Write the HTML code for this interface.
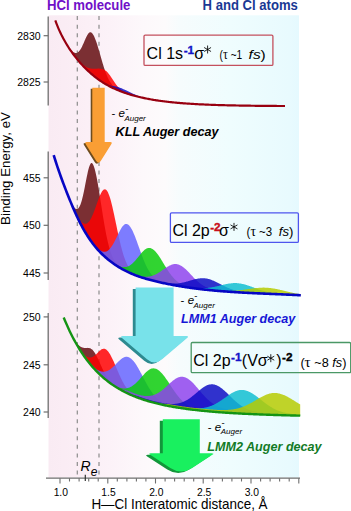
<!DOCTYPE html>
<html><head><meta charset="utf-8"><style>
html,body{margin:0;padding:0;background:#fff;}
body{width:351px;height:511px;overflow:hidden;position:relative;font-family:"Liberation Sans",sans-serif;}
svg{position:absolute;left:0;top:0;display:block;font-family:"Liberation Sans",sans-serif;}
</style></head><body>
<svg width="351" height="511" viewBox="0 0 351 511">
<defs>
<linearGradient id="bg" x1="48.5" y1="0" x2="299" y2="0" gradientUnits="userSpaceOnUse">
<stop offset="0" stop-color="#f9ebf3"/><stop offset="0.06" stop-color="#faecf4"/><stop offset="0.245" stop-color="#fcf2f8"/><stop offset="0.373" stop-color="#fdf8fb"/><stop offset="0.465" stop-color="#fdfbfc"/><stop offset="0.525" stop-color="#f6fcfd"/><stop offset="0.725" stop-color="#effdfe"/><stop offset="0.96" stop-color="#e8fafe"/><stop offset="1" stop-color="#e5f9fe"/>
</linearGradient></defs>
<rect x="0" y="0" width="351" height="511" fill="#fff"/>
<rect x="48.5" y="15.3" width="250.5" height="462.2" fill="url(#bg)"/>
<line x1="77.3" y1="16.1" x2="77.3" y2="476.5" stroke="#8c8c8c" stroke-width="1.2" stroke-dasharray="4.0 4.575"/>
<line x1="99.0" y1="16.1" x2="99.0" y2="476.5" stroke="#8c8c8c" stroke-width="1.2" stroke-dasharray="4.0 4.575"/>
<path d="M57.7,26.6 L58.2,27.8 L58.7,29.0 L59.2,30.1 L59.7,31.2 L60.2,32.3 L60.7,33.3 L61.2,34.4 L61.7,35.4 L62.2,36.3 L62.7,37.3 L63.2,38.2 L63.7,39.2 L64.2,40.1 L64.7,40.9 L65.2,41.8 L65.7,42.6 L66.2,43.4 L66.7,44.2 L67.2,45.0 L67.7,45.8 L68.2,46.5 L68.7,47.2 L69.2,47.9 L69.7,48.5 L70.2,49.2 L70.7,49.7 L71.2,50.3 L71.7,50.8 L72.2,51.3 L72.7,51.7 L73.2,52.1 L73.7,52.4 L74.2,52.6 L74.7,52.8 L75.2,53.0 L75.7,53.0 L76.2,53.0 L76.7,52.9 L77.2,52.7 L77.7,52.5 L78.2,52.1 L78.7,51.7 L79.2,51.1 L79.7,50.5 L80.2,49.8 L80.7,49.0 L81.2,48.2 L81.7,47.2 L82.2,46.2 L82.7,45.1 L83.2,44.0 L83.7,42.9 L84.2,41.7 L84.7,40.6 L85.2,39.4 L85.7,38.3 L86.2,37.2 L86.7,36.2 L87.2,35.3 L87.7,34.5 L88.2,33.7 L88.7,33.1 L89.2,32.7 L89.7,32.3 L90.2,32.2 L90.7,32.2 L91.2,32.4 L91.7,32.8 L92.2,33.3 L92.7,33.9 L93.2,34.7 L93.7,35.6 L94.2,36.6 L94.7,37.7 L95.2,38.9 L95.7,40.2 L96.2,41.6 L96.7,43.1 L97.2,44.6 L97.7,46.2 L98.2,47.9 L98.7,49.6 L99.2,51.3 L99.7,53.1 L100.2,54.8 L100.7,56.6 L101.2,58.3 L101.7,60.1 L102.2,61.8 L102.7,63.5 L103.2,65.1 L103.7,66.7 L104.2,68.2 L104.7,69.7 L105.2,71.1 L105.7,72.5 L106.2,73.8 L106.7,75.1 L107.2,76.3 L107.7,77.4 L108.2,78.4 L108.7,79.4 L109.2,80.4 L109.7,81.2 L110.2,82.1 L110.7,82.8 L111.2,83.6 L111.7,84.2 L112.2,84.9 L112.7,85.4 L113.2,86.0 L113.7,86.5 L114.2,87.0 L114.7,87.4 L115.2,87.8 L115.7,88.2 L116.2,88.6 L116.7,88.9 L117.2,89.2 L117.7,89.5 L118.2,89.8 L118.7,90.1 L119.2,90.4 L119.7,90.6 L120.2,90.9 L120.7,91.1 L121.2,91.3 L121.7,91.5 L122.2,91.7 L122.7,92.0 L123.2,92.2 L123.7,92.3 L124.2,92.5 L124.7,92.7 L125.2,92.9 L125.7,93.1 L126.2,93.2 L126.7,93.4 L127.2,93.6 L127.7,93.8 L128.2,93.9 L128.7,94.1 L129.2,94.2 L129.7,94.4 L130.2,94.5 L130.7,94.7 L131.2,94.8 L131.6,95.0 L131.6,95.0 L131.2,94.8 L130.7,94.7 L130.2,94.5 L129.7,94.4 L129.2,94.2 L128.7,94.1 L128.2,93.9 L127.7,93.8 L127.2,93.6 L126.7,93.4 L126.2,93.3 L125.7,93.1 L125.2,92.9 L124.7,92.8 L124.2,92.6 L123.7,92.4 L123.2,92.2 L122.7,92.0 L122.2,91.9 L121.7,91.7 L121.2,91.5 L120.7,91.3 L120.2,91.1 L119.7,90.9 L119.2,90.7 L118.7,90.5 L118.2,90.3 L117.7,90.1 L117.2,89.9 L116.7,89.7 L116.2,89.4 L115.7,89.2 L115.2,89.0 L114.7,88.8 L114.2,88.5 L113.7,88.3 L113.2,88.1 L112.7,87.8 L112.2,87.6 L111.7,87.4 L111.2,87.1 L110.7,86.9 L110.2,86.6 L109.7,86.4 L109.2,86.1 L108.7,85.8 L108.2,85.6 L107.7,85.3 L107.2,85.0 L106.7,84.7 L106.2,84.4 L105.7,84.2 L105.2,83.9 L104.7,83.6 L104.2,83.3 L103.7,83.0 L103.2,82.6 L102.7,82.3 L102.2,82.0 L101.7,81.7 L101.2,81.4 L100.7,81.0 L100.2,80.7 L99.7,80.3 L99.2,80.0 L98.7,79.6 L98.2,79.3 L97.7,78.9 L97.2,78.5 L96.7,78.2 L96.2,77.8 L95.7,77.4 L95.2,77.0 L94.7,76.6 L94.2,76.2 L93.7,75.8 L93.2,75.4 L92.7,75.0 L92.2,74.6 L91.7,74.2 L91.2,73.7 L90.7,73.3 L90.2,72.9 L89.7,72.4 L89.2,72.0 L88.7,71.5 L88.2,71.0 L87.7,70.6 L87.2,70.1 L86.7,69.6 L86.2,69.1 L85.7,68.6 L85.2,68.1 L84.7,67.6 L84.2,67.1 L83.7,66.6 L83.2,66.1 L82.7,65.5 L82.2,65.0 L81.7,64.5 L81.2,63.9 L80.7,63.3 L80.2,62.8 L79.7,62.2 L79.2,61.6 L78.7,61.0 L78.2,60.5 L77.7,59.9 L77.2,59.2 L76.7,58.6 L76.2,58.0 L75.7,57.4 L75.2,56.7 L74.7,56.1 L74.2,55.4 L73.7,54.8 L73.2,54.1 L72.7,53.4 L72.2,52.7 L71.7,52.0 L71.2,51.3 L70.7,50.6 L70.2,49.8 L69.7,49.1 L69.2,48.4 L68.7,47.6 L68.2,46.8 L67.7,46.0 L67.2,45.2 L66.7,44.4 L66.2,43.6 L65.7,42.7 L65.2,41.9 L64.7,41.0 L64.2,40.1 L63.7,39.2 L63.2,38.3 L62.7,37.3 L62.2,36.4 L61.7,35.4 L61.2,34.4 L60.7,33.4 L60.2,32.3 L59.7,31.2 L59.2,30.1 L58.7,29.0 L58.2,27.8 L57.7,26.6Z" fill="#7b2f33"/>
<path d="M60.2,32.3 L60.7,33.4 L61.2,34.4 L61.7,35.4 L62.2,36.4 L62.7,37.4 L63.2,38.3 L63.7,39.2 L64.2,40.1 L64.7,41.0 L65.2,41.9 L65.7,42.8 L66.2,43.6 L66.7,44.4 L67.2,45.2 L67.7,46.0 L68.2,46.8 L68.7,47.6 L69.2,48.4 L69.7,49.1 L70.2,49.9 L70.7,50.6 L71.2,51.3 L71.7,52.0 L72.2,52.7 L72.7,53.4 L73.2,54.0 L73.7,54.7 L74.2,55.3 L74.7,56.0 L75.2,56.6 L75.7,57.2 L76.2,57.8 L76.7,58.4 L77.2,59.0 L77.7,59.6 L78.2,60.1 L78.7,60.7 L79.2,61.2 L79.7,61.7 L80.2,62.2 L80.7,62.7 L81.2,63.2 L81.7,63.6 L82.2,64.1 L82.7,64.5 L83.2,64.9 L83.7,65.3 L84.2,65.6 L84.7,66.0 L85.2,66.3 L85.7,66.6 L86.2,66.9 L86.7,67.2 L87.2,67.4 L87.7,67.7 L88.2,67.9 L88.7,68.0 L89.2,68.2 L89.7,68.3 L90.2,68.5 L90.7,68.6 L91.2,68.6 L91.7,68.7 L92.2,68.7 L92.7,68.8 L93.2,68.8 L93.7,68.8 L94.2,68.8 L94.7,68.8 L95.2,68.8 L95.7,68.7 L96.2,68.7 L96.7,68.7 L97.2,68.7 L97.7,68.6 L98.2,68.6 L98.7,68.6 L99.2,68.6 L99.7,68.7 L100.2,68.7 L100.7,68.7 L101.2,68.8 L101.7,68.9 L102.2,69.0 L102.7,69.2 L103.2,69.4 L103.7,69.6 L104.2,69.8 L104.7,70.1 L105.2,70.4 L105.7,70.7 L106.2,71.1 L106.7,71.6 L107.2,72.1 L107.7,72.6 L108.2,73.2 L108.7,73.8 L109.2,74.4 L109.7,75.1 L110.2,75.8 L110.7,76.6 L111.2,77.3 L111.7,78.1 L112.2,78.8 L112.7,79.6 L113.2,80.3 L113.7,81.1 L114.2,81.8 L114.7,82.6 L115.2,83.3 L115.7,84.0 L116.2,84.7 L116.7,85.3 L117.2,85.9 L117.7,86.5 L118.2,87.1 L118.7,87.6 L119.2,88.1 L119.7,88.6 L120.2,89.1 L120.7,89.5 L121.2,89.9 L121.7,90.3 L122.2,90.7 L122.7,91.0 L123.2,91.4 L123.7,91.7 L124.2,91.9 L124.7,92.2 L125.2,92.5 L125.7,92.7 L126.2,92.9 L126.7,93.2 L127.2,93.4 L127.7,93.6 L128.2,93.8 L128.7,94.0 L129.2,94.1 L129.7,94.3 L130.2,94.5 L130.7,94.6 L131.2,94.8 L131.7,95.0 L132.2,95.1 L132.7,95.3 L133.2,95.4 L133.7,95.5 L134.2,95.7 L134.7,95.8 L135.2,96.0 L135.7,96.1 L136.2,96.2 L136.7,96.4 L137.2,96.5 L137.7,96.6 L138.2,96.7 L138.7,96.9 L139.2,97.0 L139.7,97.1 L140.2,97.2 L140.2,97.2 L139.7,97.1 L139.2,97.0 L138.7,96.9 L138.2,96.7 L137.7,96.6 L137.2,96.5 L136.7,96.4 L136.2,96.2 L135.7,96.1 L135.2,96.0 L134.7,95.8 L134.2,95.7 L133.7,95.6 L133.2,95.4 L132.7,95.3 L132.2,95.1 L131.7,95.0 L131.2,94.8 L130.7,94.7 L130.2,94.6 L129.7,94.4 L129.2,94.2 L128.7,94.1 L128.2,93.9 L127.7,93.8 L127.2,93.6 L126.7,93.4 L126.2,93.3 L125.7,93.1 L125.2,92.9 L124.7,92.8 L124.2,92.6 L123.7,92.4 L123.2,92.2 L122.7,92.0 L122.2,91.9 L121.7,91.7 L121.2,91.5 L120.7,91.3 L120.2,91.1 L119.7,90.9 L119.2,90.7 L118.7,90.5 L118.2,90.3 L117.7,90.1 L117.2,89.9 L116.7,89.7 L116.2,89.4 L115.7,89.2 L115.2,89.0 L114.7,88.8 L114.2,88.6 L113.7,88.3 L113.2,88.1 L112.7,87.9 L112.2,87.6 L111.7,87.4 L111.2,87.1 L110.7,86.9 L110.2,86.6 L109.7,86.4 L109.2,86.1 L108.7,85.8 L108.2,85.6 L107.7,85.3 L107.2,85.0 L106.7,84.7 L106.2,84.5 L105.7,84.2 L105.2,83.9 L104.7,83.6 L104.2,83.3 L103.7,83.0 L103.2,82.7 L102.7,82.3 L102.2,82.0 L101.7,81.7 L101.2,81.4 L100.7,81.0 L100.2,80.7 L99.7,80.3 L99.2,80.0 L98.7,79.6 L98.2,79.3 L97.7,78.9 L97.2,78.6 L96.7,78.2 L96.2,77.8 L95.7,77.4 L95.2,77.0 L94.7,76.6 L94.2,76.2 L93.7,75.8 L93.2,75.4 L92.7,75.0 L92.2,74.6 L91.7,74.2 L91.2,73.7 L90.7,73.3 L90.2,72.9 L89.7,72.4 L89.2,72.0 L88.7,71.5 L88.2,71.1 L87.7,70.6 L87.2,70.1 L86.7,69.6 L86.2,69.1 L85.7,68.6 L85.2,68.1 L84.7,67.6 L84.2,67.1 L83.7,66.6 L83.2,66.1 L82.7,65.6 L82.2,65.0 L81.7,64.5 L81.2,63.9 L80.7,63.4 L80.2,62.8 L79.7,62.2 L79.2,61.7 L78.7,61.1 L78.2,60.5 L77.7,59.9 L77.2,59.3 L76.7,58.7 L76.2,58.0 L75.7,57.4 L75.2,56.8 L74.7,56.1 L74.2,55.5 L73.7,54.8 L73.2,54.1 L72.7,53.4 L72.2,52.7 L71.7,52.0 L71.2,51.3 L70.7,50.6 L70.2,49.9 L69.7,49.1 L69.2,48.4 L68.7,47.6 L68.2,46.8 L67.7,46.1 L67.2,45.3 L66.7,44.4 L66.2,43.6 L65.7,42.8 L65.2,41.9 L64.7,41.0 L64.2,40.1 L63.7,39.2 L63.2,38.3 L62.7,37.4 L62.2,36.4 L61.7,35.4 L61.2,34.4 L60.7,33.4 L60.2,32.3Z" fill="#ff0000" fill-opacity="0.84"/>
<path d="M88.0,70.9 L88.5,71.3 L89.0,71.8 L89.5,72.2 L90.0,72.7 L90.5,73.1 L91.0,73.6 L91.5,74.0 L92.0,74.4 L92.5,74.9 L93.0,75.3 L93.5,75.7 L94.0,76.1 L94.5,76.5 L95.0,76.9 L95.5,77.3 L96.0,77.6 L96.5,78.0 L97.0,78.4 L97.5,78.8 L98.0,79.1 L98.5,79.5 L99.0,79.8 L99.5,80.2 L100.0,80.5 L100.5,80.8 L101.0,81.1 L101.5,81.5 L102.0,81.8 L102.5,82.1 L103.0,82.3 L103.5,82.6 L104.0,82.9 L104.5,83.2 L105.0,83.4 L105.5,83.7 L106.0,83.9 L106.5,84.1 L107.0,84.3 L107.5,84.5 L108.0,84.7 L108.5,84.9 L109.0,85.0 L109.5,85.2 L110.0,85.3 L110.5,85.4 L111.0,85.6 L111.5,85.7 L112.0,85.8 L112.5,85.9 L113.0,86.0 L113.5,86.1 L114.0,86.2 L114.5,86.3 L115.0,86.3 L115.5,86.4 L116.0,86.5 L116.5,86.7 L117.0,86.8 L117.5,86.9 L118.0,87.0 L118.5,87.2 L119.0,87.4 L119.5,87.5 L120.0,87.7 L120.5,87.9 L121.0,88.1 L121.5,88.3 L122.0,88.5 L122.5,88.8 L123.0,89.0 L123.5,89.2 L124.0,89.4 L124.5,89.6 L125.0,89.9 L125.5,90.1 L126.0,90.3 L126.5,90.6 L127.0,90.8 L127.5,91.1 L128.0,91.3 L128.5,91.5 L129.0,91.8 L129.5,92.0 L130.0,92.3 L130.5,92.5 L131.0,92.7 L131.5,93.0 L132.0,93.2 L132.5,93.4 L133.0,93.7 L133.5,93.9 L134.0,94.1 L134.5,94.3 L135.0,94.5 L135.5,94.8 L136.0,95.0 L136.5,95.2 L137.0,95.4 L137.5,95.6 L138.0,95.8 L138.5,95.9 L139.0,96.1 L139.5,96.3 L140.0,96.5 L140.5,96.6 L141.0,96.8 L141.5,97.0 L142.0,97.1 L142.5,97.3 L143.0,97.4 L143.5,97.6 L144.0,97.7 L144.5,97.8 L145.0,98.0 L145.5,98.1 L146.0,98.2 L146.5,98.4 L147.0,98.5 L147.5,98.6 L148.0,98.7 L148.5,98.8 L149.0,98.9 L149.5,99.0 L150.0,99.1 L150.5,99.2 L151.0,99.3 L151.5,99.4 L152.0,99.5 L152.5,99.6 L153.0,99.7 L153.5,99.8 L154.0,99.9 L154.5,100.0 L155.0,100.1 L155.5,100.1 L156.0,100.2 L156.5,100.3 L157.0,100.4 L157.5,100.5 L158.0,100.5 L158.5,100.6 L159.0,100.7 L159.5,100.8 L160.0,100.8 L160.5,100.9 L161.0,101.0 L161.5,101.0 L162.0,101.1 L162.5,101.2 L163.0,101.2 L163.5,101.3 L164.0,101.4 L164.5,101.4 L165.0,101.5 L165.5,101.5 L166.0,101.6 L166.5,101.7 L167.0,101.7 L167.5,101.8 L168.0,101.8 L168.5,101.9 L169.0,102.0 L169.5,102.0 L170.0,102.1 L170.5,102.1 L171.0,102.2 L171.2,102.2 L171.2,102.2 L171.0,102.2 L170.5,102.1 L170.0,102.1 L169.5,102.0 L169.0,102.0 L168.5,101.9 L168.0,101.8 L167.5,101.8 L167.0,101.7 L166.5,101.7 L166.0,101.6 L165.5,101.6 L165.0,101.5 L164.5,101.4 L164.0,101.4 L163.5,101.3 L163.0,101.2 L162.5,101.2 L162.0,101.1 L161.5,101.0 L161.0,101.0 L160.5,100.9 L160.0,100.8 L159.5,100.8 L159.0,100.7 L158.5,100.6 L158.0,100.5 L157.5,100.5 L157.0,100.4 L156.5,100.3 L156.0,100.2 L155.5,100.2 L155.0,100.1 L154.5,100.0 L154.0,99.9 L153.5,99.8 L153.0,99.8 L152.5,99.7 L152.0,99.6 L151.5,99.5 L151.0,99.4 L150.5,99.3 L150.0,99.2 L149.5,99.1 L149.0,99.1 L148.5,99.0 L148.0,98.9 L147.5,98.8 L147.0,98.7 L146.5,98.6 L146.0,98.5 L145.5,98.4 L145.0,98.3 L144.5,98.2 L144.0,98.1 L143.5,98.0 L143.0,97.8 L142.5,97.7 L142.0,97.6 L141.5,97.5 L141.0,97.4 L140.5,97.3 L140.0,97.2 L139.5,97.1 L139.0,96.9 L138.5,96.8 L138.0,96.7 L137.5,96.6 L137.0,96.4 L136.5,96.3 L136.0,96.2 L135.5,96.0 L135.0,95.9 L134.5,95.8 L134.0,95.6 L133.5,95.5 L133.0,95.4 L132.5,95.2 L132.0,95.1 L131.5,94.9 L131.0,94.8 L130.5,94.6 L130.0,94.5 L129.5,94.3 L129.0,94.2 L128.5,94.0 L128.0,93.9 L127.5,93.7 L127.0,93.5 L126.5,93.4 L126.0,93.2 L125.5,93.0 L125.0,92.9 L124.5,92.7 L124.0,92.5 L123.5,92.3 L123.0,92.2 L122.5,92.0 L122.0,91.8 L121.5,91.6 L121.0,91.4 L120.5,91.2 L120.0,91.0 L119.5,90.8 L119.0,90.6 L118.5,90.4 L118.0,90.2 L117.5,90.0 L117.0,89.8 L116.5,89.6 L116.0,89.4 L115.5,89.1 L115.0,88.9 L114.5,88.7 L114.0,88.5 L113.5,88.2 L113.0,88.0 L112.5,87.8 L112.0,87.5 L111.5,87.3 L111.0,87.0 L110.5,86.8 L110.0,86.5 L109.5,86.3 L109.0,86.0 L108.5,85.7 L108.0,85.5 L107.5,85.2 L107.0,84.9 L106.5,84.6 L106.0,84.3 L105.5,84.1 L105.0,83.8 L104.5,83.5 L104.0,83.2 L103.5,82.8 L103.0,82.5 L102.5,82.2 L102.0,81.9 L101.5,81.6 L101.0,81.2 L100.5,80.9 L100.0,80.6 L99.5,80.2 L99.0,79.9 L98.5,79.5 L98.0,79.1 L97.5,78.8 L97.0,78.4 L96.5,78.0 L96.0,77.7 L95.5,77.3 L95.0,76.9 L94.5,76.5 L94.0,76.1 L93.5,75.7 L93.0,75.3 L92.5,74.9 L92.0,74.4 L91.5,74.0 L91.0,73.6 L90.5,73.1 L90.0,72.7 L89.5,72.2 L89.0,71.8 L88.5,71.3 L88.0,70.9Z" fill="#0b0bc3" fill-opacity="0.84"/>
<path d="M60.4,175.4 L60.9,176.8 L61.4,178.2 L61.9,179.5 L62.4,180.9 L62.9,182.3 L63.4,183.6 L63.9,184.9 L64.4,186.2 L64.9,187.5 L65.4,188.8 L65.9,190.1 L66.4,191.3 L66.9,192.6 L67.4,193.8 L67.9,195.0 L68.4,196.2 L68.9,197.4 L69.4,198.6 L69.9,199.7 L70.4,200.8 L70.9,201.8 L71.4,202.8 L71.9,203.8 L72.4,204.7 L72.9,205.6 L73.4,206.4 L73.9,207.1 L74.4,207.7 L74.9,208.2 L75.4,208.6 L75.9,208.9 L76.4,209.1 L76.9,209.1 L77.4,209.0 L77.9,208.7 L78.4,208.3 L78.9,207.6 L79.4,206.8 L79.9,205.8 L80.4,204.7 L80.9,203.3 L81.4,201.7 L81.9,200.0 L82.4,198.0 L82.9,195.9 L83.4,193.7 L83.9,191.4 L84.4,188.9 L84.9,186.4 L85.4,183.8 L85.9,181.3 L86.4,178.7 L86.9,176.2 L87.4,173.9 L87.9,171.6 L88.4,169.6 L88.9,167.7 L89.4,166.2 L89.9,164.9 L90.4,163.9 L90.9,163.2 L91.4,163.0 L91.9,163.0 L92.4,163.5 L92.9,164.3 L93.4,165.3 L93.9,166.6 L94.4,168.1 L94.9,169.8 L95.4,171.8 L95.9,173.9 L96.4,176.3 L96.9,178.8 L97.4,181.4 L97.9,184.2 L98.4,187.2 L98.9,190.2 L99.4,193.3 L99.9,196.4 L100.4,199.7 L100.9,202.9 L101.4,206.1 L101.9,209.3 L102.4,212.5 L102.9,215.7 L103.4,218.7 L103.9,221.7 L104.4,224.7 L104.9,227.5 L105.4,230.3 L105.9,232.9 L106.4,235.4 L106.9,237.8 L107.4,240.1 L107.9,242.3 L108.4,244.3 L108.9,246.2 L109.4,248.0 L109.9,249.7 L110.4,251.3 L110.9,252.8 L111.4,254.2 L111.9,255.5 L112.4,256.7 L112.9,257.8 L113.4,258.8 L113.9,259.8 L114.4,260.6 L114.9,261.5 L115.4,262.2 L115.9,262.9 L116.4,263.6 L116.9,264.2 L117.4,264.8 L117.9,265.3 L118.4,265.8 L118.9,266.3 L119.4,266.7 L119.9,267.1 L120.4,267.5 L120.9,267.9 L121.4,268.3 L121.9,268.6 L122.4,269.0 L122.9,269.3 L123.4,269.6 L123.9,269.9 L124.4,270.2 L124.9,270.4 L125.4,270.7 L125.9,271.0 L126.4,271.2 L126.9,271.5 L127.4,271.8 L127.9,272.0 L128.4,272.2 L128.9,272.5 L129.4,272.7 L129.9,272.9 L130.4,273.2 L130.9,273.4 L131.4,273.6 L131.9,273.8 L132.4,274.0 L132.4,274.0 L131.9,273.8 L131.4,273.6 L130.9,273.4 L130.4,273.2 L129.9,272.9 L129.4,272.7 L128.9,272.5 L128.4,272.3 L127.9,272.0 L127.4,271.8 L126.9,271.5 L126.4,271.3 L125.9,271.0 L125.4,270.8 L124.9,270.5 L124.4,270.3 L123.9,270.0 L123.4,269.7 L122.9,269.5 L122.4,269.2 L121.9,268.9 L121.4,268.6 L120.9,268.4 L120.4,268.1 L119.9,267.8 L119.4,267.5 L118.9,267.2 L118.4,266.9 L117.9,266.5 L117.4,266.2 L116.9,265.9 L116.4,265.6 L115.9,265.3 L115.4,264.9 L114.9,264.6 L114.4,264.2 L113.9,263.9 L113.4,263.5 L112.9,263.2 L112.4,262.8 L111.9,262.5 L111.4,262.1 L110.9,261.7 L110.4,261.3 L109.9,260.9 L109.4,260.5 L108.9,260.1 L108.4,259.7 L107.9,259.3 L107.4,258.9 L106.9,258.5 L106.4,258.1 L105.9,257.6 L105.4,257.2 L104.9,256.8 L104.4,256.3 L103.9,255.9 L103.4,255.4 L102.9,254.9 L102.4,254.4 L101.9,253.9 L101.4,253.4 L100.9,252.9 L100.4,252.4 L99.9,251.9 L99.4,251.4 L98.9,250.8 L98.4,250.3 L97.9,249.8 L97.4,249.2 L96.9,248.6 L96.4,248.0 L95.9,247.4 L95.4,246.8 L94.9,246.2 L94.4,245.6 L93.9,245.0 L93.4,244.3 L92.9,243.7 L92.4,243.0 L91.9,242.3 L91.4,241.7 L90.9,241.0 L90.4,240.3 L89.9,239.5 L89.4,238.8 L88.9,238.1 L88.4,237.3 L87.9,236.5 L87.4,235.8 L86.9,235.0 L86.4,234.2 L85.9,233.4 L85.4,232.5 L84.9,231.7 L84.4,230.8 L83.9,230.0 L83.4,229.1 L82.9,228.2 L82.4,227.3 L81.9,226.3 L81.4,225.4 L80.9,224.5 L80.4,223.5 L79.9,222.5 L79.4,221.5 L78.9,220.5 L78.4,219.5 L77.9,218.4 L77.4,217.4 L76.9,216.3 L76.4,215.2 L75.9,214.1 L75.4,213.0 L74.9,211.9 L74.4,210.8 L73.9,209.7 L73.4,208.5 L72.9,207.3 L72.4,206.2 L71.9,205.0 L71.4,203.8 L70.9,202.6 L70.4,201.4 L69.9,200.2 L69.4,199.0 L68.9,197.7 L68.4,196.5 L67.9,195.2 L67.4,194.0 L66.9,192.7 L66.4,191.4 L65.9,190.1 L65.4,188.9 L64.9,187.6 L64.4,186.3 L63.9,184.9 L63.4,183.6 L62.9,182.3 L62.4,180.9 L61.9,179.6 L61.4,178.2 L60.9,176.8 L60.4,175.4Z" fill="#7b2f33"/>
<path d="M59.8,173.7 L60.3,175.1 L60.8,176.5 L61.3,177.9 L61.8,179.3 L62.3,180.6 L62.8,182.0 L63.3,183.3 L63.8,184.7 L64.3,186.0 L64.8,187.3 L65.3,188.6 L65.8,189.9 L66.3,191.1 L66.8,192.4 L67.3,193.7 L67.8,194.9 L68.3,196.2 L68.8,197.4 L69.3,198.6 L69.8,199.8 L70.3,201.0 L70.8,202.2 L71.3,203.4 L71.8,204.5 L72.3,205.7 L72.8,206.8 L73.3,207.9 L73.8,209.0 L74.3,210.0 L74.8,211.1 L75.3,212.1 L75.8,213.1 L76.3,214.0 L76.8,215.0 L77.3,215.9 L77.8,216.8 L78.3,217.6 L78.8,218.4 L79.3,219.1 L79.8,219.8 L80.3,220.5 L80.8,221.1 L81.3,221.7 L81.8,222.2 L82.3,222.6 L82.8,223.0 L83.3,223.3 L83.8,223.5 L84.3,223.7 L84.8,223.8 L85.3,223.8 L85.8,223.8 L86.3,223.7 L86.8,223.5 L87.3,223.2 L87.8,222.8 L88.3,222.3 L88.8,221.8 L89.3,221.2 L89.8,220.5 L90.3,219.7 L90.8,218.8 L91.3,217.9 L91.8,216.8 L92.3,215.8 L92.8,214.6 L93.3,213.4 L93.8,212.1 L94.3,210.8 L94.8,209.5 L95.3,208.1 L95.8,206.7 L96.3,205.3 L96.8,203.8 L97.3,202.4 L97.8,201.0 L98.3,199.7 L98.8,198.3 L99.3,197.1 L99.8,195.8 L100.3,194.7 L100.8,193.7 L101.3,192.7 L101.8,191.8 L102.3,191.1 L102.8,190.5 L103.3,190.0 L103.8,189.6 L104.3,189.4 L104.8,189.3 L105.3,189.4 L105.8,189.6 L106.3,190.0 L106.8,190.5 L107.3,191.3 L107.8,192.1 L108.3,193.2 L108.8,194.4 L109.3,195.7 L109.8,197.2 L110.3,198.8 L110.8,200.6 L111.3,202.5 L111.8,204.4 L112.3,206.5 L112.8,208.7 L113.3,210.9 L113.8,213.2 L114.3,215.5 L114.8,217.9 L115.3,220.3 L115.8,222.7 L116.3,225.1 L116.8,227.5 L117.3,229.9 L117.8,232.3 L118.3,234.6 L118.8,236.9 L119.3,239.1 L119.8,241.2 L120.3,243.3 L120.8,245.4 L121.3,247.3 L121.8,249.2 L122.3,251.0 L122.8,252.8 L123.3,254.4 L123.8,256.0 L124.3,257.4 L124.8,258.8 L125.3,260.2 L125.8,261.4 L126.3,262.6 L126.8,263.7 L127.3,264.7 L127.8,265.7 L128.3,266.6 L128.8,267.4 L129.3,268.2 L129.8,268.9 L130.3,269.6 L130.8,270.2 L131.3,270.8 L131.8,271.4 L132.3,271.9 L132.8,272.3 L133.3,272.8 L133.8,273.2 L134.3,273.6 L134.8,273.9 L135.3,274.3 L135.8,274.6 L136.3,274.9 L136.8,275.2 L137.3,275.4 L137.8,275.7 L138.3,275.9 L138.8,276.2 L139.3,276.4 L139.8,276.6 L140.3,276.8 L140.8,277.0 L141.3,277.2 L141.8,277.4 L142.3,277.5 L142.8,277.7 L143.3,277.9 L143.8,278.0 L144.3,278.2 L144.8,278.4 L145.3,278.5 L145.8,278.7 L146.3,278.8 L146.8,279.0 L147.3,279.1 L147.8,279.2 L148.3,279.4 L148.8,279.5 L149.3,279.7 L149.8,279.8 L150.3,279.9 L150.8,280.1 L151.0,280.1 L151.0,280.1 L150.8,280.1 L150.3,279.9 L149.8,279.8 L149.3,279.7 L148.8,279.5 L148.3,279.4 L147.8,279.3 L147.3,279.1 L146.8,279.0 L146.3,278.8 L145.8,278.7 L145.3,278.5 L144.8,278.4 L144.3,278.2 L143.8,278.1 L143.3,277.9 L142.8,277.8 L142.3,277.6 L141.8,277.5 L141.3,277.3 L140.8,277.1 L140.3,277.0 L139.8,276.8 L139.3,276.6 L138.8,276.5 L138.3,276.3 L137.8,276.1 L137.3,275.9 L136.8,275.7 L136.3,275.6 L135.8,275.4 L135.3,275.2 L134.8,275.0 L134.3,274.8 L133.8,274.6 L133.3,274.4 L132.8,274.2 L132.3,274.0 L131.8,273.8 L131.3,273.6 L130.8,273.3 L130.3,273.1 L129.8,272.9 L129.3,272.7 L128.8,272.4 L128.3,272.2 L127.8,272.0 L127.3,271.7 L126.8,271.5 L126.3,271.2 L125.8,271.0 L125.3,270.7 L124.8,270.5 L124.3,270.2 L123.8,270.0 L123.3,269.7 L122.8,269.4 L122.3,269.1 L121.8,268.9 L121.3,268.6 L120.8,268.3 L120.3,268.0 L119.8,267.7 L119.3,267.4 L118.8,267.1 L118.3,266.8 L117.8,266.5 L117.3,266.2 L116.8,265.8 L116.3,265.5 L115.8,265.2 L115.3,264.9 L114.8,264.5 L114.3,264.2 L113.8,263.8 L113.3,263.5 L112.8,263.1 L112.3,262.7 L111.8,262.4 L111.3,262.0 L110.8,261.6 L110.3,261.2 L109.8,260.9 L109.3,260.5 L108.8,260.1 L108.3,259.7 L107.8,259.3 L107.3,258.8 L106.8,258.4 L106.3,258.0 L105.8,257.6 L105.3,257.1 L104.8,256.7 L104.3,256.2 L103.8,255.8 L103.3,255.3 L102.8,254.8 L102.3,254.3 L101.8,253.8 L101.3,253.3 L100.8,252.8 L100.3,252.3 L99.8,251.8 L99.3,251.3 L98.8,250.7 L98.3,250.2 L97.8,249.6 L97.3,249.1 L96.8,248.5 L96.3,247.9 L95.8,247.3 L95.3,246.7 L94.8,246.1 L94.3,245.5 L93.8,244.8 L93.3,244.2 L92.8,243.6 L92.3,242.9 L91.8,242.2 L91.3,241.5 L90.8,240.8 L90.3,240.1 L89.8,239.4 L89.3,238.7 L88.8,237.9 L88.3,237.2 L87.8,236.4 L87.3,235.6 L86.8,234.8 L86.3,234.0 L85.8,233.2 L85.3,232.4 L84.8,231.5 L84.3,230.7 L83.8,229.8 L83.3,228.9 L82.8,228.0 L82.3,227.1 L81.8,226.2 L81.3,225.2 L80.8,224.3 L80.3,223.3 L79.8,222.3 L79.3,221.3 L78.8,220.3 L78.3,219.3 L77.8,218.2 L77.3,217.2 L76.8,216.1 L76.3,215.0 L75.8,213.9 L75.3,212.8 L74.8,211.7 L74.3,210.6 L73.8,209.4 L73.3,208.3 L72.8,207.1 L72.3,205.9 L71.8,204.8 L71.3,203.6 L70.8,202.4 L70.3,201.2 L69.8,199.9 L69.3,198.7 L68.8,197.5 L68.3,196.2 L67.8,195.0 L67.3,193.7 L66.8,192.4 L66.3,191.2 L65.8,189.9 L65.3,188.6 L64.8,187.3 L64.3,186.0 L63.8,184.7 L63.3,183.3 L62.8,182.0 L62.3,180.6 L61.8,179.3 L61.3,177.9 L60.8,176.5 L60.3,175.1 L59.8,173.7Z" fill="#ff0000" fill-opacity="0.84"/>
<path d="M79.4,221.5 L79.9,222.5 L80.4,223.5 L80.9,224.5 L81.4,225.4 L81.9,226.3 L82.4,227.3 L82.9,228.2 L83.4,229.1 L83.9,230.0 L84.4,230.8 L84.9,231.7 L85.4,232.5 L85.9,233.3 L86.4,234.1 L86.9,234.9 L87.4,235.7 L87.9,236.5 L88.4,237.3 L88.9,238.0 L89.4,238.7 L89.9,239.4 L90.4,240.2 L90.9,240.8 L91.4,241.5 L91.9,242.2 L92.4,242.8 L92.9,243.4 L93.4,244.1 L93.9,244.7 L94.4,245.2 L94.9,245.8 L95.4,246.3 L95.9,246.9 L96.4,247.4 L96.9,247.9 L97.4,248.3 L97.9,248.8 L98.4,249.2 L98.9,249.6 L99.4,249.9 L99.9,250.3 L100.4,250.6 L100.9,250.8 L101.4,251.1 L101.9,251.3 L102.4,251.5 L102.9,251.6 L103.4,251.7 L103.9,251.8 L104.4,251.8 L104.9,251.7 L105.4,251.7 L105.9,251.5 L106.4,251.4 L106.9,251.2 L107.4,250.9 L107.9,250.6 L108.4,250.2 L108.9,249.7 L109.4,249.3 L109.9,248.7 L110.4,248.1 L110.9,247.5 L111.4,246.8 L111.9,246.1 L112.4,245.3 L112.9,244.5 L113.4,243.6 L113.9,242.7 L114.4,241.8 L114.9,240.8 L115.4,239.8 L115.9,238.8 L116.4,237.8 L116.9,236.7 L117.4,235.7 L117.9,234.7 L118.4,233.6 L118.9,232.6 L119.4,231.7 L119.9,230.7 L120.4,229.8 L120.9,228.9 L121.4,228.1 L121.9,227.3 L122.4,226.6 L122.9,226.0 L123.4,225.4 L123.9,224.9 L124.4,224.5 L124.9,224.2 L125.4,224.0 L125.9,223.9 L126.4,223.9 L126.9,224.0 L127.4,224.2 L127.9,224.5 L128.4,224.8 L128.9,225.3 L129.4,225.8 L129.9,226.4 L130.4,227.1 L130.9,227.9 L131.4,228.7 L131.9,229.6 L132.4,230.6 L132.9,231.6 L133.4,232.7 L133.9,233.9 L134.4,235.1 L134.9,236.3 L135.4,237.6 L135.9,238.9 L136.4,240.2 L136.9,241.6 L137.4,243.0 L137.9,244.4 L138.4,245.8 L138.9,247.2 L139.4,248.6 L139.9,250.0 L140.4,251.4 L140.9,252.8 L141.4,254.2 L141.9,255.5 L142.4,256.8 L142.9,258.1 L143.4,259.4 L143.9,260.6 L144.4,261.8 L144.9,263.0 L145.4,264.1 L145.9,265.2 L146.4,266.2 L146.9,267.2 L147.4,268.2 L147.9,269.1 L148.4,270.0 L148.9,270.8 L149.4,271.6 L149.9,272.4 L150.4,273.1 L150.9,273.8 L151.4,274.5 L151.9,275.1 L152.4,275.7 L152.9,276.2 L153.4,276.8 L153.9,277.2 L154.4,277.7 L154.9,278.1 L155.4,278.5 L155.9,278.9 L156.4,279.3 L156.9,279.6 L157.4,280.0 L157.9,280.3 L158.4,280.5 L158.9,280.8 L159.4,281.1 L159.9,281.3 L160.4,281.5 L160.9,281.7 L161.4,281.9 L161.9,282.1 L162.4,282.3 L162.9,282.5 L163.4,282.6 L163.9,282.8 L164.4,283.0 L164.9,283.1 L165.4,283.2 L165.9,283.4 L166.4,283.5 L166.9,283.6 L167.4,283.8 L167.9,283.9 L168.4,284.0 L168.9,284.1 L169.4,284.2 L169.9,284.3 L170.4,284.4 L170.9,284.5 L171.4,284.6 L171.9,284.7 L172.4,284.8 L172.9,284.9 L173.4,285.0 L173.9,285.1 L174.4,285.2 L174.9,285.3 L175.4,285.4 L175.9,285.5 L176.4,285.6 L176.9,285.7 L177.4,285.8 L177.9,285.9 L178.4,285.9 L178.9,286.0 L179.4,286.1 L179.9,286.2 L180.2,286.2 L180.2,286.2 L179.9,286.2 L179.4,286.1 L178.9,286.0 L178.4,285.9 L177.9,285.9 L177.4,285.8 L176.9,285.7 L176.4,285.6 L175.9,285.5 L175.4,285.4 L174.9,285.3 L174.4,285.2 L173.9,285.1 L173.4,285.1 L172.9,285.0 L172.4,284.9 L171.9,284.8 L171.4,284.7 L170.9,284.6 L170.4,284.5 L169.9,284.4 L169.4,284.3 L168.9,284.2 L168.4,284.1 L167.9,284.0 L167.4,283.9 L166.9,283.8 L166.4,283.7 L165.9,283.6 L165.4,283.5 L164.9,283.4 L164.4,283.3 L163.9,283.2 L163.4,283.1 L162.9,282.9 L162.4,282.8 L161.9,282.7 L161.4,282.6 L160.9,282.5 L160.4,282.4 L159.9,282.3 L159.4,282.2 L158.9,282.0 L158.4,281.9 L157.9,281.8 L157.4,281.7 L156.9,281.6 L156.4,281.5 L155.9,281.3 L155.4,281.2 L154.9,281.1 L154.4,281.0 L153.9,280.9 L153.4,280.7 L152.9,280.6 L152.4,280.5 L151.9,280.3 L151.4,280.2 L150.9,280.1 L150.4,280.0 L149.9,279.8 L149.4,279.7 L148.9,279.6 L148.4,279.4 L147.9,279.3 L147.4,279.1 L146.9,279.0 L146.4,278.9 L145.9,278.7 L145.4,278.6 L144.9,278.4 L144.4,278.3 L143.9,278.1 L143.4,278.0 L142.9,277.8 L142.4,277.7 L141.9,277.5 L141.4,277.3 L140.9,277.2 L140.4,277.0 L139.9,276.8 L139.4,276.7 L138.9,276.5 L138.4,276.3 L137.9,276.1 L137.4,276.0 L136.9,275.8 L136.4,275.6 L135.9,275.4 L135.4,275.2 L134.9,275.0 L134.4,274.8 L133.9,274.6 L133.4,274.4 L132.9,274.2 L132.4,274.0 L131.9,273.8 L131.4,273.6 L130.9,273.4 L130.4,273.2 L129.9,272.9 L129.4,272.7 L128.9,272.5 L128.4,272.3 L127.9,272.0 L127.4,271.8 L126.9,271.5 L126.4,271.3 L125.9,271.0 L125.4,270.8 L124.9,270.5 L124.4,270.3 L123.9,270.0 L123.4,269.7 L122.9,269.5 L122.4,269.2 L121.9,268.9 L121.4,268.6 L120.9,268.4 L120.4,268.1 L119.9,267.8 L119.4,267.5 L118.9,267.2 L118.4,266.9 L117.9,266.5 L117.4,266.2 L116.9,265.9 L116.4,265.6 L115.9,265.3 L115.4,264.9 L114.9,264.6 L114.4,264.2 L113.9,263.9 L113.4,263.5 L112.9,263.2 L112.4,262.8 L111.9,262.5 L111.4,262.1 L110.9,261.7 L110.4,261.3 L109.9,260.9 L109.4,260.5 L108.9,260.1 L108.4,259.7 L107.9,259.3 L107.4,258.9 L106.9,258.5 L106.4,258.1 L105.9,257.6 L105.4,257.2 L104.9,256.8 L104.4,256.3 L103.9,255.9 L103.4,255.4 L102.9,254.9 L102.4,254.4 L101.9,253.9 L101.4,253.4 L100.9,252.9 L100.4,252.4 L99.9,251.9 L99.4,251.4 L98.9,250.8 L98.4,250.3 L97.9,249.8 L97.4,249.2 L96.9,248.6 L96.4,248.0 L95.9,247.4 L95.4,246.8 L94.9,246.2 L94.4,245.6 L93.9,245.0 L93.4,244.3 L92.9,243.7 L92.4,243.0 L91.9,242.3 L91.4,241.7 L90.9,241.0 L90.4,240.3 L89.9,239.5 L89.4,238.8 L88.9,238.1 L88.4,237.3 L87.9,236.5 L87.4,235.8 L86.9,235.0 L86.4,234.2 L85.9,233.4 L85.4,232.5 L84.9,231.7 L84.4,230.8 L83.9,230.0 L83.4,229.1 L82.9,228.2 L82.4,227.3 L81.9,226.3 L81.4,225.4 L80.9,224.5 L80.4,223.5 L79.9,222.5 L79.4,221.5Z" fill="#6464ff" fill-opacity="0.84"/>
<path d="M95.9,247.4 L96.4,248.0 L96.9,248.6 L97.4,249.2 L97.9,249.7 L98.4,250.3 L98.9,250.8 L99.4,251.4 L99.9,251.9 L100.4,252.4 L100.9,252.9 L101.4,253.4 L101.9,253.9 L102.4,254.4 L102.9,254.9 L103.4,255.4 L103.9,255.8 L104.4,256.3 L104.9,256.7 L105.4,257.2 L105.9,257.6 L106.4,258.0 L106.9,258.5 L107.4,258.9 L107.9,259.3 L108.4,259.7 L108.9,260.1 L109.4,260.4 L109.9,260.8 L110.4,261.2 L110.9,261.6 L111.4,261.9 L111.9,262.3 L112.4,262.6 L112.9,262.9 L113.4,263.3 L113.9,263.6 L114.4,263.9 L114.9,264.2 L115.4,264.4 L115.9,264.7 L116.4,265.0 L116.9,265.2 L117.4,265.5 L117.9,265.7 L118.4,265.9 L118.9,266.1 L119.4,266.3 L119.9,266.5 L120.4,266.6 L120.9,266.8 L121.4,266.9 L121.9,267.0 L122.4,267.0 L122.9,267.1 L123.4,267.1 L123.9,267.2 L124.4,267.1 L124.9,267.1 L125.4,267.1 L125.9,267.0 L126.4,266.9 L126.9,266.7 L127.4,266.6 L127.9,266.4 L128.4,266.2 L128.9,266.0 L129.4,265.7 L129.9,265.4 L130.4,265.1 L130.9,264.7 L131.4,264.3 L131.9,263.9 L132.4,263.5 L132.9,263.0 L133.4,262.6 L133.9,262.1 L134.4,261.5 L134.9,261.0 L135.4,260.4 L135.9,259.8 L136.4,259.3 L136.9,258.6 L137.4,258.0 L137.9,257.4 L138.4,256.8 L138.9,256.2 L139.4,255.5 L139.9,254.9 L140.4,254.3 L140.9,253.7 L141.4,253.1 L141.9,252.5 L142.4,252.0 L142.9,251.4 L143.4,250.9 L143.9,250.4 L144.4,250.0 L144.9,249.6 L145.4,249.2 L145.9,248.9 L146.4,248.6 L146.9,248.4 L147.4,248.2 L147.9,248.0 L148.4,247.9 L148.9,247.9 L149.4,247.9 L149.9,247.9 L150.4,248.1 L150.9,248.2 L151.4,248.4 L151.9,248.7 L152.4,249.0 L152.9,249.3 L153.4,249.7 L153.9,250.1 L154.4,250.5 L154.9,251.0 L155.4,251.5 L155.9,252.1 L156.4,252.7 L156.9,253.3 L157.4,254.0 L157.9,254.6 L158.4,255.3 L158.9,256.1 L159.4,256.8 L159.9,257.6 L160.4,258.3 L160.9,259.1 L161.4,259.9 L161.9,260.7 L162.4,261.6 L162.9,262.4 L163.4,263.2 L163.9,264.0 L164.4,264.9 L164.9,265.7 L165.4,266.5 L165.9,267.3 L166.4,268.1 L166.9,268.9 L167.4,269.7 L167.9,270.5 L168.4,271.2 L168.9,272.0 L169.4,272.7 L169.9,273.4 L170.4,274.1 L170.9,274.7 L171.4,275.4 L171.9,276.0 L172.4,276.6 L172.9,277.2 L173.4,277.8 L173.9,278.3 L174.4,278.9 L174.9,279.4 L175.4,279.8 L175.9,280.3 L176.4,280.8 L176.9,281.2 L177.4,281.6 L177.9,282.0 L178.4,282.4 L178.9,282.7 L179.4,283.1 L179.9,283.4 L180.4,283.7 L180.9,284.0 L181.4,284.3 L181.9,284.5 L182.4,284.8 L182.9,285.0 L183.4,285.2 L183.9,285.4 L184.4,285.7 L184.9,285.8 L185.4,286.0 L185.9,286.2 L186.4,286.4 L186.9,286.5 L187.4,286.7 L187.9,286.8 L188.4,287.0 L188.9,287.1 L189.4,287.2 L189.9,287.3 L190.4,287.4 L190.9,287.6 L191.4,287.7 L191.9,287.8 L192.4,287.9 L192.9,287.9 L193.4,288.0 L193.9,288.1 L194.4,288.2 L194.9,288.3 L195.4,288.4 L195.9,288.4 L196.4,288.5 L196.9,288.6 L197.4,288.7 L197.9,288.7 L198.4,288.8 L198.9,288.9 L199.4,288.9 L199.9,289.0 L200.4,289.1 L200.9,289.1 L201.4,289.2 L201.9,289.3 L202.4,289.3 L202.9,289.4 L203.4,289.4 L203.9,289.5 L204.4,289.5 L204.9,289.6 L205.4,289.7 L205.9,289.7 L206.4,289.8 L206.9,289.8 L207.4,289.9 L207.9,289.9 L208.4,290.0 L208.9,290.0 L209.4,290.1 L209.9,290.1 L210.4,290.2 L210.9,290.2 L211.1,290.2 L211.1,290.3 L210.9,290.2 L210.4,290.2 L209.9,290.1 L209.4,290.1 L208.9,290.0 L208.4,290.0 L207.9,289.9 L207.4,289.9 L206.9,289.8 L206.4,289.8 L205.9,289.7 L205.4,289.7 L204.9,289.6 L204.4,289.6 L203.9,289.5 L203.4,289.4 L202.9,289.4 L202.4,289.3 L201.9,289.3 L201.4,289.2 L200.9,289.2 L200.4,289.1 L199.9,289.0 L199.4,289.0 L198.9,288.9 L198.4,288.9 L197.9,288.8 L197.4,288.7 L196.9,288.7 L196.4,288.6 L195.9,288.5 L195.4,288.5 L194.9,288.4 L194.4,288.4 L193.9,288.3 L193.4,288.2 L192.9,288.2 L192.4,288.1 L191.9,288.0 L191.4,288.0 L190.9,287.9 L190.4,287.8 L189.9,287.7 L189.4,287.7 L188.9,287.6 L188.4,287.5 L187.9,287.5 L187.4,287.4 L186.9,287.3 L186.4,287.2 L185.9,287.2 L185.4,287.1 L184.9,287.0 L184.4,286.9 L183.9,286.8 L183.4,286.8 L182.9,286.7 L182.4,286.6 L181.9,286.5 L181.4,286.4 L180.9,286.4 L180.4,286.3 L179.9,286.2 L179.4,286.1 L178.9,286.0 L178.4,285.9 L177.9,285.9 L177.4,285.8 L176.9,285.7 L176.4,285.6 L175.9,285.5 L175.4,285.4 L174.9,285.3 L174.4,285.2 L173.9,285.1 L173.4,285.1 L172.9,285.0 L172.4,284.9 L171.9,284.8 L171.4,284.7 L170.9,284.6 L170.4,284.5 L169.9,284.4 L169.4,284.3 L168.9,284.2 L168.4,284.1 L167.9,284.0 L167.4,283.9 L166.9,283.8 L166.4,283.7 L165.9,283.6 L165.4,283.5 L164.9,283.4 L164.4,283.3 L163.9,283.2 L163.4,283.1 L162.9,282.9 L162.4,282.8 L161.9,282.7 L161.4,282.6 L160.9,282.5 L160.4,282.4 L159.9,282.3 L159.4,282.2 L158.9,282.0 L158.4,281.9 L157.9,281.8 L157.4,281.7 L156.9,281.6 L156.4,281.5 L155.9,281.3 L155.4,281.2 L154.9,281.1 L154.4,281.0 L153.9,280.9 L153.4,280.7 L152.9,280.6 L152.4,280.5 L151.9,280.3 L151.4,280.2 L150.9,280.1 L150.4,280.0 L149.9,279.8 L149.4,279.7 L148.9,279.6 L148.4,279.4 L147.9,279.3 L147.4,279.1 L146.9,279.0 L146.4,278.9 L145.9,278.7 L145.4,278.6 L144.9,278.4 L144.4,278.3 L143.9,278.1 L143.4,278.0 L142.9,277.8 L142.4,277.7 L141.9,277.5 L141.4,277.3 L140.9,277.2 L140.4,277.0 L139.9,276.8 L139.4,276.7 L138.9,276.5 L138.4,276.3 L137.9,276.1 L137.4,276.0 L136.9,275.8 L136.4,275.6 L135.9,275.4 L135.4,275.2 L134.9,275.0 L134.4,274.8 L133.9,274.6 L133.4,274.4 L132.9,274.2 L132.4,274.0 L131.9,273.8 L131.4,273.6 L130.9,273.4 L130.4,273.2 L129.9,272.9 L129.4,272.7 L128.9,272.5 L128.4,272.3 L127.9,272.0 L127.4,271.8 L126.9,271.5 L126.4,271.3 L125.9,271.0 L125.4,270.8 L124.9,270.5 L124.4,270.3 L123.9,270.0 L123.4,269.7 L122.9,269.5 L122.4,269.2 L121.9,268.9 L121.4,268.6 L120.9,268.4 L120.4,268.1 L119.9,267.8 L119.4,267.5 L118.9,267.2 L118.4,266.9 L117.9,266.5 L117.4,266.2 L116.9,265.9 L116.4,265.6 L115.9,265.3 L115.4,264.9 L114.9,264.6 L114.4,264.2 L113.9,263.9 L113.4,263.5 L112.9,263.2 L112.4,262.8 L111.9,262.5 L111.4,262.1 L110.9,261.7 L110.4,261.3 L109.9,260.9 L109.4,260.5 L108.9,260.1 L108.4,259.7 L107.9,259.3 L107.4,258.9 L106.9,258.5 L106.4,258.1 L105.9,257.6 L105.4,257.2 L104.9,256.8 L104.4,256.3 L103.9,255.9 L103.4,255.4 L102.9,254.9 L102.4,254.4 L101.9,253.9 L101.4,253.4 L100.9,252.9 L100.4,252.4 L99.9,251.9 L99.4,251.4 L98.9,250.8 L98.4,250.3 L97.9,249.8 L97.4,249.2 L96.9,248.6 L96.4,248.0 L95.9,247.4Z" fill="#0acc0a" fill-opacity="0.84"/>
<path d="M113.0,263.3 L113.5,263.6 L114.0,264.0 L114.5,264.3 L115.0,264.6 L115.5,265.0 L116.0,265.3 L116.5,265.6 L117.0,266.0 L117.5,266.3 L118.0,266.6 L118.5,266.9 L119.0,267.2 L119.5,267.5 L120.0,267.8 L120.5,268.1 L121.0,268.4 L121.5,268.7 L122.0,269.0 L122.5,269.2 L123.0,269.5 L123.5,269.8 L124.0,270.0 L124.5,270.3 L125.0,270.6 L125.5,270.8 L126.0,271.1 L126.5,271.3 L127.0,271.5 L127.5,271.8 L128.0,272.0 L128.5,272.2 L129.0,272.5 L129.5,272.7 L130.0,272.9 L130.5,273.1 L131.0,273.3 L131.5,273.5 L132.0,273.7 L132.5,273.9 L133.0,274.1 L133.5,274.3 L134.0,274.5 L134.5,274.6 L135.0,274.8 L135.5,275.0 L136.0,275.1 L136.5,275.3 L137.0,275.4 L137.5,275.6 L138.0,275.7 L138.5,275.8 L139.0,276.0 L139.5,276.1 L140.0,276.2 L140.5,276.3 L141.0,276.4 L141.5,276.4 L142.0,276.5 L142.5,276.6 L143.0,276.7 L143.5,276.7 L144.0,276.7 L144.5,276.8 L145.0,276.8 L145.5,276.8 L146.0,276.8 L146.5,276.8 L147.0,276.8 L147.5,276.7 L148.0,276.7 L148.5,276.6 L149.0,276.6 L149.5,276.5 L150.0,276.4 L150.5,276.3 L151.0,276.1 L151.5,276.0 L152.0,275.9 L152.5,275.7 L153.0,275.5 L153.5,275.3 L154.0,275.1 L154.5,274.9 L155.0,274.7 L155.5,274.5 L156.0,274.2 L156.5,274.0 L157.0,273.7 L157.5,273.4 L158.0,273.1 L158.5,272.8 L159.0,272.5 L159.5,272.2 L160.0,271.9 L160.5,271.5 L161.0,271.2 L161.5,270.8 L162.0,270.5 L162.5,270.1 L163.0,269.8 L163.5,269.4 L164.0,269.1 L164.5,268.7 L165.0,268.4 L165.5,268.0 L166.0,267.7 L166.5,267.4 L167.0,267.1 L167.5,266.8 L168.0,266.5 L168.5,266.2 L169.0,265.9 L169.5,265.6 L170.0,265.4 L170.5,265.2 L171.0,265.0 L171.5,264.8 L172.0,264.6 L172.5,264.4 L173.0,264.3 L173.5,264.2 L174.0,264.1 L174.5,264.1 L175.0,264.1 L175.5,264.1 L176.0,264.1 L176.5,264.1 L177.0,264.2 L177.5,264.3 L178.0,264.4 L178.5,264.6 L179.0,264.8 L179.5,265.0 L180.0,265.2 L180.5,265.4 L181.0,265.7 L181.5,266.0 L182.0,266.3 L182.5,266.7 L183.0,267.1 L183.5,267.4 L184.0,267.8 L184.5,268.3 L185.0,268.7 L185.5,269.1 L186.0,269.6 L186.5,270.1 L187.0,270.6 L187.5,271.1 L188.0,271.6 L188.5,272.1 L189.0,272.6 L189.5,273.1 L190.0,273.7 L190.5,274.2 L191.0,274.7 L191.5,275.3 L192.0,275.8 L192.5,276.3 L193.0,276.8 L193.5,277.4 L194.0,277.9 L194.5,278.4 L195.0,278.9 L195.5,279.4 L196.0,279.8 L196.5,280.3 L197.0,280.8 L197.5,281.2 L198.0,281.7 L198.5,282.1 L199.0,282.5 L199.5,282.9 L200.0,283.3 L200.5,283.7 L201.0,284.1 L201.5,284.4 L202.0,284.8 L202.5,285.1 L203.0,285.4 L203.5,285.7 L204.0,286.0 L204.5,286.3 L205.0,286.6 L205.5,286.9 L206.0,287.1 L206.5,287.3 L207.0,287.6 L207.5,287.8 L208.0,288.0 L208.5,288.2 L209.0,288.4 L209.5,288.6 L210.0,288.7 L210.5,288.9 L211.0,289.0 L211.5,289.2 L212.0,289.3 L212.5,289.5 L213.0,289.6 L213.5,289.7 L214.0,289.8 L214.5,289.9 L215.0,290.0 L215.5,290.1 L216.0,290.2 L216.5,290.3 L217.0,290.4 L217.5,290.5 L218.0,290.6 L218.5,290.6 L219.0,290.7 L219.5,290.8 L220.0,290.8 L220.5,290.9 L221.0,291.0 L221.5,291.0 L222.0,291.1 L222.5,291.1 L223.0,291.2 L223.5,291.2 L224.0,291.3 L224.5,291.3 L225.0,291.4 L225.5,291.4 L226.0,291.5 L226.5,291.5 L227.0,291.5 L227.5,291.6 L228.0,291.6 L228.5,291.7 L229.0,291.7 L229.5,291.7 L230.0,291.8 L230.5,291.8 L231.0,291.9 L231.5,291.9 L232.0,291.9 L232.5,292.0 L233.0,292.0 L233.5,292.0 L234.0,292.1 L234.5,292.1 L235.0,292.1 L235.5,292.2 L236.0,292.2 L236.5,292.2 L237.0,292.2 L237.5,292.3 L238.0,292.3 L238.5,292.3 L239.0,292.4 L239.5,292.4 L240.0,292.4 L240.5,292.5 L241.0,292.5 L241.0,292.5 L240.5,292.5 L240.0,292.4 L239.5,292.4 L239.0,292.4 L238.5,292.3 L238.0,292.3 L237.5,292.3 L237.0,292.3 L236.5,292.2 L236.0,292.2 L235.5,292.2 L235.0,292.1 L234.5,292.1 L234.0,292.1 L233.5,292.0 L233.0,292.0 L232.5,292.0 L232.0,291.9 L231.5,291.9 L231.0,291.9 L230.5,291.8 L230.0,291.8 L229.5,291.8 L229.0,291.7 L228.5,291.7 L228.0,291.7 L227.5,291.6 L227.0,291.6 L226.5,291.6 L226.0,291.5 L225.5,291.5 L225.0,291.4 L224.5,291.4 L224.0,291.4 L223.5,291.3 L223.0,291.3 L222.5,291.2 L222.0,291.2 L221.5,291.2 L221.0,291.1 L220.5,291.1 L220.0,291.0 L219.5,291.0 L219.0,291.0 L218.5,290.9 L218.0,290.9 L217.5,290.8 L217.0,290.8 L216.5,290.7 L216.0,290.7 L215.5,290.7 L215.0,290.6 L214.5,290.6 L214.0,290.5 L213.5,290.5 L213.0,290.4 L212.5,290.4 L212.0,290.3 L211.5,290.3 L211.0,290.2 L210.5,290.2 L210.0,290.1 L209.5,290.1 L209.0,290.0 L208.5,290.0 L208.0,289.9 L207.5,289.9 L207.0,289.8 L206.5,289.8 L206.0,289.7 L205.5,289.7 L205.0,289.6 L204.5,289.6 L204.0,289.5 L203.5,289.5 L203.0,289.4 L202.5,289.3 L202.0,289.3 L201.5,289.2 L201.0,289.2 L200.5,289.1 L200.0,289.1 L199.5,289.0 L199.0,288.9 L198.5,288.9 L198.0,288.8 L197.5,288.8 L197.0,288.7 L196.5,288.6 L196.0,288.6 L195.5,288.5 L195.0,288.4 L194.5,288.4 L194.0,288.3 L193.5,288.2 L193.0,288.2 L192.5,288.1 L192.0,288.0 L191.5,288.0 L191.0,287.9 L190.5,287.8 L190.0,287.8 L189.5,287.7 L189.0,287.6 L188.5,287.5 L188.0,287.5 L187.5,287.4 L187.0,287.3 L186.5,287.2 L186.0,287.2 L185.5,287.1 L185.0,287.0 L184.5,286.9 L184.0,286.9 L183.5,286.8 L183.0,286.7 L182.5,286.6 L182.0,286.5 L181.5,286.5 L181.0,286.4 L180.5,286.3 L180.0,286.2 L179.5,286.1 L179.0,286.0 L178.5,286.0 L178.0,285.9 L177.5,285.8 L177.0,285.7 L176.5,285.6 L176.0,285.5 L175.5,285.4 L175.0,285.3 L174.5,285.3 L174.0,285.2 L173.5,285.1 L173.0,285.0 L172.5,284.9 L172.0,284.8 L171.5,284.7 L171.0,284.6 L170.5,284.5 L170.0,284.4 L169.5,284.3 L169.0,284.2 L168.5,284.1 L168.0,284.0 L167.5,283.9 L167.0,283.8 L166.5,283.7 L166.0,283.6 L165.5,283.5 L165.0,283.4 L164.5,283.3 L164.0,283.2 L163.5,283.1 L163.0,283.0 L162.5,282.9 L162.0,282.7 L161.5,282.6 L161.0,282.5 L160.5,282.4 L160.0,282.3 L159.5,282.2 L159.0,282.1 L158.5,282.0 L158.0,281.8 L157.5,281.7 L157.0,281.6 L156.5,281.5 L156.0,281.4 L155.5,281.2 L155.0,281.1 L154.5,281.0 L154.0,280.9 L153.5,280.8 L153.0,280.6 L152.5,280.5 L152.0,280.4 L151.5,280.2 L151.0,280.1 L150.5,280.0 L150.0,279.9 L149.5,279.7 L149.0,279.6 L148.5,279.4 L148.0,279.3 L147.5,279.2 L147.0,279.0 L146.5,278.9 L146.0,278.7 L145.5,278.6 L145.0,278.5 L144.5,278.3 L144.0,278.2 L143.5,278.0 L143.0,277.8 L142.5,277.7 L142.0,277.5 L141.5,277.4 L141.0,277.2 L140.5,277.0 L140.0,276.9 L139.5,276.7 L139.0,276.5 L138.5,276.4 L138.0,276.2 L137.5,276.0 L137.0,275.8 L136.5,275.6 L136.0,275.4 L135.5,275.3 L135.0,275.1 L134.5,274.9 L134.0,274.7 L133.5,274.5 L133.0,274.3 L132.5,274.1 L132.0,273.9 L131.5,273.6 L131.0,273.4 L130.5,273.2 L130.0,273.0 L129.5,272.8 L129.0,272.5 L128.5,272.3 L128.0,272.1 L127.5,271.8 L127.0,271.6 L126.5,271.3 L126.0,271.1 L125.5,270.8 L125.0,270.6 L124.5,270.3 L124.0,270.1 L123.5,269.8 L123.0,269.5 L122.5,269.3 L122.0,269.0 L121.5,268.7 L121.0,268.4 L120.5,268.1 L120.0,267.8 L119.5,267.5 L119.0,267.2 L118.5,266.9 L118.0,266.6 L117.5,266.3 L117.0,266.0 L116.5,265.6 L116.0,265.3 L115.5,265.0 L115.0,264.7 L114.5,264.3 L114.0,264.0 L113.5,263.6 L113.0,263.3Z" fill="#8e41ed" fill-opacity="0.84"/>
<path d="M134.6,274.9 L135.1,275.1 L135.6,275.3 L136.1,275.5 L136.6,275.7 L137.1,275.9 L137.6,276.0 L138.1,276.2 L138.6,276.4 L139.1,276.6 L139.6,276.7 L140.1,276.9 L140.6,277.1 L141.1,277.2 L141.6,277.4 L142.1,277.6 L142.6,277.7 L143.1,277.9 L143.6,278.0 L144.1,278.2 L144.6,278.3 L145.1,278.5 L145.6,278.6 L146.1,278.8 L146.6,278.9 L147.1,279.0 L147.6,279.2 L148.1,279.3 L148.6,279.5 L149.1,279.6 L149.6,279.7 L150.1,279.9 L150.6,280.0 L151.1,280.1 L151.6,280.2 L152.1,280.4 L152.6,280.5 L153.1,280.6 L153.6,280.7 L154.1,280.8 L154.6,281.0 L155.1,281.1 L155.6,281.2 L156.1,281.3 L156.6,281.4 L157.1,281.5 L157.6,281.6 L158.1,281.7 L158.6,281.8 L159.1,281.9 L159.6,282.0 L160.1,282.1 L160.6,282.2 L161.1,282.3 L161.6,282.4 L162.1,282.5 L162.6,282.6 L163.1,282.7 L163.6,282.8 L164.1,282.8 L164.6,282.9 L165.1,283.0 L165.6,283.1 L166.1,283.1 L166.6,283.2 L167.1,283.2 L167.6,283.3 L168.1,283.4 L168.6,283.4 L169.1,283.4 L169.6,283.5 L170.1,283.5 L170.6,283.5 L171.1,283.6 L171.6,283.6 L172.1,283.6 L172.6,283.6 L173.1,283.6 L173.6,283.6 L174.1,283.6 L174.6,283.6 L175.1,283.6 L175.6,283.6 L176.1,283.5 L176.6,283.5 L177.1,283.5 L177.6,283.4 L178.1,283.4 L178.6,283.3 L179.1,283.2 L179.6,283.2 L180.1,283.1 L180.6,283.0 L181.1,282.9 L181.6,282.8 L182.1,282.7 L182.6,282.6 L183.1,282.5 L183.6,282.4 L184.1,282.3 L184.6,282.2 L185.1,282.0 L185.6,281.9 L186.1,281.8 L186.6,281.6 L187.1,281.5 L187.6,281.4 L188.1,281.2 L188.6,281.1 L189.1,280.9 L189.6,280.8 L190.1,280.6 L190.6,280.5 L191.1,280.3 L191.6,280.2 L192.1,280.0 L192.6,279.9 L193.1,279.7 L193.6,279.6 L194.1,279.5 L194.6,279.3 L195.1,279.2 L195.6,279.1 L196.1,279.0 L196.6,278.9 L197.1,278.8 L197.6,278.7 L198.1,278.6 L198.6,278.5 L199.1,278.4 L199.6,278.4 L200.1,278.3 L200.6,278.3 L201.1,278.2 L201.6,278.2 L202.1,278.2 L202.6,278.2 L203.1,278.2 L203.6,278.2 L204.1,278.2 L204.6,278.3 L205.1,278.3 L205.6,278.4 L206.1,278.5 L206.6,278.6 L207.1,278.6 L207.6,278.8 L208.1,278.9 L208.6,279.0 L209.1,279.1 L209.6,279.3 L210.1,279.4 L210.6,279.6 L211.1,279.8 L211.6,280.0 L212.1,280.2 L212.6,280.4 L213.1,280.6 L213.6,280.8 L214.1,281.0 L214.6,281.2 L215.1,281.5 L215.6,281.7 L216.1,282.0 L216.6,282.2 L217.1,282.5 L217.6,282.7 L218.1,283.0 L218.6,283.2 L219.1,283.5 L219.6,283.7 L220.1,284.0 L220.6,284.3 L221.1,284.5 L221.6,284.8 L222.1,285.0 L222.6,285.3 L223.1,285.6 L223.6,285.8 L224.1,286.1 L224.6,286.3 L225.1,286.5 L225.6,286.8 L226.1,287.0 L226.6,287.2 L227.1,287.5 L227.6,287.7 L228.1,287.9 L228.6,288.1 L229.1,288.3 L229.6,288.5 L230.1,288.7 L230.6,288.9 L231.1,289.1 L231.6,289.3 L232.1,289.5 L232.6,289.6 L233.1,289.8 L233.6,290.0 L234.1,290.1 L234.6,290.3 L235.1,290.4 L235.6,290.5 L236.1,290.7 L236.6,290.8 L237.1,290.9 L237.6,291.0 L238.1,291.1 L238.6,291.2 L239.1,291.4 L239.6,291.5 L240.1,291.5 L240.6,291.6 L241.1,291.7 L241.6,291.8 L242.1,291.9 L242.6,292.0 L243.1,292.0 L243.6,292.1 L244.1,292.2 L244.6,292.2 L245.1,292.3 L245.6,292.4 L246.1,292.4 L246.6,292.5 L247.1,292.5 L247.6,292.6 L248.1,292.6 L248.6,292.7 L249.1,292.7 L249.6,292.8 L250.1,292.8 L250.6,292.8 L251.1,292.9 L251.6,292.9 L252.1,292.9 L252.6,293.0 L253.1,293.0 L253.6,293.0 L254.1,293.1 L254.6,293.1 L255.1,293.1 L255.6,293.2 L256.1,293.2 L256.6,293.2 L257.1,293.3 L257.6,293.3 L258.1,293.3 L258.6,293.3 L259.1,293.4 L259.6,293.4 L260.1,293.4 L260.6,293.4 L261.1,293.5 L261.6,293.5 L262.1,293.5 L262.6,293.5 L263.1,293.6 L263.6,293.6 L264.1,293.6 L264.6,293.6 L265.1,293.6 L265.6,293.7 L266.1,293.7 L266.6,293.7 L267.1,293.7 L267.6,293.8 L268.1,293.8 L268.6,293.8 L269.1,293.8 L269.6,293.8 L270.1,293.9 L270.6,293.9 L271.1,293.9 L271.6,293.9 L272.1,293.9 L272.6,294.0 L273.1,294.0 L273.6,294.0 L274.1,294.0 L274.6,294.1 L275.1,294.1 L275.4,294.1 L275.4,294.1 L275.1,294.1 L274.6,294.1 L274.1,294.0 L273.6,294.0 L273.1,294.0 L272.6,294.0 L272.1,293.9 L271.6,293.9 L271.1,293.9 L270.6,293.9 L270.1,293.9 L269.6,293.8 L269.1,293.8 L268.6,293.8 L268.1,293.8 L267.6,293.8 L267.1,293.7 L266.6,293.7 L266.1,293.7 L265.6,293.7 L265.1,293.7 L264.6,293.6 L264.1,293.6 L263.6,293.6 L263.1,293.6 L262.6,293.5 L262.1,293.5 L261.6,293.5 L261.1,293.5 L260.6,293.5 L260.1,293.4 L259.6,293.4 L259.1,293.4 L258.6,293.4 L258.1,293.3 L257.6,293.3 L257.1,293.3 L256.6,293.3 L256.1,293.3 L255.6,293.2 L255.1,293.2 L254.6,293.2 L254.1,293.2 L253.6,293.1 L253.1,293.1 L252.6,293.1 L252.1,293.1 L251.6,293.0 L251.1,293.0 L250.6,293.0 L250.1,293.0 L249.6,292.9 L249.1,292.9 L248.6,292.9 L248.1,292.9 L247.6,292.8 L247.1,292.8 L246.6,292.8 L246.1,292.8 L245.6,292.7 L245.1,292.7 L244.6,292.7 L244.1,292.7 L243.6,292.6 L243.1,292.6 L242.6,292.6 L242.1,292.5 L241.6,292.5 L241.1,292.5 L240.6,292.5 L240.1,292.4 L239.6,292.4 L239.1,292.4 L238.6,292.3 L238.1,292.3 L237.6,292.3 L237.1,292.3 L236.6,292.2 L236.1,292.2 L235.6,292.2 L235.1,292.1 L234.6,292.1 L234.1,292.1 L233.6,292.0 L233.1,292.0 L232.6,292.0 L232.1,291.9 L231.6,291.9 L231.1,291.9 L230.6,291.8 L230.1,291.8 L229.6,291.8 L229.1,291.7 L228.6,291.7 L228.1,291.7 L227.6,291.6 L227.1,291.6 L226.6,291.6 L226.1,291.5 L225.6,291.5 L225.1,291.4 L224.6,291.4 L224.1,291.4 L223.6,291.3 L223.1,291.3 L222.6,291.3 L222.1,291.2 L221.6,291.2 L221.1,291.1 L220.6,291.1 L220.1,291.1 L219.6,291.0 L219.1,291.0 L218.6,290.9 L218.1,290.9 L217.6,290.8 L217.1,290.8 L216.6,290.8 L216.1,290.7 L215.6,290.7 L215.1,290.6 L214.6,290.6 L214.1,290.5 L213.6,290.5 L213.1,290.4 L212.6,290.4 L212.1,290.3 L211.6,290.3 L211.1,290.3 L210.6,290.2 L210.1,290.2 L209.6,290.1 L209.1,290.1 L208.6,290.0 L208.1,290.0 L207.6,289.9 L207.1,289.8 L206.6,289.8 L206.1,289.7 L205.6,289.7 L205.1,289.6 L204.6,289.6 L204.1,289.5 L203.6,289.5 L203.1,289.4 L202.6,289.4 L202.1,289.3 L201.6,289.2 L201.1,289.2 L200.6,289.1 L200.1,289.1 L199.6,289.0 L199.1,288.9 L198.6,288.9 L198.1,288.8 L197.6,288.8 L197.1,288.7 L196.6,288.6 L196.1,288.6 L195.6,288.5 L195.1,288.4 L194.6,288.4 L194.1,288.3 L193.6,288.2 L193.1,288.2 L192.6,288.1 L192.1,288.0 L191.6,288.0 L191.1,287.9 L190.6,287.8 L190.1,287.8 L189.6,287.7 L189.1,287.6 L188.6,287.6 L188.1,287.5 L187.6,287.4 L187.1,287.3 L186.6,287.3 L186.1,287.2 L185.6,287.1 L185.1,287.0 L184.6,287.0 L184.1,286.9 L183.6,286.8 L183.1,286.7 L182.6,286.6 L182.1,286.6 L181.6,286.5 L181.1,286.4 L180.6,286.3 L180.1,286.2 L179.6,286.1 L179.1,286.1 L178.6,286.0 L178.1,285.9 L177.6,285.8 L177.1,285.7 L176.6,285.6 L176.1,285.5 L175.6,285.5 L175.1,285.4 L174.6,285.3 L174.1,285.2 L173.6,285.1 L173.1,285.0 L172.6,284.9 L172.1,284.8 L171.6,284.7 L171.1,284.6 L170.6,284.5 L170.1,284.4 L169.6,284.3 L169.1,284.2 L168.6,284.1 L168.1,284.0 L167.6,283.9 L167.1,283.8 L166.6,283.7 L166.1,283.6 L165.6,283.5 L165.1,283.4 L164.6,283.3 L164.1,283.2 L163.6,283.1 L163.1,283.0 L162.6,282.9 L162.1,282.8 L161.6,282.7 L161.1,282.5 L160.6,282.4 L160.1,282.3 L159.6,282.2 L159.1,282.1 L158.6,282.0 L158.1,281.9 L157.6,281.7 L157.1,281.6 L156.6,281.5 L156.1,281.4 L155.6,281.3 L155.1,281.1 L154.6,281.0 L154.1,280.9 L153.6,280.8 L153.1,280.7 L152.6,280.5 L152.1,280.4 L151.6,280.3 L151.1,280.1 L150.6,280.0 L150.1,279.9 L149.6,279.7 L149.1,279.6 L148.6,279.5 L148.1,279.3 L147.6,279.2 L147.1,279.1 L146.6,278.9 L146.1,278.8 L145.6,278.6 L145.1,278.5 L144.6,278.3 L144.1,278.2 L143.6,278.0 L143.1,277.9 L142.6,277.7 L142.1,277.6 L141.6,277.4 L141.1,277.2 L140.6,277.1 L140.1,276.9 L139.6,276.7 L139.1,276.6 L138.6,276.4 L138.1,276.2 L137.6,276.0 L137.1,275.9 L136.6,275.7 L136.1,275.5 L135.6,275.3 L135.1,275.1 L134.6,274.9Z" fill="#0b0bc3" fill-opacity="0.84"/>
<path d="M160.2,282.3 L160.7,282.5 L161.2,282.6 L161.7,282.7 L162.2,282.8 L162.7,282.9 L163.2,283.0 L163.7,283.1 L164.2,283.2 L164.7,283.3 L165.2,283.4 L165.7,283.5 L166.2,283.6 L166.7,283.7 L167.2,283.8 L167.7,283.9 L168.2,284.0 L168.7,284.1 L169.2,284.2 L169.7,284.3 L170.2,284.4 L170.7,284.5 L171.2,284.6 L171.7,284.7 L172.2,284.8 L172.7,284.9 L173.2,285.0 L173.7,285.1 L174.2,285.2 L174.7,285.3 L175.2,285.4 L175.7,285.5 L176.2,285.5 L176.7,285.6 L177.2,285.7 L177.7,285.8 L178.2,285.9 L178.7,286.0 L179.2,286.1 L179.7,286.1 L180.2,286.2 L180.7,286.3 L181.2,286.4 L181.7,286.5 L182.2,286.5 L182.7,286.6 L183.2,286.7 L183.7,286.8 L184.2,286.8 L184.7,286.9 L185.2,287.0 L185.7,287.0 L186.2,287.1 L186.7,287.2 L187.2,287.2 L187.7,287.3 L188.2,287.4 L188.7,287.4 L189.2,287.5 L189.7,287.5 L190.2,287.6 L190.7,287.6 L191.2,287.7 L191.7,287.7 L192.2,287.8 L192.7,287.8 L193.2,287.9 L193.7,287.9 L194.2,288.0 L194.7,288.0 L195.2,288.0 L195.7,288.1 L196.2,288.1 L196.7,288.1 L197.2,288.1 L197.7,288.2 L198.2,288.2 L198.7,288.2 L199.2,288.2 L199.7,288.2 L200.2,288.2 L200.7,288.2 L201.2,288.2 L201.7,288.2 L202.2,288.2 L202.7,288.2 L203.2,288.2 L203.7,288.2 L204.2,288.1 L204.7,288.1 L205.2,288.1 L205.7,288.0 L206.2,288.0 L206.7,288.0 L207.2,287.9 L207.7,287.9 L208.2,287.8 L208.7,287.7 L209.2,287.7 L209.7,287.6 L210.2,287.5 L210.7,287.5 L211.2,287.4 L211.7,287.3 L212.2,287.2 L212.7,287.1 L213.2,287.0 L213.7,287.0 L214.2,286.9 L214.7,286.8 L215.2,286.6 L215.7,286.5 L216.2,286.4 L216.7,286.3 L217.2,286.2 L217.7,286.1 L218.2,286.0 L218.7,285.9 L219.2,285.7 L219.7,285.6 L220.2,285.5 L220.7,285.4 L221.2,285.2 L221.7,285.1 L222.2,285.0 L222.7,284.9 L223.2,284.8 L223.7,284.6 L224.2,284.5 L224.7,284.4 L225.2,284.3 L225.7,284.2 L226.2,284.1 L226.7,284.0 L227.2,283.9 L227.7,283.8 L228.2,283.7 L228.7,283.6 L229.2,283.6 L229.7,283.5 L230.2,283.4 L230.7,283.4 L231.2,283.3 L231.7,283.2 L232.2,283.2 L232.7,283.2 L233.2,283.1 L233.7,283.1 L234.2,283.1 L234.7,283.1 L235.2,283.1 L235.7,283.1 L236.2,283.1 L236.7,283.1 L237.2,283.2 L237.7,283.2 L238.2,283.2 L238.7,283.3 L239.2,283.4 L239.7,283.4 L240.2,283.5 L240.7,283.6 L241.2,283.7 L241.7,283.8 L242.2,283.9 L242.7,284.0 L243.2,284.1 L243.7,284.2 L244.2,284.3 L244.7,284.5 L245.2,284.6 L245.7,284.8 L246.2,284.9 L246.7,285.1 L247.2,285.2 L247.7,285.4 L248.2,285.6 L248.7,285.7 L249.2,285.9 L249.7,286.1 L250.2,286.2 L250.7,286.4 L251.2,286.6 L251.7,286.8 L252.2,287.0 L252.7,287.2 L253.2,287.3 L253.7,287.5 L254.2,287.7 L254.7,287.9 L255.2,288.1 L255.7,288.3 L256.2,288.5 L256.7,288.6 L257.2,288.8 L257.7,289.0 L258.2,289.2 L258.7,289.4 L259.2,289.5 L259.7,289.7 L260.2,289.9 L260.7,290.0 L261.2,290.2 L261.7,290.3 L262.2,290.5 L262.7,290.7 L263.2,290.8 L263.7,291.0 L264.2,291.1 L264.7,291.2 L265.2,291.4 L265.7,291.5 L266.2,291.6 L266.7,291.8 L267.2,291.9 L267.7,292.0 L268.2,292.1 L268.7,292.2 L269.2,292.3 L269.7,292.4 L270.2,292.5 L270.7,292.6 L271.2,292.7 L271.7,292.8 L272.2,292.9 L272.7,293.0 L273.2,293.1 L273.7,293.1 L274.2,293.2 L274.7,293.3 L275.2,293.4 L275.7,293.4 L276.2,293.5 L276.7,293.6 L277.2,293.6 L277.7,293.7 L278.2,293.7 L278.7,293.8 L279.2,293.8 L279.7,293.9 L280.2,293.9 L280.7,294.0 L281.2,294.0 L281.7,294.1 L282.2,294.1 L282.7,294.2 L283.2,294.2 L283.7,294.2 L284.2,294.3 L284.7,294.3 L285.2,294.4 L285.7,294.4 L286.2,294.4 L286.7,294.5 L287.2,294.5 L287.7,294.5 L288.2,294.6 L288.7,294.6 L289.2,294.6 L289.7,294.6 L290.2,294.7 L290.7,294.7 L291.2,294.7 L291.7,294.8 L292.2,294.8 L292.7,294.8 L293.2,294.8 L293.7,294.9 L294.2,294.9 L294.7,294.9 L295.2,295.0 L295.7,295.0 L296.2,295.0 L296.7,295.0 L297.2,295.1 L297.7,295.1 L298.2,295.1 L298.7,295.1 L299.2,295.2 L299.7,295.2 L300.2,295.2 L300.7,295.3 L300.8,295.3 L300.8,295.3 L300.7,295.3 L300.2,295.2 L299.7,295.2 L299.2,295.2 L298.7,295.2 L298.2,295.1 L297.7,295.1 L297.2,295.1 L296.7,295.1 L296.2,295.0 L295.7,295.0 L295.2,295.0 L294.7,295.0 L294.2,294.9 L293.7,294.9 L293.2,294.9 L292.7,294.9 L292.2,294.8 L291.7,294.8 L291.2,294.8 L290.7,294.8 L290.2,294.7 L289.7,294.7 L289.2,294.7 L288.7,294.7 L288.2,294.6 L287.7,294.6 L287.2,294.6 L286.7,294.6 L286.2,294.6 L285.7,294.5 L285.2,294.5 L284.7,294.5 L284.2,294.5 L283.7,294.4 L283.2,294.4 L282.7,294.4 L282.2,294.4 L281.7,294.4 L281.2,294.3 L280.7,294.3 L280.2,294.3 L279.7,294.3 L279.2,294.3 L278.7,294.2 L278.2,294.2 L277.7,294.2 L277.2,294.2 L276.7,294.1 L276.2,294.1 L275.7,294.1 L275.2,294.1 L274.7,294.1 L274.2,294.0 L273.7,294.0 L273.2,294.0 L272.7,294.0 L272.2,294.0 L271.7,293.9 L271.2,293.9 L270.7,293.9 L270.2,293.9 L269.7,293.8 L269.2,293.8 L268.7,293.8 L268.2,293.8 L267.7,293.8 L267.2,293.7 L266.7,293.7 L266.2,293.7 L265.7,293.7 L265.2,293.7 L264.7,293.6 L264.2,293.6 L263.7,293.6 L263.2,293.6 L262.7,293.5 L262.2,293.5 L261.7,293.5 L261.2,293.5 L260.7,293.5 L260.2,293.4 L259.7,293.4 L259.2,293.4 L258.7,293.4 L258.2,293.3 L257.7,293.3 L257.2,293.3 L256.7,293.3 L256.2,293.3 L255.7,293.2 L255.2,293.2 L254.7,293.2 L254.2,293.2 L253.7,293.1 L253.2,293.1 L252.7,293.1 L252.2,293.1 L251.7,293.0 L251.2,293.0 L250.7,293.0 L250.2,293.0 L249.7,292.9 L249.2,292.9 L248.7,292.9 L248.2,292.9 L247.7,292.8 L247.2,292.8 L246.7,292.8 L246.2,292.8 L245.7,292.7 L245.2,292.7 L244.7,292.7 L244.2,292.7 L243.7,292.6 L243.2,292.6 L242.7,292.6 L242.2,292.6 L241.7,292.5 L241.2,292.5 L240.7,292.5 L240.2,292.4 L239.7,292.4 L239.2,292.4 L238.7,292.4 L238.2,292.3 L237.7,292.3 L237.2,292.3 L236.7,292.2 L236.2,292.2 L235.7,292.2 L235.2,292.1 L234.7,292.1 L234.2,292.1 L233.7,292.0 L233.2,292.0 L232.7,292.0 L232.2,291.9 L231.7,291.9 L231.2,291.9 L230.7,291.8 L230.2,291.8 L229.7,291.8 L229.2,291.7 L228.7,291.7 L228.2,291.7 L227.7,291.6 L227.2,291.6 L226.7,291.6 L226.2,291.5 L225.7,291.5 L225.2,291.5 L224.7,291.4 L224.2,291.4 L223.7,291.3 L223.2,291.3 L222.7,291.3 L222.2,291.2 L221.7,291.2 L221.2,291.1 L220.7,291.1 L220.2,291.1 L219.7,291.0 L219.2,291.0 L218.7,290.9 L218.2,290.9 L217.7,290.9 L217.2,290.8 L216.7,290.8 L216.2,290.7 L215.7,290.7 L215.2,290.6 L214.7,290.6 L214.2,290.5 L213.7,290.5 L213.2,290.5 L212.7,290.4 L212.2,290.4 L211.7,290.3 L211.2,290.3 L210.7,290.2 L210.2,290.2 L209.7,290.1 L209.2,290.1 L208.7,290.0 L208.2,290.0 L207.7,289.9 L207.2,289.9 L206.7,289.8 L206.2,289.8 L205.7,289.7 L205.2,289.6 L204.7,289.6 L204.2,289.5 L203.7,289.5 L203.2,289.4 L202.7,289.4 L202.2,289.3 L201.7,289.3 L201.2,289.2 L200.7,289.1 L200.2,289.1 L199.7,289.0 L199.2,289.0 L198.7,288.9 L198.2,288.8 L197.7,288.8 L197.2,288.7 L196.7,288.7 L196.2,288.6 L195.7,288.5 L195.2,288.5 L194.7,288.4 L194.2,288.3 L193.7,288.3 L193.2,288.2 L192.7,288.1 L192.2,288.1 L191.7,288.0 L191.2,287.9 L190.7,287.9 L190.2,287.8 L189.7,287.7 L189.2,287.6 L188.7,287.6 L188.2,287.5 L187.7,287.4 L187.2,287.4 L186.7,287.3 L186.2,287.2 L185.7,287.1 L185.2,287.0 L184.7,287.0 L184.2,286.9 L183.7,286.8 L183.2,286.7 L182.7,286.7 L182.2,286.6 L181.7,286.5 L181.2,286.4 L180.7,286.3 L180.2,286.2 L179.7,286.2 L179.2,286.1 L178.7,286.0 L178.2,285.9 L177.7,285.8 L177.2,285.7 L176.7,285.7 L176.2,285.6 L175.7,285.5 L175.2,285.4 L174.7,285.3 L174.2,285.2 L173.7,285.1 L173.2,285.0 L172.7,284.9 L172.2,284.8 L171.7,284.7 L171.2,284.6 L170.7,284.5 L170.2,284.4 L169.7,284.3 L169.2,284.2 L168.7,284.2 L168.2,284.1 L167.7,283.9 L167.2,283.8 L166.7,283.7 L166.2,283.6 L165.7,283.5 L165.2,283.4 L164.7,283.3 L164.2,283.2 L163.7,283.1 L163.2,283.0 L162.7,282.9 L162.2,282.8 L161.7,282.7 L161.2,282.6 L160.7,282.5 L160.2,282.3Z" fill="#0fbed0" fill-opacity="0.84"/>
<path d="M182.8,286.7 L183.3,286.8 L183.8,286.8 L184.3,286.9 L184.8,287.0 L185.3,287.1 L185.8,287.1 L186.3,287.2 L186.8,287.3 L187.3,287.4 L187.8,287.4 L188.3,287.5 L188.8,287.6 L189.3,287.7 L189.8,287.7 L190.3,287.8 L190.8,287.9 L191.3,287.9 L191.8,288.0 L192.3,288.1 L192.8,288.1 L193.3,288.2 L193.8,288.3 L194.3,288.3 L194.8,288.4 L195.3,288.5 L195.8,288.5 L196.3,288.6 L196.8,288.7 L197.3,288.7 L197.8,288.8 L198.3,288.8 L198.8,288.9 L199.3,289.0 L199.8,289.0 L200.3,289.1 L200.8,289.1 L201.3,289.2 L201.8,289.3 L202.3,289.3 L202.8,289.4 L203.3,289.4 L203.8,289.5 L204.3,289.5 L204.8,289.6 L205.3,289.6 L205.8,289.7 L206.3,289.7 L206.8,289.8 L207.3,289.8 L207.8,289.9 L208.3,289.9 L208.8,290.0 L209.3,290.0 L209.8,290.1 L210.3,290.1 L210.8,290.2 L211.3,290.2 L211.8,290.2 L212.3,290.3 L212.8,290.3 L213.3,290.4 L213.8,290.4 L214.3,290.4 L214.8,290.5 L215.3,290.5 L215.8,290.5 L216.3,290.6 L216.8,290.6 L217.3,290.6 L217.8,290.7 L218.3,290.7 L218.8,290.7 L219.3,290.8 L219.8,290.8 L220.3,290.8 L220.8,290.8 L221.3,290.8 L221.8,290.9 L222.3,290.9 L222.8,290.9 L223.3,290.9 L223.8,290.9 L224.3,290.9 L224.8,290.9 L225.3,290.9 L225.8,291.0 L226.3,291.0 L226.8,291.0 L227.3,291.0 L227.8,291.0 L228.3,290.9 L228.8,290.9 L229.3,290.9 L229.8,290.9 L230.3,290.9 L230.8,290.9 L231.3,290.9 L231.8,290.9 L232.3,290.8 L232.8,290.8 L233.3,290.8 L233.8,290.8 L234.3,290.7 L234.8,290.7 L235.3,290.7 L235.8,290.6 L236.3,290.6 L236.8,290.5 L237.3,290.5 L237.8,290.4 L238.3,290.4 L238.8,290.3 L239.3,290.3 L239.8,290.2 L240.3,290.2 L240.8,290.1 L241.3,290.1 L241.8,290.0 L242.3,289.9 L242.8,289.9 L243.3,289.8 L243.8,289.7 L244.3,289.7 L244.8,289.6 L245.3,289.5 L245.8,289.5 L246.3,289.4 L246.8,289.3 L247.3,289.2 L247.8,289.2 L248.3,289.1 L248.8,289.0 L249.3,289.0 L249.8,288.9 L250.3,288.8 L250.8,288.7 L251.3,288.7 L251.8,288.6 L252.3,288.5 L252.8,288.5 L253.3,288.4 L253.8,288.3 L254.3,288.3 L254.8,288.2 L255.3,288.2 L255.8,288.1 L256.3,288.0 L256.8,288.0 L257.3,287.9 L257.8,287.9 L258.3,287.9 L258.8,287.8 L259.3,287.8 L259.8,287.8 L260.3,287.7 L260.8,287.7 L261.3,287.7 L261.8,287.7 L262.3,287.7 L262.8,287.6 L263.3,287.6 L263.8,287.6 L264.3,287.6 L264.8,287.7 L265.3,287.7 L265.8,287.7 L266.3,287.7 L266.8,287.7 L267.3,287.8 L267.8,287.8 L268.3,287.8 L268.8,287.9 L269.3,287.9 L269.8,288.0 L270.3,288.0 L270.8,288.1 L271.3,288.2 L271.8,288.2 L272.3,288.3 L272.8,288.4 L273.3,288.5 L273.8,288.5 L274.3,288.6 L274.8,288.7 L275.3,288.8 L275.8,288.9 L276.3,289.0 L276.8,289.1 L277.3,289.2 L277.8,289.3 L278.3,289.4 L278.8,289.5 L279.3,289.6 L279.8,289.7 L280.3,289.9 L280.8,290.0 L281.3,290.1 L281.8,290.2 L282.3,290.3 L282.8,290.5 L283.3,290.6 L283.8,290.7 L284.3,290.8 L284.8,290.9 L285.3,291.1 L285.8,291.2 L286.3,291.3 L286.8,291.4 L287.3,291.5 L287.8,291.7 L288.3,291.8 L288.8,291.9 L289.3,292.0 L289.8,292.1 L290.3,292.2 L290.8,292.4 L291.3,292.5 L291.8,292.6 L292.3,292.7 L292.8,292.8 L293.3,292.9 L293.8,293.0 L294.3,293.1 L294.8,293.2 L295.3,293.3 L295.8,293.4 L296.3,293.5 L296.8,293.6 L297.3,293.7 L297.8,293.8 L298.3,293.9 L298.8,293.9 L299.3,294.0 L299.8,294.1 L300.3,294.2 L300.8,294.3 L300.8,295.3 L300.3,295.2 L299.8,295.2 L299.3,295.2 L298.8,295.2 L298.3,295.1 L297.8,295.1 L297.3,295.1 L296.8,295.1 L296.3,295.0 L295.8,295.0 L295.3,295.0 L294.8,295.0 L294.3,294.9 L293.8,294.9 L293.3,294.9 L292.8,294.9 L292.3,294.8 L291.8,294.8 L291.3,294.8 L290.8,294.8 L290.3,294.7 L289.8,294.7 L289.3,294.7 L288.8,294.7 L288.3,294.7 L287.8,294.6 L287.3,294.6 L286.8,294.6 L286.3,294.6 L285.8,294.5 L285.3,294.5 L284.8,294.5 L284.3,294.5 L283.8,294.5 L283.3,294.4 L282.8,294.4 L282.3,294.4 L281.8,294.4 L281.3,294.3 L280.8,294.3 L280.3,294.3 L279.8,294.3 L279.3,294.3 L278.8,294.2 L278.3,294.2 L277.8,294.2 L277.3,294.2 L276.8,294.1 L276.3,294.1 L275.8,294.1 L275.3,294.1 L274.8,294.1 L274.3,294.0 L273.8,294.0 L273.3,294.0 L272.8,294.0 L272.3,294.0 L271.8,293.9 L271.3,293.9 L270.8,293.9 L270.3,293.9 L269.8,293.9 L269.3,293.8 L268.8,293.8 L268.3,293.8 L267.8,293.8 L267.3,293.7 L266.8,293.7 L266.3,293.7 L265.8,293.7 L265.3,293.7 L264.8,293.6 L264.3,293.6 L263.8,293.6 L263.3,293.6 L262.8,293.6 L262.3,293.5 L261.8,293.5 L261.3,293.5 L260.8,293.5 L260.3,293.4 L259.8,293.4 L259.3,293.4 L258.8,293.4 L258.3,293.4 L257.8,293.3 L257.3,293.3 L256.8,293.3 L256.3,293.3 L255.8,293.2 L255.3,293.2 L254.8,293.2 L254.3,293.2 L253.8,293.1 L253.3,293.1 L252.8,293.1 L252.3,293.1 L251.8,293.0 L251.3,293.0 L250.8,293.0 L250.3,293.0 L249.8,293.0 L249.3,292.9 L248.8,292.9 L248.3,292.9 L247.8,292.9 L247.3,292.8 L246.8,292.8 L246.3,292.8 L245.8,292.7 L245.3,292.7 L244.8,292.7 L244.3,292.7 L243.8,292.6 L243.3,292.6 L242.8,292.6 L242.3,292.6 L241.8,292.5 L241.3,292.5 L240.8,292.5 L240.3,292.4 L239.8,292.4 L239.3,292.4 L238.8,292.4 L238.3,292.3 L237.8,292.3 L237.3,292.3 L236.8,292.2 L236.3,292.2 L235.8,292.2 L235.3,292.1 L234.8,292.1 L234.3,292.1 L233.8,292.1 L233.3,292.0 L232.8,292.0 L232.3,292.0 L231.8,291.9 L231.3,291.9 L230.8,291.9 L230.3,291.8 L229.8,291.8 L229.3,291.8 L228.8,291.7 L228.3,291.7 L227.8,291.6 L227.3,291.6 L226.8,291.6 L226.3,291.5 L225.8,291.5 L225.3,291.5 L224.8,291.4 L224.3,291.4 L223.8,291.3 L223.3,291.3 L222.8,291.3 L222.3,291.2 L221.8,291.2 L221.3,291.2 L220.8,291.1 L220.3,291.1 L219.8,291.0 L219.3,291.0 L218.8,290.9 L218.3,290.9 L217.8,290.9 L217.3,290.8 L216.8,290.8 L216.3,290.7 L215.8,290.7 L215.3,290.6 L214.8,290.6 L214.3,290.6 L213.8,290.5 L213.3,290.5 L212.8,290.4 L212.3,290.4 L211.8,290.3 L211.3,290.3 L210.8,290.2 L210.3,290.2 L209.8,290.1 L209.3,290.1 L208.8,290.0 L208.3,290.0 L207.8,289.9 L207.3,289.9 L206.8,289.8 L206.3,289.8 L205.8,289.7 L205.3,289.7 L204.8,289.6 L204.3,289.5 L203.8,289.5 L203.3,289.4 L202.8,289.4 L202.3,289.3 L201.8,289.3 L201.3,289.2 L200.8,289.1 L200.3,289.1 L199.8,289.0 L199.3,289.0 L198.8,288.9 L198.3,288.8 L197.8,288.8 L197.3,288.7 L196.8,288.7 L196.3,288.6 L195.8,288.5 L195.3,288.5 L194.8,288.4 L194.3,288.3 L193.8,288.3 L193.3,288.2 L192.8,288.1 L192.3,288.1 L191.8,288.0 L191.3,287.9 L190.8,287.9 L190.3,287.8 L189.8,287.7 L189.3,287.7 L188.8,287.6 L188.3,287.5 L187.8,287.4 L187.3,287.4 L186.8,287.3 L186.3,287.2 L185.8,287.1 L185.3,287.1 L184.8,287.0 L184.3,286.9 L183.8,286.8 L183.3,286.8 L182.8,286.7Z" fill="#b6ca00" fill-opacity="0.84"/>
<path d="M63.7,317.5 L64.2,318.7 L64.7,319.9 L65.2,321.1 L65.7,322.3 L66.2,323.4 L66.7,324.6 L67.2,325.7 L67.7,326.8 L68.2,327.9 L68.7,328.9 L69.2,330.0 L69.7,331.0 L70.2,332.0 L70.7,333.0 L71.2,334.0 L71.7,334.9 L72.2,335.9 L72.7,336.8 L73.2,337.7 L73.7,338.5 L74.2,339.3 L74.7,340.1 L75.2,340.9 L75.7,341.6 L76.2,342.3 L76.7,343.0 L77.2,343.6 L77.7,344.2 L78.2,344.7 L78.7,345.2 L79.2,345.7 L79.7,346.1 L80.2,346.4 L80.7,346.8 L81.2,347.0 L81.7,347.3 L82.2,347.5 L82.7,347.6 L83.2,347.7 L83.7,347.8 L84.2,347.9 L84.7,347.9 L85.2,347.9 L85.7,347.9 L86.2,347.9 L86.7,347.9 L87.2,347.8 L87.7,347.9 L88.2,347.9 L88.7,347.9 L89.2,348.0 L89.7,348.2 L90.2,348.3 L90.7,348.6 L91.2,348.9 L91.7,349.2 L92.2,349.6 L92.7,350.1 L93.2,350.7 L93.7,351.3 L94.2,352.0 L94.7,352.7 L95.2,353.5 L95.7,354.4 L96.2,355.3 L96.7,356.2 L97.2,357.2 L97.7,358.3 L98.2,359.3 L98.7,360.4 L99.2,361.5 L99.7,362.6 L100.2,363.8 L100.7,364.9 L101.2,366.0 L101.7,367.1 L102.2,368.2 L102.7,369.3 L103.2,370.3 L103.7,371.4 L104.2,372.4 L104.7,373.3 L105.2,374.3 L105.7,375.2 L106.2,376.0 L106.7,376.8 L107.2,377.6 L107.7,378.4 L108.2,379.1 L108.7,379.8 L109.2,380.4 L109.7,381.0 L110.2,381.6 L110.7,382.2 L111.2,382.7 L111.7,383.2 L112.2,383.7 L112.7,384.2 L113.2,384.6 L113.7,385.0 L114.2,385.4 L114.7,385.8 L115.2,386.2 L115.7,386.6 L116.2,386.9 L116.7,387.3 L117.2,387.6 L117.7,388.0 L118.2,388.3 L118.7,388.6 L119.2,388.9 L119.7,389.2 L120.2,389.5 L120.7,389.8 L121.2,390.1 L121.7,390.3 L122.2,390.6 L122.7,390.9 L123.2,391.2 L123.7,391.4 L124.2,391.7 L124.7,391.9 L125.2,392.2 L125.7,392.5 L126.2,392.7 L126.7,392.9 L127.2,393.2 L127.7,393.4 L128.2,393.7 L128.2,393.7 L127.7,393.4 L127.2,393.2 L126.7,392.9 L126.2,392.7 L125.7,392.5 L125.2,392.2 L124.7,391.9 L124.2,391.7 L123.7,391.4 L123.2,391.2 L122.7,390.9 L122.2,390.6 L121.7,390.4 L121.2,390.1 L120.7,389.8 L120.2,389.5 L119.7,389.2 L119.2,389.0 L118.7,388.7 L118.2,388.4 L117.7,388.1 L117.2,387.8 L116.7,387.5 L116.2,387.1 L115.7,386.8 L115.2,386.5 L114.7,386.2 L114.2,385.9 L113.7,385.5 L113.2,385.2 L112.7,384.9 L112.2,384.5 L111.7,384.2 L111.2,383.8 L110.7,383.5 L110.2,383.1 L109.7,382.7 L109.2,382.4 L108.7,382.0 L108.2,381.6 L107.7,381.2 L107.2,380.8 L106.7,380.4 L106.2,380.0 L105.7,379.6 L105.2,379.2 L104.7,378.8 L104.2,378.4 L103.7,378.0 L103.2,377.5 L102.7,377.1 L102.2,376.7 L101.7,376.2 L101.2,375.8 L100.7,375.3 L100.2,374.8 L99.7,374.4 L99.2,373.9 L98.7,373.4 L98.2,372.9 L97.7,372.4 L97.2,371.9 L96.7,371.4 L96.2,370.9 L95.7,370.4 L95.2,369.8 L94.7,369.3 L94.2,368.8 L93.7,368.2 L93.2,367.7 L92.7,367.1 L92.2,366.5 L91.7,365.9 L91.2,365.4 L90.7,364.8 L90.2,364.2 L89.7,363.6 L89.2,362.9 L88.7,362.3 L88.2,361.7 L87.7,361.0 L87.2,360.4 L86.7,359.7 L86.2,359.1 L85.7,358.4 L85.2,357.7 L84.7,357.0 L84.2,356.3 L83.7,355.6 L83.2,354.8 L82.7,354.1 L82.2,353.4 L81.7,352.6 L81.2,351.9 L80.7,351.1 L80.2,350.3 L79.7,349.5 L79.2,348.7 L78.7,347.9 L78.2,347.1 L77.7,346.2 L77.2,345.4 L76.7,344.5 L76.2,343.6 L75.7,342.7 L75.2,341.8 L74.7,340.9 L74.2,340.0 L73.7,339.1 L73.2,338.1 L72.7,337.2 L72.2,336.2 L71.7,335.2 L71.2,334.2 L70.7,333.2 L70.2,332.2 L69.7,331.1 L69.2,330.1 L68.7,329.0 L68.2,327.9 L67.7,326.8 L67.2,325.7 L66.7,324.6 L66.2,323.5 L65.7,322.3 L65.2,321.1 L64.7,319.9 L64.2,318.7 L63.7,317.5Z" fill="#7b2f33"/>
<path d="M64.7,319.9 L65.2,321.1 L65.7,322.3 L66.2,323.5 L66.7,324.6 L67.2,325.7 L67.7,326.8 L68.2,327.9 L68.7,329.0 L69.2,330.1 L69.7,331.1 L70.2,332.2 L70.7,333.2 L71.2,334.2 L71.7,335.2 L72.2,336.2 L72.7,337.1 L73.2,338.1 L73.7,339.0 L74.2,340.0 L74.7,340.9 L75.2,341.7 L75.7,342.6 L76.2,343.5 L76.7,344.3 L77.2,345.2 L77.7,346.0 L78.2,346.8 L78.7,347.5 L79.2,348.3 L79.7,349.0 L80.2,349.8 L80.7,350.4 L81.2,351.1 L81.7,351.8 L82.2,352.4 L82.7,353.0 L83.2,353.5 L83.7,354.1 L84.2,354.6 L84.7,355.1 L85.2,355.5 L85.7,355.9 L86.2,356.3 L86.7,356.6 L87.2,356.9 L87.7,357.1 L88.2,357.3 L88.7,357.4 L89.2,357.5 L89.7,357.6 L90.2,357.6 L90.7,357.5 L91.2,357.4 L91.7,357.3 L92.2,357.1 L92.7,356.9 L93.2,356.6 L93.7,356.3 L94.2,355.9 L94.7,355.6 L95.2,355.1 L95.7,354.7 L96.2,354.2 L96.7,353.7 L97.2,353.2 L97.7,352.7 L98.2,352.2 L98.7,351.7 L99.2,351.3 L99.7,350.8 L100.2,350.4 L100.7,350.0 L101.2,349.6 L101.7,349.3 L102.2,349.0 L102.7,348.9 L103.2,348.7 L103.7,348.7 L104.2,348.7 L104.7,348.8 L105.2,348.9 L105.7,349.2 L106.2,349.5 L106.7,350.0 L107.2,350.4 L107.7,351.0 L108.2,351.6 L108.7,352.3 L109.2,353.0 L109.7,353.8 L110.2,354.6 L110.7,355.5 L111.2,356.4 L111.7,357.4 L112.2,358.4 L112.7,359.4 L113.2,360.5 L113.7,361.6 L114.2,362.7 L114.7,363.9 L115.2,365.1 L115.7,366.2 L116.2,367.4 L116.7,368.6 L117.2,369.8 L117.7,370.9 L118.2,372.1 L118.7,373.3 L119.2,374.4 L119.7,375.5 L120.2,376.6 L120.7,377.7 L121.2,378.7 L121.7,379.7 L122.2,380.7 L122.7,381.7 L123.2,382.6 L123.7,383.5 L124.2,384.4 L124.7,385.2 L125.2,386.0 L125.7,386.7 L126.2,387.5 L126.7,388.1 L127.2,388.8 L127.7,389.4 L128.2,390.0 L128.7,390.6 L129.2,391.2 L129.7,391.7 L130.2,392.2 L130.7,392.6 L131.2,393.1 L131.7,393.5 L132.2,393.9 L132.7,394.3 L133.2,394.6 L133.7,395.0 L134.2,395.3 L134.7,395.6 L135.2,395.9 L135.7,396.2 L136.2,396.5 L136.7,396.8 L137.2,397.0 L137.7,397.3 L138.2,397.5 L138.7,397.7 L139.2,398.0 L139.7,398.2 L140.2,398.4 L140.7,398.6 L141.2,398.8 L141.7,399.0 L142.2,399.2 L142.7,399.3 L143.2,399.5 L143.7,399.7 L144.2,399.9 L144.7,400.0 L145.2,400.2 L145.7,400.4 L146.2,400.5 L146.7,400.7 L147.2,400.8 L147.7,401.0 L148.2,401.1 L148.7,401.3 L149.2,401.4 L149.7,401.6 L150.2,401.7 L150.7,401.9 L151.2,402.0 L151.7,402.1 L152.2,402.3 L152.7,402.4 L153.2,402.6 L153.7,402.7 L154.2,402.8 L154.3,402.8 L154.3,402.8 L154.2,402.8 L153.7,402.7 L153.2,402.6 L152.7,402.4 L152.2,402.3 L151.7,402.2 L151.2,402.0 L150.7,401.9 L150.2,401.7 L149.7,401.6 L149.2,401.4 L148.7,401.3 L148.2,401.2 L147.7,401.0 L147.2,400.9 L146.7,400.7 L146.2,400.5 L145.7,400.4 L145.2,400.2 L144.7,400.1 L144.2,399.9 L143.7,399.8 L143.2,399.6 L142.7,399.4 L142.2,399.3 L141.7,399.1 L141.2,398.9 L140.7,398.7 L140.2,398.6 L139.7,398.4 L139.2,398.2 L138.7,398.0 L138.2,397.8 L137.7,397.6 L137.2,397.5 L136.7,397.3 L136.2,397.1 L135.7,396.9 L135.2,396.7 L134.7,396.5 L134.2,396.3 L133.7,396.1 L133.2,395.9 L132.7,395.7 L132.2,395.4 L131.7,395.2 L131.2,395.0 L130.7,394.8 L130.2,394.6 L129.7,394.4 L129.2,394.1 L128.7,393.9 L128.2,393.7 L127.7,393.4 L127.2,393.2 L126.7,392.9 L126.2,392.7 L125.7,392.5 L125.2,392.2 L124.7,391.9 L124.2,391.7 L123.7,391.4 L123.2,391.2 L122.7,390.9 L122.2,390.6 L121.7,390.4 L121.2,390.1 L120.7,389.8 L120.2,389.5 L119.7,389.2 L119.2,389.0 L118.7,388.7 L118.2,388.4 L117.7,388.1 L117.2,387.8 L116.7,387.5 L116.2,387.1 L115.7,386.8 L115.2,386.5 L114.7,386.2 L114.2,385.9 L113.7,385.5 L113.2,385.2 L112.7,384.9 L112.2,384.5 L111.7,384.2 L111.2,383.8 L110.7,383.5 L110.2,383.1 L109.7,382.7 L109.2,382.4 L108.7,382.0 L108.2,381.6 L107.7,381.2 L107.2,380.8 L106.7,380.4 L106.2,380.0 L105.7,379.6 L105.2,379.2 L104.7,378.8 L104.2,378.4 L103.7,378.0 L103.2,377.5 L102.7,377.1 L102.2,376.7 L101.7,376.2 L101.2,375.8 L100.7,375.3 L100.2,374.8 L99.7,374.4 L99.2,373.9 L98.7,373.4 L98.2,372.9 L97.7,372.4 L97.2,371.9 L96.7,371.4 L96.2,370.9 L95.7,370.4 L95.2,369.8 L94.7,369.3 L94.2,368.8 L93.7,368.2 L93.2,367.7 L92.7,367.1 L92.2,366.5 L91.7,365.9 L91.2,365.4 L90.7,364.8 L90.2,364.2 L89.7,363.6 L89.2,362.9 L88.7,362.3 L88.2,361.7 L87.7,361.0 L87.2,360.4 L86.7,359.7 L86.2,359.1 L85.7,358.4 L85.2,357.7 L84.7,357.0 L84.2,356.3 L83.7,355.6 L83.2,354.8 L82.7,354.1 L82.2,353.4 L81.7,352.6 L81.2,351.9 L80.7,351.1 L80.2,350.3 L79.7,349.5 L79.2,348.7 L78.7,347.9 L78.2,347.1 L77.7,346.2 L77.2,345.4 L76.7,344.5 L76.2,343.6 L75.7,342.7 L75.2,341.8 L74.7,340.9 L74.2,340.0 L73.7,339.1 L73.2,338.1 L72.7,337.2 L72.2,336.2 L71.7,335.2 L71.2,334.2 L70.7,333.2 L70.2,332.2 L69.7,331.1 L69.2,330.1 L68.7,329.0 L68.2,327.9 L67.7,326.8 L67.2,325.7 L66.7,324.6 L66.2,323.5 L65.7,322.3 L65.2,321.1 L64.7,319.9Z" fill="#ff0000" fill-opacity="0.84"/>
<path d="M68.2,327.9 L68.7,329.0 L69.2,330.1 L69.7,331.1 L70.2,332.2 L70.7,333.2 L71.2,334.2 L71.7,335.2 L72.2,336.2 L72.7,337.2 L73.2,338.1 L73.7,339.1 L74.2,340.0 L74.7,340.9 L75.2,341.8 L75.7,342.7 L76.2,343.6 L76.7,344.5 L77.2,345.3 L77.7,346.2 L78.2,347.0 L78.7,347.8 L79.2,348.7 L79.7,349.5 L80.2,350.2 L80.7,351.0 L81.2,351.8 L81.7,352.5 L82.2,353.3 L82.7,354.0 L83.2,354.7 L83.7,355.4 L84.2,356.1 L84.7,356.8 L85.2,357.5 L85.7,358.2 L86.2,358.8 L86.7,359.5 L87.2,360.1 L87.7,360.7 L88.2,361.3 L88.7,361.9 L89.2,362.5 L89.7,363.0 L90.2,363.6 L90.7,364.1 L91.2,364.7 L91.7,365.2 L92.2,365.7 L92.7,366.1 L93.2,366.6 L93.7,367.1 L94.2,367.5 L94.7,367.9 L95.2,368.3 L95.7,368.7 L96.2,369.0 L96.7,369.4 L97.2,369.7 L97.7,370.0 L98.2,370.3 L98.7,370.5 L99.2,370.8 L99.7,371.0 L100.2,371.1 L100.7,371.3 L101.2,371.4 L101.7,371.6 L102.2,371.6 L102.7,371.7 L103.2,371.7 L103.7,371.7 L104.2,371.7 L104.7,371.7 L105.2,371.6 L105.7,371.5 L106.2,371.3 L106.7,371.2 L107.2,371.0 L107.7,370.8 L108.2,370.5 L108.7,370.3 L109.2,370.0 L109.7,369.7 L110.2,369.3 L110.7,368.9 L111.2,368.6 L111.7,368.1 L112.2,367.7 L112.7,367.3 L113.2,366.8 L113.7,366.3 L114.2,365.9 L114.7,365.4 L115.2,364.9 L115.7,364.3 L116.2,363.8 L116.7,363.3 L117.2,362.8 L117.7,362.3 L118.2,361.8 L118.7,361.3 L119.2,360.8 L119.7,360.4 L120.2,359.9 L120.7,359.5 L121.2,359.1 L121.7,358.7 L122.2,358.3 L122.7,358.0 L123.2,357.7 L123.7,357.5 L124.2,357.3 L124.7,357.1 L125.2,356.9 L125.7,356.8 L126.2,356.8 L126.7,356.8 L127.2,356.8 L127.7,356.9 L128.2,357.0 L128.7,357.2 L129.2,357.4 L129.7,357.7 L130.2,358.0 L130.7,358.4 L131.2,358.8 L131.7,359.2 L132.2,359.7 L132.7,360.2 L133.2,360.8 L133.7,361.3 L134.2,362.0 L134.7,362.6 L135.2,363.3 L135.7,364.1 L136.2,364.8 L136.7,365.6 L137.2,366.4 L137.7,367.3 L138.2,368.1 L138.7,369.0 L139.2,369.9 L139.7,370.8 L140.2,371.7 L140.7,372.7 L141.2,373.6 L141.7,374.6 L142.2,375.5 L142.7,376.5 L143.2,377.4 L143.7,378.4 L144.2,379.3 L144.7,380.3 L145.2,381.2 L145.7,382.1 L146.2,383.0 L146.7,383.9 L147.2,384.8 L147.7,385.7 L148.2,386.6 L148.7,387.4 L149.2,388.2 L149.7,389.0 L150.2,389.8 L150.7,390.6 L151.2,391.3 L151.7,392.0 L152.2,392.7 L152.7,393.4 L153.2,394.1 L153.7,394.7 L154.2,395.3 L154.7,395.9 L155.2,396.5 L155.7,397.0 L156.2,397.6 L156.7,398.1 L157.2,398.5 L157.7,399.0 L158.2,399.5 L158.7,399.9 L159.2,400.3 L159.7,400.7 L160.2,401.1 L160.7,401.4 L161.2,401.8 L161.7,402.1 L162.2,402.4 L162.7,402.7 L163.2,403.0 L163.7,403.2 L164.2,403.5 L164.7,403.7 L165.2,404.0 L165.7,404.2 L166.2,404.4 L166.7,404.6 L167.2,404.8 L167.7,405.0 L168.2,405.2 L168.7,405.3 L169.2,405.5 L169.7,405.7 L170.2,405.8 L170.7,406.0 L171.2,406.1 L171.7,406.2 L172.2,406.4 L172.7,406.5 L173.2,406.6 L173.7,406.7 L174.2,406.8 L174.7,406.9 L175.2,407.0 L175.7,407.1 L176.2,407.2 L176.7,407.3 L177.2,407.4 L177.7,407.5 L178.2,407.6 L178.7,407.7 L179.2,407.8 L179.7,407.9 L180.2,408.0 L180.7,408.0 L181.2,408.1 L181.7,408.2 L182.2,408.3 L182.7,408.4 L183.2,408.4 L183.7,408.5 L184.2,408.6 L184.7,408.7 L185.2,408.7 L185.7,408.8 L186.2,408.9 L186.7,408.9 L187.2,409.0 L187.7,409.1 L188.2,409.1 L188.7,409.2 L189.2,409.3 L189.7,409.3 L190.2,409.4 L190.7,409.5 L191.2,409.5 L191.7,409.6 L192.2,409.6 L192.7,409.7 L193.0,409.7 L193.0,409.7 L192.7,409.7 L192.2,409.6 L191.7,409.6 L191.2,409.5 L190.7,409.5 L190.2,409.4 L189.7,409.3 L189.2,409.3 L188.7,409.2 L188.2,409.1 L187.7,409.1 L187.2,409.0 L186.7,408.9 L186.2,408.9 L185.7,408.8 L185.2,408.7 L184.7,408.7 L184.2,408.6 L183.7,408.5 L183.2,408.5 L182.7,408.4 L182.2,408.3 L181.7,408.2 L181.2,408.2 L180.7,408.1 L180.2,408.0 L179.7,407.9 L179.2,407.9 L178.7,407.8 L178.2,407.7 L177.7,407.6 L177.2,407.5 L176.7,407.5 L176.2,407.4 L175.7,407.3 L175.2,407.2 L174.7,407.1 L174.2,407.0 L173.7,407.0 L173.2,406.9 L172.7,406.8 L172.2,406.7 L171.7,406.6 L171.2,406.5 L170.7,406.4 L170.2,406.3 L169.7,406.2 L169.2,406.1 L168.7,406.1 L168.2,406.0 L167.7,405.9 L167.2,405.8 L166.7,405.7 L166.2,405.6 L165.7,405.5 L165.2,405.4 L164.7,405.3 L164.2,405.2 L163.7,405.0 L163.2,404.9 L162.7,404.8 L162.2,404.7 L161.7,404.6 L161.2,404.5 L160.7,404.4 L160.2,404.3 L159.7,404.2 L159.2,404.0 L158.7,403.9 L158.2,403.8 L157.7,403.7 L157.2,403.6 L156.7,403.4 L156.2,403.3 L155.7,403.2 L155.2,403.1 L154.7,402.9 L154.2,402.8 L153.7,402.7 L153.2,402.6 L152.7,402.4 L152.2,402.3 L151.7,402.2 L151.2,402.0 L150.7,401.9 L150.2,401.7 L149.7,401.6 L149.2,401.4 L148.7,401.3 L148.2,401.2 L147.7,401.0 L147.2,400.9 L146.7,400.7 L146.2,400.5 L145.7,400.4 L145.2,400.2 L144.7,400.1 L144.2,399.9 L143.7,399.8 L143.2,399.6 L142.7,399.4 L142.2,399.3 L141.7,399.1 L141.2,398.9 L140.7,398.7 L140.2,398.6 L139.7,398.4 L139.2,398.2 L138.7,398.0 L138.2,397.8 L137.7,397.6 L137.2,397.5 L136.7,397.3 L136.2,397.1 L135.7,396.9 L135.2,396.7 L134.7,396.5 L134.2,396.3 L133.7,396.1 L133.2,395.9 L132.7,395.7 L132.2,395.4 L131.7,395.2 L131.2,395.0 L130.7,394.8 L130.2,394.6 L129.7,394.4 L129.2,394.1 L128.7,393.9 L128.2,393.7 L127.7,393.4 L127.2,393.2 L126.7,392.9 L126.2,392.7 L125.7,392.5 L125.2,392.2 L124.7,391.9 L124.2,391.7 L123.7,391.4 L123.2,391.2 L122.7,390.9 L122.2,390.6 L121.7,390.4 L121.2,390.1 L120.7,389.8 L120.2,389.5 L119.7,389.2 L119.2,389.0 L118.7,388.7 L118.2,388.4 L117.7,388.1 L117.2,387.8 L116.7,387.5 L116.2,387.1 L115.7,386.8 L115.2,386.5 L114.7,386.2 L114.2,385.9 L113.7,385.5 L113.2,385.2 L112.7,384.9 L112.2,384.5 L111.7,384.2 L111.2,383.8 L110.7,383.5 L110.2,383.1 L109.7,382.7 L109.2,382.4 L108.7,382.0 L108.2,381.6 L107.7,381.2 L107.2,380.8 L106.7,380.4 L106.2,380.0 L105.7,379.6 L105.2,379.2 L104.7,378.8 L104.2,378.4 L103.7,378.0 L103.2,377.5 L102.7,377.1 L102.2,376.7 L101.7,376.2 L101.2,375.8 L100.7,375.3 L100.2,374.8 L99.7,374.4 L99.2,373.9 L98.7,373.4 L98.2,372.9 L97.7,372.4 L97.2,371.9 L96.7,371.4 L96.2,370.9 L95.7,370.4 L95.2,369.8 L94.7,369.3 L94.2,368.8 L93.7,368.2 L93.2,367.7 L92.7,367.1 L92.2,366.5 L91.7,365.9 L91.2,365.4 L90.7,364.8 L90.2,364.2 L89.7,363.6 L89.2,362.9 L88.7,362.3 L88.2,361.7 L87.7,361.0 L87.2,360.4 L86.7,359.7 L86.2,359.1 L85.7,358.4 L85.2,357.7 L84.7,357.0 L84.2,356.3 L83.7,355.6 L83.2,354.8 L82.7,354.1 L82.2,353.4 L81.7,352.6 L81.2,351.9 L80.7,351.1 L80.2,350.3 L79.7,349.5 L79.2,348.7 L78.7,347.9 L78.2,347.1 L77.7,346.2 L77.2,345.4 L76.7,344.5 L76.2,343.6 L75.7,342.7 L75.2,341.8 L74.7,340.9 L74.2,340.0 L73.7,339.1 L73.2,338.1 L72.7,337.2 L72.2,336.2 L71.7,335.2 L71.2,334.2 L70.7,333.2 L70.2,332.2 L69.7,331.1 L69.2,330.1 L68.7,329.0 L68.2,327.9Z" fill="#6464ff" fill-opacity="0.84"/>
<path d="M91.0,365.1 L91.5,365.7 L92.0,366.3 L92.5,366.9 L93.0,367.4 L93.5,368.0 L94.0,368.5 L94.5,369.1 L95.0,369.6 L95.5,370.2 L96.0,370.7 L96.5,371.2 L97.0,371.7 L97.5,372.2 L98.0,372.7 L98.5,373.2 L99.0,373.7 L99.5,374.2 L100.0,374.6 L100.5,375.1 L101.0,375.6 L101.5,376.0 L102.0,376.4 L102.5,376.9 L103.0,377.3 L103.5,377.7 L104.0,378.2 L104.5,378.6 L105.0,379.0 L105.5,379.4 L106.0,379.8 L106.5,380.2 L107.0,380.6 L107.5,380.9 L108.0,381.3 L108.5,381.7 L109.0,382.0 L109.5,382.4 L110.0,382.7 L110.5,383.1 L111.0,383.4 L111.5,383.7 L112.0,384.0 L112.5,384.3 L113.0,384.6 L113.5,384.9 L114.0,385.2 L114.5,385.5 L115.0,385.7 L115.5,386.0 L116.0,386.2 L116.5,386.5 L117.0,386.7 L117.5,386.9 L118.0,387.1 L118.5,387.3 L119.0,387.5 L119.5,387.7 L120.0,387.8 L120.5,387.9 L121.0,388.1 L121.5,388.2 L122.0,388.3 L122.5,388.3 L123.0,388.4 L123.5,388.4 L124.0,388.5 L124.5,388.5 L125.0,388.5 L125.5,388.4 L126.0,388.4 L126.5,388.3 L127.0,388.2 L127.5,388.1 L128.0,388.0 L128.5,387.8 L129.0,387.7 L129.5,387.5 L130.0,387.3 L130.5,387.0 L131.0,386.8 L131.5,386.5 L132.0,386.2 L132.5,385.8 L133.0,385.5 L133.5,385.1 L134.0,384.7 L134.5,384.3 L135.0,383.9 L135.5,383.5 L136.0,383.0 L136.5,382.5 L137.0,382.0 L137.5,381.5 L138.0,381.0 L138.5,380.5 L139.0,379.9 L139.5,379.4 L140.0,378.8 L140.5,378.3 L141.0,377.7 L141.5,377.1 L142.0,376.6 L142.5,376.0 L143.0,375.5 L143.5,374.9 L144.0,374.4 L144.5,373.8 L145.0,373.3 L145.5,372.8 L146.0,372.3 L146.5,371.8 L147.0,371.4 L147.5,371.0 L148.0,370.6 L148.5,370.2 L149.0,369.9 L149.5,369.5 L150.0,369.3 L150.5,369.0 L151.0,368.8 L151.5,368.6 L152.0,368.5 L152.5,368.4 L153.0,368.3 L153.5,368.3 L154.0,368.4 L154.5,368.4 L155.0,368.5 L155.5,368.7 L156.0,368.8 L156.5,369.1 L157.0,369.3 L157.5,369.6 L158.0,369.9 L158.5,370.2 L159.0,370.6 L159.5,371.0 L160.0,371.5 L160.5,371.9 L161.0,372.4 L161.5,373.0 L162.0,373.5 L162.5,374.1 L163.0,374.7 L163.5,375.3 L164.0,375.9 L164.5,376.6 L165.0,377.3 L165.5,377.9 L166.0,378.7 L166.5,379.4 L167.0,380.1 L167.5,380.8 L168.0,381.6 L168.5,382.3 L169.0,383.1 L169.5,383.9 L170.0,384.6 L170.5,385.4 L171.0,386.2 L171.5,386.9 L172.0,387.7 L172.5,388.4 L173.0,389.2 L173.5,389.9 L174.0,390.6 L174.5,391.4 L175.0,392.1 L175.5,392.8 L176.0,393.5 L176.5,394.2 L177.0,394.8 L177.5,395.5 L178.0,396.1 L178.5,396.7 L179.0,397.3 L179.5,397.9 L180.0,398.5 L180.5,399.1 L181.0,399.6 L181.5,400.1 L182.0,400.6 L182.5,401.1 L183.0,401.6 L183.5,402.1 L184.0,402.5 L184.5,402.9 L185.0,403.3 L185.5,403.7 L186.0,404.1 L186.5,404.5 L187.0,404.8 L187.5,405.2 L188.0,405.5 L188.5,405.8 L189.0,406.1 L189.5,406.4 L190.0,406.6 L190.5,406.9 L191.0,407.1 L191.5,407.4 L192.0,407.6 L192.5,407.8 L193.0,408.0 L193.5,408.2 L194.0,408.4 L194.5,408.5 L195.0,408.7 L195.5,408.9 L196.0,409.0 L196.5,409.2 L197.0,409.3 L197.5,409.4 L198.0,409.5 L198.5,409.7 L199.0,409.8 L199.5,409.9 L200.0,410.0 L200.5,410.1 L201.0,410.2 L201.5,410.3 L202.0,410.4 L202.5,410.4 L203.0,410.5 L203.5,410.6 L204.0,410.7 L204.5,410.7 L205.0,410.8 L205.5,410.9 L206.0,410.9 L206.5,411.0 L207.0,411.1 L207.5,411.1 L208.0,411.2 L208.5,411.2 L209.0,411.3 L209.5,411.4 L210.0,411.4 L210.5,411.5 L211.0,411.5 L211.5,411.6 L212.0,411.6 L212.5,411.6 L213.0,411.7 L213.5,411.7 L214.0,411.8 L214.5,411.8 L215.0,411.9 L215.5,411.9 L216.0,412.0 L216.5,412.0 L217.0,412.0 L217.5,412.1 L218.0,412.1 L218.5,412.2 L219.0,412.2 L219.5,412.2 L220.0,412.3 L220.5,412.3 L221.0,412.3 L221.5,412.4 L222.0,412.4 L222.5,412.5 L223.0,412.5 L223.5,412.5 L224.0,412.6 L224.5,412.6 L225.0,412.6 L225.4,412.7 L225.4,412.7 L225.0,412.6 L224.5,412.6 L224.0,412.6 L223.5,412.5 L223.0,412.5 L222.5,412.5 L222.0,412.4 L221.5,412.4 L221.0,412.3 L220.5,412.3 L220.0,412.3 L219.5,412.2 L219.0,412.2 L218.5,412.2 L218.0,412.1 L217.5,412.1 L217.0,412.0 L216.5,412.0 L216.0,412.0 L215.5,411.9 L215.0,411.9 L214.5,411.9 L214.0,411.8 L213.5,411.8 L213.0,411.7 L212.5,411.7 L212.0,411.6 L211.5,411.6 L211.0,411.6 L210.5,411.5 L210.0,411.5 L209.5,411.4 L209.0,411.4 L208.5,411.3 L208.0,411.3 L207.5,411.2 L207.0,411.2 L206.5,411.2 L206.0,411.1 L205.5,411.1 L205.0,411.0 L204.5,411.0 L204.0,410.9 L203.5,410.9 L203.0,410.8 L202.5,410.8 L202.0,410.7 L201.5,410.7 L201.0,410.6 L200.5,410.6 L200.0,410.5 L199.5,410.5 L199.0,410.4 L198.5,410.4 L198.0,410.3 L197.5,410.2 L197.0,410.2 L196.5,410.1 L196.0,410.1 L195.5,410.0 L195.0,410.0 L194.5,409.9 L194.0,409.9 L193.5,409.8 L193.0,409.7 L192.5,409.7 L192.0,409.6 L191.5,409.6 L191.0,409.5 L190.5,409.4 L190.0,409.4 L189.5,409.3 L189.0,409.2 L188.5,409.2 L188.0,409.1 L187.5,409.0 L187.0,409.0 L186.5,408.9 L186.0,408.8 L185.5,408.8 L185.0,408.7 L184.5,408.6 L184.0,408.6 L183.5,408.5 L183.0,408.4 L182.5,408.4 L182.0,408.3 L181.5,408.2 L181.0,408.1 L180.5,408.1 L180.0,408.0 L179.5,407.9 L179.0,407.8 L178.5,407.8 L178.0,407.7 L177.5,407.6 L177.0,407.5 L176.5,407.4 L176.0,407.3 L175.5,407.3 L175.0,407.2 L174.5,407.1 L174.0,407.0 L173.5,406.9 L173.0,406.8 L172.5,406.8 L172.0,406.7 L171.5,406.6 L171.0,406.5 L170.5,406.4 L170.0,406.3 L169.5,406.2 L169.0,406.1 L168.5,406.0 L168.0,405.9 L167.5,405.8 L167.0,405.7 L166.5,405.6 L166.0,405.5 L165.5,405.4 L165.0,405.3 L164.5,405.2 L164.0,405.1 L163.5,405.0 L163.0,404.9 L162.5,404.8 L162.0,404.7 L161.5,404.6 L161.0,404.5 L160.5,404.3 L160.0,404.2 L159.5,404.1 L159.0,404.0 L158.5,403.9 L158.0,403.8 L157.5,403.6 L157.0,403.5 L156.5,403.4 L156.0,403.3 L155.5,403.1 L155.0,403.0 L154.5,402.9 L154.0,402.8 L153.5,402.6 L153.0,402.5 L152.5,402.4 L152.0,402.2 L151.5,402.1 L151.0,402.0 L150.5,401.8 L150.0,401.7 L149.5,401.5 L149.0,401.4 L148.5,401.2 L148.0,401.1 L147.5,400.9 L147.0,400.8 L146.5,400.6 L146.0,400.5 L145.5,400.3 L145.0,400.2 L144.5,400.0 L144.0,399.9 L143.5,399.7 L143.0,399.5 L142.5,399.4 L142.0,399.2 L141.5,399.0 L141.0,398.8 L140.5,398.7 L140.0,398.5 L139.5,398.3 L139.0,398.1 L138.5,397.9 L138.0,397.8 L137.5,397.6 L137.0,397.4 L136.5,397.2 L136.0,397.0 L135.5,396.8 L135.0,396.6 L134.5,396.4 L134.0,396.2 L133.5,396.0 L133.0,395.8 L132.5,395.6 L132.0,395.4 L131.5,395.1 L131.0,394.9 L130.5,394.7 L130.0,394.5 L129.5,394.3 L129.0,394.0 L128.5,393.8 L128.0,393.6 L127.5,393.3 L127.0,393.1 L126.5,392.8 L126.0,392.6 L125.5,392.4 L125.0,392.1 L124.5,391.8 L124.0,391.6 L123.5,391.3 L123.0,391.1 L122.5,390.8 L122.0,390.5 L121.5,390.3 L121.0,390.0 L120.5,389.7 L120.0,389.4 L119.5,389.1 L119.0,388.8 L118.5,388.5 L118.0,388.2 L117.5,387.9 L117.0,387.6 L116.5,387.3 L116.0,387.0 L115.5,386.7 L115.0,386.4 L114.5,386.1 L114.0,385.7 L113.5,385.4 L113.0,385.1 L112.5,384.7 L112.0,384.4 L111.5,384.0 L111.0,383.7 L110.5,383.3 L110.0,382.9 L109.5,382.6 L109.0,382.2 L108.5,381.8 L108.0,381.5 L107.5,381.1 L107.0,380.7 L106.5,380.3 L106.0,379.9 L105.5,379.5 L105.0,379.1 L104.5,378.6 L104.0,378.2 L103.5,377.8 L103.0,377.4 L102.5,376.9 L102.0,376.5 L101.5,376.0 L101.0,375.6 L100.5,375.1 L100.0,374.6 L99.5,374.2 L99.0,373.7 L98.5,373.2 L98.0,372.7 L97.5,372.2 L97.0,371.7 L96.5,371.2 L96.0,370.7 L95.5,370.2 L95.0,369.6 L94.5,369.1 L94.0,368.5 L93.5,368.0 L93.0,367.4 L92.5,366.9 L92.0,366.3 L91.5,365.7 L91.0,365.1Z" fill="#0acc0a" fill-opacity="0.84"/>
<path d="M116.0,387.0 L116.5,387.2 L117.0,387.4 L117.5,387.6 L118.0,387.8 L118.5,388.0 L119.0,388.1 L119.5,388.3 L120.0,388.5 L120.5,388.6 L121.0,388.8 L121.5,389.0 L122.0,389.1 L122.5,389.3 L123.0,389.4 L123.5,389.6 L124.0,389.7 L124.5,389.8 L125.0,390.0 L125.5,390.1 L126.0,390.2 L126.5,390.4 L127.0,390.5 L127.5,390.6 L128.0,390.7 L128.5,390.9 L129.0,391.2 L129.5,391.4 L130.0,391.6 L130.5,391.8 L131.0,392.0 L131.5,392.2 L132.0,392.4 L132.5,392.6 L133.0,392.8 L133.5,393.0 L134.0,393.2 L134.5,393.4 L135.0,393.6 L135.5,393.7 L136.0,393.9 L136.5,394.1 L137.0,394.2 L137.5,394.4 L138.0,394.5 L138.5,394.7 L139.0,394.8 L139.5,394.9 L140.0,395.1 L140.5,395.2 L141.0,395.3 L141.5,395.4 L142.0,395.5 L142.5,395.6 L143.0,395.7 L143.5,395.7 L144.0,395.8 L144.5,395.9 L145.0,395.9 L145.5,396.0 L146.0,396.0 L146.5,396.0 L147.0,396.0 L147.5,396.0 L148.0,396.0 L148.5,396.0 L149.0,395.9 L149.5,395.9 L150.0,395.8 L150.5,395.8 L151.0,395.7 L151.5,395.6 L152.0,395.5 L152.5,395.4 L153.0,395.2 L153.5,395.1 L154.0,394.9 L154.5,394.7 L155.0,394.5 L155.5,394.3 L156.0,394.1 L156.5,393.9 L157.0,393.6 L157.5,393.3 L158.0,393.0 L158.5,392.8 L159.0,392.4 L159.5,392.1 L160.0,391.8 L160.5,391.4 L161.0,391.1 L161.5,390.7 L162.0,390.3 L162.5,389.9 L163.0,389.5 L163.5,389.1 L164.0,388.7 L164.5,388.2 L165.0,387.8 L165.5,387.3 L166.0,386.9 L166.5,386.4 L167.0,386.0 L167.5,385.5 L168.0,385.0 L168.5,384.6 L169.0,384.1 L169.5,383.6 L170.0,383.2 L170.5,382.7 L171.0,382.3 L171.5,381.9 L172.0,381.4 L172.5,381.0 L173.0,380.6 L173.5,380.2 L174.0,379.9 L174.5,379.5 L175.0,379.2 L175.5,378.8 L176.0,378.5 L176.5,378.2 L177.0,378.0 L177.5,377.7 L178.0,377.5 L178.5,377.3 L179.0,377.2 L179.5,377.0 L180.0,376.9 L180.5,376.8 L181.0,376.8 L181.5,376.7 L182.0,376.7 L182.5,376.8 L183.0,376.8 L183.5,376.9 L184.0,377.0 L184.5,377.2 L185.0,377.3 L185.5,377.5 L186.0,377.7 L186.5,378.0 L187.0,378.2 L187.5,378.5 L188.0,378.8 L188.5,379.2 L189.0,379.5 L189.5,379.9 L190.0,380.3 L190.5,380.7 L191.0,381.2 L191.5,381.6 L192.0,382.1 L192.5,382.6 L193.0,383.1 L193.5,383.6 L194.0,384.1 L194.5,384.7 L195.0,385.2 L195.5,385.8 L196.0,386.4 L196.5,386.9 L197.0,387.5 L197.5,388.1 L198.0,388.7 L198.5,389.3 L199.0,389.9 L199.5,390.4 L200.0,391.0 L200.5,391.6 L201.0,392.2 L201.5,392.8 L202.0,393.4 L202.5,393.9 L203.0,394.5 L203.5,395.1 L204.0,395.6 L204.5,396.1 L205.0,396.7 L205.5,397.2 L206.0,397.7 L206.5,398.2 L207.0,398.7 L207.5,399.2 L208.0,399.7 L208.5,400.1 L209.0,400.6 L209.5,401.0 L210.0,401.4 L210.5,401.8 L211.0,402.2 L211.5,402.6 L212.0,403.0 L212.5,403.3 L213.0,403.7 L213.5,404.0 L214.0,404.3 L214.5,404.6 L215.0,404.9 L215.5,405.2 L216.0,405.5 L216.5,405.8 L217.0,406.0 L217.5,406.3 L218.0,406.5 L218.5,406.7 L219.0,406.9 L219.5,407.1 L220.0,407.3 L220.5,407.5 L221.0,407.7 L221.5,407.8 L222.0,408.0 L222.5,408.1 L223.0,408.3 L223.5,408.4 L224.0,408.6 L224.5,408.7 L225.0,408.8 L225.5,408.9 L226.0,409.0 L226.5,409.1 L227.0,409.2 L227.5,409.3 L228.0,409.4 L228.5,409.5 L229.0,409.6 L229.5,409.6 L230.0,409.7 L230.5,409.8 L231.0,409.8 L231.5,409.9 L232.0,410.0 L232.5,410.0 L233.0,410.1 L233.5,410.1 L234.0,410.2 L234.5,410.2 L235.0,410.3 L235.5,410.3 L236.0,410.4 L236.5,410.4 L237.0,410.5 L237.5,410.5 L238.0,410.5 L238.5,410.6 L239.0,410.6 L239.5,410.6 L240.0,410.7 L240.5,410.7 L241.0,410.7 L241.5,410.8 L242.0,410.8 L242.5,410.8 L243.0,410.9 L243.5,410.9 L244.0,410.9 L244.5,410.9 L245.0,411.0 L245.5,411.0 L246.0,411.0 L246.5,411.1 L247.0,411.1 L247.5,411.1 L248.0,411.1 L248.5,411.2 L249.0,411.2 L249.5,411.2 L250.0,411.2 L250.5,411.2 L251.0,411.3 L251.5,411.3 L252.0,411.3 L252.5,411.3 L253.0,411.4 L253.5,411.4 L254.0,411.4 L254.5,411.4 L255.0,411.4 L255.5,411.5 L256.0,411.5 L256.5,411.5 L256.6,411.5 L256.6,414.3 L256.5,414.3 L256.0,414.3 L255.5,414.3 L255.0,414.3 L254.5,414.2 L254.0,414.2 L253.5,414.2 L253.0,414.2 L252.5,414.1 L252.0,414.1 L251.5,414.1 L251.0,414.1 L250.5,414.1 L250.0,414.0 L249.5,414.0 L249.0,414.0 L248.5,414.0 L248.0,413.9 L247.5,413.9 L247.0,413.9 L246.5,413.9 L246.0,413.8 L245.5,413.8 L245.0,413.8 L244.5,413.8 L244.0,413.7 L243.5,413.7 L243.0,413.7 L242.5,413.7 L242.0,413.6 L241.5,413.6 L241.0,413.6 L240.5,413.6 L240.0,413.5 L239.5,413.5 L239.0,413.5 L238.5,413.5 L238.0,413.4 L237.5,413.4 L237.0,413.4 L236.5,413.3 L236.0,413.3 L235.5,413.3 L235.0,413.3 L234.5,413.2 L234.0,413.2 L233.5,413.2 L233.0,413.1 L232.5,413.1 L232.0,413.1 L231.5,413.0 L231.0,413.0 L230.5,413.0 L230.0,413.0 L229.5,412.9 L229.0,412.9 L228.5,412.9 L228.0,412.8 L227.5,412.8 L227.0,412.8 L226.5,412.7 L226.0,412.7 L225.5,412.7 L225.0,412.6 L224.5,412.6 L224.0,412.6 L223.5,412.5 L223.0,412.5 L222.5,412.5 L222.0,412.4 L221.5,412.4 L221.0,412.3 L220.5,412.3 L220.0,412.3 L219.5,412.2 L219.0,412.2 L218.5,412.2 L218.0,412.1 L217.5,412.1 L217.0,412.0 L216.5,412.0 L216.0,412.0 L215.5,411.9 L215.0,411.9 L214.5,411.9 L214.0,411.8 L213.5,411.8 L213.0,411.7 L212.5,411.7 L212.0,411.6 L211.5,411.6 L211.0,411.6 L210.5,411.5 L210.0,411.5 L209.5,411.4 L209.0,411.4 L208.5,411.3 L208.0,411.3 L207.5,411.2 L207.0,411.2 L206.5,411.2 L206.0,411.1 L205.5,411.1 L205.0,411.0 L204.5,411.0 L204.0,410.9 L203.5,410.9 L203.0,410.8 L202.5,410.8 L202.0,410.7 L201.5,410.7 L201.0,410.6 L200.5,410.6 L200.0,410.5 L199.5,410.5 L199.0,410.4 L198.5,410.4 L198.0,410.3 L197.5,410.2 L197.0,410.2 L196.5,410.1 L196.0,410.1 L195.5,410.0 L195.0,410.0 L194.5,409.9 L194.0,409.9 L193.5,409.8 L193.0,409.7 L192.5,409.7 L192.0,409.6 L191.5,409.6 L191.0,409.5 L190.5,409.4 L190.0,409.4 L189.5,409.3 L189.0,409.2 L188.5,409.2 L188.0,409.1 L187.5,409.0 L187.0,409.0 L186.5,408.9 L186.0,408.8 L185.5,408.8 L185.0,408.7 L184.5,408.6 L184.0,408.6 L183.5,408.5 L183.0,408.4 L182.5,408.4 L182.0,408.3 L181.5,408.2 L181.0,408.1 L180.5,408.1 L180.0,408.0 L179.5,407.9 L179.0,407.8 L178.5,407.8 L178.0,407.7 L177.5,407.6 L177.0,407.5 L176.5,407.4 L176.0,407.3 L175.5,407.3 L175.0,407.2 L174.5,407.1 L174.0,407.0 L173.5,406.9 L173.0,406.8 L172.5,406.8 L172.0,406.7 L171.5,406.6 L171.0,406.5 L170.5,406.4 L170.0,406.3 L169.5,406.2 L169.0,406.1 L168.5,406.0 L168.0,405.9 L167.5,405.8 L167.0,405.7 L166.5,405.6 L166.0,405.5 L165.5,405.4 L165.0,405.3 L164.5,405.2 L164.0,405.1 L163.5,405.0 L163.0,404.9 L162.5,404.8 L162.0,404.7 L161.5,404.6 L161.0,404.5 L160.5,404.3 L160.0,404.2 L159.5,404.1 L159.0,404.0 L158.5,403.9 L158.0,403.8 L157.5,403.6 L157.0,403.5 L156.5,403.4 L156.0,403.3 L155.5,403.1 L155.0,403.0 L154.5,402.9 L154.0,402.8 L153.5,402.6 L153.0,402.5 L152.5,402.4 L152.0,402.2 L151.5,402.1 L151.0,402.0 L150.5,401.8 L150.0,401.7 L149.5,401.5 L149.0,401.4 L148.5,401.2 L148.0,401.1 L147.5,400.9 L147.0,400.8 L146.5,400.6 L146.0,400.5 L145.5,400.3 L145.0,400.2 L144.5,400.0 L144.0,399.9 L143.5,399.7 L143.0,399.5 L142.5,399.4 L142.0,399.2 L141.5,399.0 L141.0,398.8 L140.5,398.7 L140.0,398.5 L139.5,398.3 L139.0,398.1 L138.5,397.9 L138.0,397.8 L137.5,397.6 L137.0,397.4 L136.5,397.2 L136.0,397.0 L135.5,396.8 L135.0,396.6 L134.5,396.4 L134.0,396.2 L133.5,396.0 L133.0,395.8 L132.5,395.6 L132.0,395.4 L131.5,395.1 L131.0,394.9 L130.5,394.7 L130.0,394.5 L129.5,394.3 L129.0,394.0 L128.5,393.8 L128.0,393.6 L127.5,393.3 L127.0,393.1 L126.5,392.8 L126.0,392.6 L125.5,392.4 L125.0,392.1 L124.5,391.8 L124.0,391.6 L123.5,391.3 L123.0,391.1 L122.5,390.8 L122.0,390.5 L121.5,390.3 L121.0,390.0 L120.5,389.7 L120.0,389.4 L119.5,389.1 L119.0,388.8 L118.5,388.5 L118.0,388.2 L117.5,387.9 L117.0,387.6 L116.5,387.3 L116.0,387.0Z" fill="#8e41ed" fill-opacity="0.84"/>
<path d="M126.0,392.6 L126.5,392.8 L127.0,393.0 L127.5,393.1 L128.0,393.3 L128.5,393.5 L129.0,393.6 L129.5,393.8 L130.0,394.0 L130.5,394.1 L131.0,394.3 L131.5,394.4 L132.0,394.6 L132.5,394.7 L133.0,394.9 L133.5,395.0 L134.0,395.1 L134.5,395.3 L135.0,395.4 L135.5,395.5 L136.0,395.7 L136.5,395.8 L137.0,395.9 L137.5,396.0 L138.0,396.2 L138.5,396.3 L139.0,396.5 L139.5,396.7 L140.0,396.9 L140.5,397.1 L141.0,397.2 L141.5,397.4 L142.0,397.6 L142.5,397.8 L143.0,397.9 L143.5,398.1 L144.0,398.2 L144.5,398.4 L145.0,398.6 L145.5,398.7 L146.0,398.9 L146.5,399.0 L147.0,399.2 L147.5,399.3 L148.0,399.5 L148.5,399.6 L149.0,399.8 L149.5,399.9 L150.0,400.1 L150.5,400.2 L151.0,400.3 L151.5,400.5 L152.0,400.6 L152.5,400.7 L153.0,400.9 L153.5,401.0 L154.0,401.1 L154.5,401.3 L155.0,401.4 L155.5,401.5 L156.0,401.6 L156.5,401.7 L157.0,401.8 L157.5,402.0 L158.0,402.1 L158.5,402.2 L159.0,402.3 L159.5,402.4 L160.0,402.5 L160.5,402.6 L161.0,402.7 L161.5,402.8 L162.0,402.9 L162.5,403.0 L163.0,403.1 L163.5,403.1 L164.0,403.2 L164.5,403.3 L165.0,403.4 L165.5,403.4 L166.0,403.5 L166.5,403.6 L167.0,403.6 L167.5,403.7 L168.0,403.7 L168.5,403.8 L169.0,403.8 L169.5,403.8 L170.0,403.9 L170.5,403.9 L171.0,403.9 L171.5,403.9 L172.0,403.9 L172.5,403.9 L173.0,403.9 L173.5,403.9 L174.0,403.9 L174.5,403.9 L175.0,403.8 L175.5,403.8 L176.0,403.7 L176.5,403.7 L177.0,403.6 L177.5,403.5 L178.0,403.4 L178.5,403.3 L179.0,403.2 L179.5,403.1 L180.0,403.0 L180.5,402.8 L181.0,402.7 L181.5,402.5 L182.0,402.3 L182.5,402.2 L183.0,402.0 L183.5,401.8 L184.0,401.5 L184.5,401.3 L185.0,401.1 L185.5,400.8 L186.0,400.5 L186.5,400.3 L187.0,400.0 L187.5,399.7 L188.0,399.4 L188.5,399.0 L189.0,398.7 L189.5,398.4 L190.0,398.0 L190.5,397.7 L191.0,397.3 L191.5,396.9 L192.0,396.5 L192.5,396.1 L193.0,395.7 L193.5,395.3 L194.0,394.9 L194.5,394.5 L195.0,394.1 L195.5,393.7 L196.0,393.3 L196.5,392.8 L197.0,392.4 L197.5,392.0 L198.0,391.6 L198.5,391.1 L199.0,390.7 L199.5,390.3 L200.0,389.9 L200.5,389.5 L201.0,389.1 L201.5,388.7 L202.0,388.3 L202.5,388.0 L203.0,387.6 L203.5,387.3 L204.0,387.0 L204.5,386.6 L205.0,386.4 L205.5,386.1 L206.0,385.8 L206.5,385.6 L207.0,385.3 L207.5,385.1 L208.0,384.9 L208.5,384.8 L209.0,384.6 L209.5,384.5 L210.0,384.4 L210.5,384.4 L211.0,384.3 L211.5,384.3 L212.0,384.3 L212.5,384.3 L213.0,384.3 L213.5,384.4 L214.0,384.5 L214.5,384.6 L215.0,384.7 L215.5,384.9 L216.0,385.1 L216.5,385.2 L217.0,385.5 L217.5,385.7 L218.0,386.0 L218.5,386.2 L219.0,386.5 L219.5,386.8 L220.0,387.2 L220.5,387.5 L221.0,387.9 L221.5,388.2 L222.0,388.6 L222.5,389.0 L223.0,389.4 L223.5,389.9 L224.0,390.3 L224.5,390.7 L225.0,391.2 L225.5,391.7 L226.0,392.1 L226.5,392.6 L227.0,393.1 L227.5,393.6 L228.0,394.0 L228.5,394.5 L229.0,395.0 L229.5,395.5 L230.0,396.0 L230.5,396.5 L231.0,397.0 L231.5,397.5 L232.0,398.0 L232.5,398.4 L233.0,398.9 L233.5,399.4 L234.0,399.9 L234.5,400.3 L235.0,400.8 L235.5,401.2 L236.0,401.7 L236.5,402.1 L237.0,402.5 L237.5,402.9 L238.0,403.3 L238.5,403.7 L239.0,404.1 L239.5,404.5 L240.0,404.9 L240.5,405.2 L241.0,405.6 L241.5,405.9 L242.0,406.2 L242.5,406.5 L243.0,406.9 L243.5,407.1 L244.0,407.4 L244.5,407.7 L245.0,408.0 L245.5,408.2 L246.0,408.5 L246.5,408.7 L247.0,408.9 L247.5,409.2 L248.0,409.4 L248.5,409.6 L249.0,409.8 L249.5,409.9 L250.0,410.1 L250.5,410.3 L251.0,410.5 L251.5,410.6 L252.0,410.8 L252.5,410.9 L253.0,411.0 L253.5,411.2 L254.0,411.3 L254.5,411.4 L255.0,411.5 L255.5,411.6 L256.0,411.7 L256.5,411.8 L257.0,411.9 L257.5,412.0 L258.0,412.0 L258.5,412.1 L259.0,412.2 L259.5,412.3 L260.0,412.3 L260.5,412.4 L261.0,412.4 L261.5,412.5 L262.0,412.6 L262.5,412.6 L263.0,412.7 L263.5,412.7 L264.0,412.7 L264.5,412.8 L265.0,412.8 L265.5,412.9 L266.0,412.9 L266.5,412.9 L267.0,413.0 L267.5,413.0 L268.0,413.0 L268.5,413.1 L269.0,413.1 L269.5,413.1 L270.0,413.1 L270.5,413.2 L271.0,413.2 L271.5,413.2 L272.0,413.2 L272.5,413.3 L273.0,413.3 L273.5,413.3 L274.0,413.3 L274.5,413.3 L275.0,413.4 L275.5,413.4 L276.0,413.4 L276.5,413.4 L277.0,413.4 L277.5,413.5 L278.0,413.5 L278.5,413.5 L279.0,413.5 L279.5,413.5 L280.0,413.5 L280.5,413.5 L281.0,413.6 L281.5,413.6 L282.0,413.6 L282.5,413.6 L283.0,413.6 L283.5,413.6 L284.0,413.7 L284.5,413.7 L285.0,413.7 L285.5,413.7 L286.0,413.7 L286.5,413.7 L287.0,413.7 L287.5,413.8 L288.0,413.8 L288.5,413.8 L289.0,413.8 L289.5,413.8 L289.5,415.4 L289.0,415.4 L288.5,415.4 L288.0,415.4 L287.5,415.4 L287.0,415.3 L286.5,415.3 L286.0,415.3 L285.5,415.3 L285.0,415.3 L284.5,415.3 L284.0,415.3 L283.5,415.2 L283.0,415.2 L282.5,415.2 L282.0,415.2 L281.5,415.2 L281.0,415.2 L280.5,415.2 L280.0,415.1 L279.5,415.1 L279.0,415.1 L278.5,415.1 L278.0,415.1 L277.5,415.1 L277.0,415.1 L276.5,415.0 L276.0,415.0 L275.5,415.0 L275.0,415.0 L274.5,415.0 L274.0,415.0 L273.5,414.9 L273.0,414.9 L272.5,414.9 L272.0,414.9 L271.5,414.9 L271.0,414.9 L270.5,414.8 L270.0,414.8 L269.5,414.8 L269.0,414.8 L268.5,414.8 L268.0,414.8 L267.5,414.7 L267.0,414.7 L266.5,414.7 L266.0,414.7 L265.5,414.7 L265.0,414.6 L264.5,414.6 L264.0,414.6 L263.5,414.6 L263.0,414.6 L262.5,414.6 L262.0,414.5 L261.5,414.5 L261.0,414.5 L260.5,414.5 L260.0,414.5 L259.5,414.4 L259.0,414.4 L258.5,414.4 L258.0,414.4 L257.5,414.4 L257.0,414.3 L256.5,414.3 L256.0,414.3 L255.5,414.3 L255.0,414.3 L254.5,414.2 L254.0,414.2 L253.5,414.2 L253.0,414.2 L252.5,414.1 L252.0,414.1 L251.5,414.1 L251.0,414.1 L250.5,414.1 L250.0,414.0 L249.5,414.0 L249.0,414.0 L248.5,414.0 L248.0,413.9 L247.5,413.9 L247.0,413.9 L246.5,413.9 L246.0,413.8 L245.5,413.8 L245.0,413.8 L244.5,413.8 L244.0,413.7 L243.5,413.7 L243.0,413.7 L242.5,413.7 L242.0,413.6 L241.5,413.6 L241.0,413.6 L240.5,413.6 L240.0,413.5 L239.5,413.5 L239.0,413.5 L238.5,413.5 L238.0,413.4 L237.5,413.4 L237.0,413.4 L236.5,413.3 L236.0,413.3 L235.5,413.3 L235.0,413.3 L234.5,413.2 L234.0,413.2 L233.5,413.2 L233.0,413.1 L232.5,413.1 L232.0,413.1 L231.5,413.0 L231.0,413.0 L230.5,413.0 L230.0,413.0 L229.5,412.9 L229.0,412.9 L228.5,412.9 L228.0,412.8 L227.5,412.8 L227.0,412.8 L226.5,412.7 L226.0,412.7 L225.5,412.7 L225.0,412.6 L224.5,412.6 L224.0,412.6 L223.5,412.5 L223.0,412.5 L222.5,412.5 L222.0,412.4 L221.5,412.4 L221.0,412.3 L220.5,412.3 L220.0,412.3 L219.5,412.2 L219.0,412.2 L218.5,412.2 L218.0,412.1 L217.5,412.1 L217.0,412.0 L216.5,412.0 L216.0,412.0 L215.5,411.9 L215.0,411.9 L214.5,411.9 L214.0,411.8 L213.5,411.8 L213.0,411.7 L212.5,411.7 L212.0,411.6 L211.5,411.6 L211.0,411.6 L210.5,411.5 L210.0,411.5 L209.5,411.4 L209.0,411.4 L208.5,411.3 L208.0,411.3 L207.5,411.2 L207.0,411.2 L206.5,411.2 L206.0,411.1 L205.5,411.1 L205.0,411.0 L204.5,411.0 L204.0,410.9 L203.5,410.9 L203.0,410.8 L202.5,410.8 L202.0,410.7 L201.5,410.7 L201.0,410.6 L200.5,410.6 L200.0,410.5 L199.5,410.5 L199.0,410.4 L198.5,410.4 L198.0,410.3 L197.5,410.2 L197.0,410.2 L196.5,410.1 L196.0,410.1 L195.5,410.0 L195.0,410.0 L194.5,409.9 L194.0,409.9 L193.5,409.8 L193.0,409.7 L192.5,409.7 L192.0,409.6 L191.5,409.6 L191.0,409.5 L190.5,409.4 L190.0,409.4 L189.5,409.3 L189.0,409.2 L188.5,409.2 L188.0,409.1 L187.5,409.0 L187.0,409.0 L186.5,408.9 L186.0,408.8 L185.5,408.8 L185.0,408.7 L184.5,408.6 L184.0,408.6 L183.5,408.5 L183.0,408.4 L182.5,408.4 L182.0,408.3 L181.5,408.2 L181.0,408.1 L180.5,408.1 L180.0,408.0 L179.5,407.9 L179.0,407.8 L178.5,407.8 L178.0,407.7 L177.5,407.6 L177.0,407.5 L176.5,407.4 L176.0,407.3 L175.5,407.3 L175.0,407.2 L174.5,407.1 L174.0,407.0 L173.5,406.9 L173.0,406.8 L172.5,406.8 L172.0,406.7 L171.5,406.6 L171.0,406.5 L170.5,406.4 L170.0,406.3 L169.5,406.2 L169.0,406.1 L168.5,406.0 L168.0,405.9 L167.5,405.8 L167.0,405.7 L166.5,405.6 L166.0,405.5 L165.5,405.4 L165.0,405.3 L164.5,405.2 L164.0,405.1 L163.5,405.0 L163.0,404.9 L162.5,404.8 L162.0,404.7 L161.5,404.6 L161.0,404.5 L160.5,404.3 L160.0,404.2 L159.5,404.1 L159.0,404.0 L158.5,403.9 L158.0,403.8 L157.5,403.6 L157.0,403.5 L156.5,403.4 L156.0,403.3 L155.5,403.1 L155.0,403.0 L154.5,402.9 L154.0,402.8 L153.5,402.6 L153.0,402.5 L152.5,402.4 L152.0,402.2 L151.5,402.1 L151.0,402.0 L150.5,401.8 L150.0,401.7 L149.5,401.5 L149.0,401.4 L148.5,401.2 L148.0,401.1 L147.5,400.9 L147.0,400.8 L146.5,400.6 L146.0,400.5 L145.5,400.3 L145.0,400.2 L144.5,400.0 L144.0,399.9 L143.5,399.7 L143.0,399.5 L142.5,399.4 L142.0,399.2 L141.5,399.0 L141.0,398.8 L140.5,398.7 L140.0,398.5 L139.5,398.3 L139.0,398.1 L138.5,397.9 L138.0,397.8 L137.5,397.6 L137.0,397.4 L136.5,397.2 L136.0,397.0 L135.5,396.8 L135.0,396.6 L134.5,396.4 L134.0,396.2 L133.5,396.0 L133.0,395.8 L132.5,395.6 L132.0,395.4 L131.5,395.1 L131.0,394.9 L130.5,394.7 L130.0,394.5 L129.5,394.3 L129.0,394.0 L128.5,393.8 L128.0,393.6 L127.5,393.3 L127.0,393.1 L126.5,392.8 L126.0,392.6Z" fill="#0b0bc3" fill-opacity="0.84"/>
<path d="M150.0,401.7 L150.5,401.8 L151.0,401.9 L151.5,402.0 L152.0,402.1 L152.5,402.2 L153.0,402.3 L153.5,402.3 L154.0,402.4 L154.5,402.5 L155.0,402.6 L155.5,402.7 L156.0,402.8 L156.5,402.9 L157.0,402.9 L157.5,403.0 L158.0,403.1 L158.5,403.2 L159.0,403.3 L159.5,403.3 L160.0,403.4 L160.5,403.5 L161.0,403.5 L161.5,403.6 L162.0,403.7 L162.5,403.8 L163.0,403.9 L163.5,404.0 L164.0,404.1 L164.5,404.2 L165.0,404.3 L165.5,404.4 L166.0,404.5 L166.5,404.6 L167.0,404.7 L167.5,404.8 L168.0,404.9 L168.5,405.0 L169.0,405.1 L169.5,405.2 L170.0,405.3 L170.5,405.4 L171.0,405.5 L171.5,405.6 L172.0,405.7 L172.5,405.7 L173.0,405.8 L173.5,405.9 L174.0,406.0 L174.5,406.1 L175.0,406.2 L175.5,406.2 L176.0,406.3 L176.5,406.4 L177.0,406.5 L177.5,406.6 L178.0,406.6 L178.5,406.7 L179.0,406.8 L179.5,406.9 L180.0,406.9 L180.5,407.0 L181.0,407.1 L181.5,407.1 L182.0,407.2 L182.5,407.3 L183.0,407.3 L183.5,407.4 L184.0,407.5 L184.5,407.5 L185.0,407.6 L185.5,407.7 L186.0,407.7 L186.5,407.8 L187.0,407.8 L187.5,407.9 L188.0,407.9 L188.5,408.0 L189.0,408.0 L189.5,408.1 L190.0,408.1 L190.5,408.1 L191.0,408.2 L191.5,408.2 L192.0,408.2 L192.5,408.3 L193.0,408.3 L193.5,408.3 L194.0,408.3 L194.5,408.3 L195.0,408.4 L195.5,408.4 L196.0,408.4 L196.5,408.4 L197.0,408.4 L197.5,408.4 L198.0,408.3 L198.5,408.3 L199.0,408.3 L199.5,408.3 L200.0,408.3 L200.5,408.2 L201.0,408.2 L201.5,408.1 L202.0,408.1 L202.5,408.0 L203.0,408.0 L203.5,407.9 L204.0,407.8 L204.5,407.7 L205.0,407.6 L205.5,407.5 L206.0,407.4 L206.5,407.3 L207.0,407.2 L207.5,407.1 L208.0,406.9 L208.5,406.8 L209.0,406.6 L209.5,406.5 L210.0,406.3 L210.5,406.1 L211.0,405.9 L211.5,405.7 L212.0,405.5 L212.5,405.3 L213.0,405.1 L213.5,404.9 L214.0,404.6 L214.5,404.4 L215.0,404.1 L215.5,403.9 L216.0,403.6 L216.5,403.3 L217.0,403.0 L217.5,402.7 L218.0,402.4 L218.5,402.1 L219.0,401.8 L219.5,401.5 L220.0,401.2 L220.5,400.8 L221.0,400.5 L221.5,400.2 L222.0,399.8 L222.5,399.5 L223.0,399.1 L223.5,398.8 L224.0,398.4 L224.5,398.1 L225.0,397.7 L225.5,397.4 L226.0,397.0 L226.5,396.7 L227.0,396.3 L227.5,396.0 L228.0,395.6 L228.5,395.3 L229.0,394.9 L229.5,394.6 L230.0,394.3 L230.5,394.0 L231.0,393.6 L231.5,393.3 L232.0,393.1 L232.5,392.8 L233.0,392.5 L233.5,392.2 L234.0,392.0 L234.5,391.7 L235.0,391.5 L235.5,391.3 L236.0,391.1 L236.5,390.9 L237.0,390.7 L237.5,390.6 L238.0,390.5 L238.5,390.3 L239.0,390.2 L239.5,390.1 L240.0,390.1 L240.5,390.0 L241.0,390.0 L241.5,390.0 L242.0,389.9 L242.5,390.0 L243.0,390.0 L243.5,390.1 L244.0,390.1 L244.5,390.2 L245.0,390.3 L245.5,390.4 L246.0,390.5 L246.5,390.7 L247.0,390.9 L247.5,391.0 L248.0,391.2 L248.5,391.4 L249.0,391.7 L249.5,391.9 L250.0,392.1 L250.5,392.4 L251.0,392.7 L251.5,393.0 L252.0,393.3 L252.5,393.6 L253.0,393.9 L253.5,394.2 L254.0,394.5 L254.5,394.9 L255.0,395.2 L255.5,395.6 L256.0,396.0 L256.5,396.3 L257.0,396.7 L257.5,397.1 L258.0,397.5 L258.5,397.9 L259.0,398.2 L259.5,398.6 L260.0,399.0 L260.5,399.4 L261.0,399.8 L261.5,400.2 L262.0,400.6 L262.5,401.0 L263.0,401.4 L263.5,401.8 L264.0,402.2 L264.5,402.5 L265.0,402.9 L265.5,403.3 L266.0,403.7 L266.5,404.0 L267.0,404.4 L267.5,404.7 L268.0,405.1 L268.5,405.4 L269.0,405.8 L269.5,406.1 L270.0,406.4 L270.5,406.7 L271.0,407.0 L271.5,407.3 L272.0,407.6 L272.5,407.9 L273.0,408.2 L273.5,408.5 L274.0,408.7 L274.5,409.0 L275.0,409.2 L275.5,409.5 L276.0,409.7 L276.5,409.9 L277.0,410.2 L277.5,410.4 L278.0,410.6 L278.5,410.8 L279.0,411.0 L279.5,411.1 L280.0,411.3 L280.5,411.5 L281.0,411.6 L281.5,411.8 L282.0,411.9 L282.5,412.1 L283.0,412.2 L283.5,412.4 L284.0,412.5 L284.5,412.6 L285.0,412.7 L285.5,412.8 L286.0,412.9 L286.5,413.0 L287.0,413.1 L287.5,413.2 L288.0,413.3 L288.5,413.4 L289.0,413.5 L289.5,413.5 L290.0,413.6 L290.5,413.7 L291.0,413.7 L291.5,413.8 L292.0,413.9 L292.5,413.9 L293.0,414.0 L293.5,414.0 L294.0,414.1 L294.5,414.1 L295.0,414.2 L295.5,414.2 L296.0,414.2 L296.5,414.3 L297.0,414.3 L297.5,414.3 L298.0,414.4 L298.5,414.4 L299.0,414.4 L299.5,414.5 L300.0,414.5 L300.2,414.5 L300.2,415.7 L300.0,415.7 L299.5,415.7 L299.0,415.6 L298.5,415.6 L298.0,415.6 L297.5,415.6 L297.0,415.6 L296.5,415.6 L296.0,415.6 L295.5,415.6 L295.0,415.5 L294.5,415.5 L294.0,415.5 L293.5,415.5 L293.0,415.5 L292.5,415.5 L292.0,415.5 L291.5,415.5 L291.0,415.4 L290.5,415.4 L290.0,415.4 L289.5,415.4 L289.0,415.4 L288.5,415.4 L288.0,415.4 L287.5,415.4 L287.0,415.3 L286.5,415.3 L286.0,415.3 L285.5,415.3 L285.0,415.3 L284.5,415.3 L284.0,415.3 L283.5,415.2 L283.0,415.2 L282.5,415.2 L282.0,415.2 L281.5,415.2 L281.0,415.2 L280.5,415.2 L280.0,415.1 L279.5,415.1 L279.0,415.1 L278.5,415.1 L278.0,415.1 L277.5,415.1 L277.0,415.1 L276.5,415.0 L276.0,415.0 L275.5,415.0 L275.0,415.0 L274.5,415.0 L274.0,415.0 L273.5,414.9 L273.0,414.9 L272.5,414.9 L272.0,414.9 L271.5,414.9 L271.0,414.9 L270.5,414.8 L270.0,414.8 L269.5,414.8 L269.0,414.8 L268.5,414.8 L268.0,414.8 L267.5,414.7 L267.0,414.7 L266.5,414.7 L266.0,414.7 L265.5,414.7 L265.0,414.6 L264.5,414.6 L264.0,414.6 L263.5,414.6 L263.0,414.6 L262.5,414.6 L262.0,414.5 L261.5,414.5 L261.0,414.5 L260.5,414.5 L260.0,414.5 L259.5,414.4 L259.0,414.4 L258.5,414.4 L258.0,414.4 L257.5,414.4 L257.0,414.3 L256.5,414.3 L256.0,414.3 L255.5,414.3 L255.0,414.3 L254.5,414.2 L254.0,414.2 L253.5,414.2 L253.0,414.2 L252.5,414.1 L252.0,414.1 L251.5,414.1 L251.0,414.1 L250.5,414.1 L250.0,414.0 L249.5,414.0 L249.0,414.0 L248.5,414.0 L248.0,413.9 L247.5,413.9 L247.0,413.9 L246.5,413.9 L246.0,413.8 L245.5,413.8 L245.0,413.8 L244.5,413.8 L244.0,413.7 L243.5,413.7 L243.0,413.7 L242.5,413.7 L242.0,413.6 L241.5,413.6 L241.0,413.6 L240.5,413.6 L240.0,413.5 L239.5,413.5 L239.0,413.5 L238.5,413.5 L238.0,413.4 L237.5,413.4 L237.0,413.4 L236.5,413.3 L236.0,413.3 L235.5,413.3 L235.0,413.3 L234.5,413.2 L234.0,413.2 L233.5,413.2 L233.0,413.1 L232.5,413.1 L232.0,413.1 L231.5,413.0 L231.0,413.0 L230.5,413.0 L230.0,413.0 L229.5,412.9 L229.0,412.9 L228.5,412.9 L228.0,412.8 L227.5,412.8 L227.0,412.8 L226.5,412.7 L226.0,412.7 L225.5,412.7 L225.0,412.6 L224.5,412.6 L224.0,412.6 L223.5,412.5 L223.0,412.5 L222.5,412.5 L222.0,412.4 L221.5,412.4 L221.0,412.3 L220.5,412.3 L220.0,412.3 L219.5,412.2 L219.0,412.2 L218.5,412.2 L218.0,412.1 L217.5,412.1 L217.0,412.0 L216.5,412.0 L216.0,412.0 L215.5,411.9 L215.0,411.9 L214.5,411.9 L214.0,411.8 L213.5,411.8 L213.0,411.7 L212.5,411.7 L212.0,411.6 L211.5,411.6 L211.0,411.6 L210.5,411.5 L210.0,411.5 L209.5,411.4 L209.0,411.4 L208.5,411.3 L208.0,411.3 L207.5,411.2 L207.0,411.2 L206.5,411.2 L206.0,411.1 L205.5,411.1 L205.0,411.0 L204.5,411.0 L204.0,410.9 L203.5,410.9 L203.0,410.8 L202.5,410.8 L202.0,410.7 L201.5,410.7 L201.0,410.6 L200.5,410.6 L200.0,410.5 L199.5,410.5 L199.0,410.4 L198.5,410.4 L198.0,410.3 L197.5,410.2 L197.0,410.2 L196.5,410.1 L196.0,410.1 L195.5,410.0 L195.0,410.0 L194.5,409.9 L194.0,409.9 L193.5,409.8 L193.0,409.7 L192.5,409.7 L192.0,409.6 L191.5,409.6 L191.0,409.5 L190.5,409.4 L190.0,409.4 L189.5,409.3 L189.0,409.2 L188.5,409.2 L188.0,409.1 L187.5,409.0 L187.0,409.0 L186.5,408.9 L186.0,408.8 L185.5,408.8 L185.0,408.7 L184.5,408.6 L184.0,408.6 L183.5,408.5 L183.0,408.4 L182.5,408.4 L182.0,408.3 L181.5,408.2 L181.0,408.1 L180.5,408.1 L180.0,408.0 L179.5,407.9 L179.0,407.8 L178.5,407.8 L178.0,407.7 L177.5,407.6 L177.0,407.5 L176.5,407.4 L176.0,407.3 L175.5,407.3 L175.0,407.2 L174.5,407.1 L174.0,407.0 L173.5,406.9 L173.0,406.8 L172.5,406.8 L172.0,406.7 L171.5,406.6 L171.0,406.5 L170.5,406.4 L170.0,406.3 L169.5,406.2 L169.0,406.1 L168.5,406.0 L168.0,405.9 L167.5,405.8 L167.0,405.7 L166.5,405.6 L166.0,405.5 L165.5,405.4 L165.0,405.3 L164.5,405.2 L164.0,405.1 L163.5,405.0 L163.0,404.9 L162.5,404.8 L162.0,404.7 L161.5,404.6 L161.0,404.5 L160.5,404.3 L160.0,404.2 L159.5,404.1 L159.0,404.0 L158.5,403.9 L158.0,403.8 L157.5,403.6 L157.0,403.5 L156.5,403.4 L156.0,403.3 L155.5,403.1 L155.0,403.0 L154.5,402.9 L154.0,402.8 L153.5,402.6 L153.0,402.5 L152.5,402.4 L152.0,402.2 L151.5,402.1 L151.0,402.0 L150.5,401.8 L150.0,401.7Z" fill="#0fbed0" fill-opacity="0.84"/>
<path d="M156.0,403.3 L156.5,403.3 L157.0,403.4 L157.5,403.4 L158.0,403.4 L158.5,403.5 L159.0,403.5 L159.5,403.5 L160.0,403.6 L160.5,403.6 L161.0,403.6 L161.5,403.7 L162.0,403.7 L162.5,403.7 L163.0,403.7 L163.5,403.8 L164.0,403.8 L164.5,403.8 L165.0,403.8 L165.5,403.8 L166.0,403.9 L166.5,403.9 L167.0,403.9 L167.5,403.9 L168.0,403.9 L168.5,404.0 L169.0,404.1 L169.5,404.2 L170.0,404.3 L170.5,404.4 L171.0,404.5 L171.5,404.6 L172.0,404.7 L172.5,404.8 L173.0,404.8 L173.5,404.9 L174.0,405.0 L174.5,405.1 L175.0,405.2 L175.5,405.3 L176.0,405.3 L176.5,405.4 L177.0,405.5 L177.5,405.6 L178.0,405.7 L178.5,405.8 L179.0,405.8 L179.5,405.9 L180.0,406.0 L180.5,406.1 L181.0,406.1 L181.5,406.2 L182.0,406.3 L182.5,406.4 L183.0,406.4 L183.5,406.5 L184.0,406.6 L184.5,406.6 L185.0,406.7 L185.5,406.8 L186.0,406.8 L186.5,406.9 L187.0,407.0 L187.5,407.0 L188.0,407.1 L188.5,407.2 L189.0,407.2 L189.5,407.3 L190.0,407.4 L190.5,407.4 L191.0,407.5 L191.5,407.6 L192.0,407.6 L192.5,407.7 L193.0,407.7 L193.5,407.8 L194.0,407.9 L194.5,407.9 L195.0,408.0 L195.5,408.0 L196.0,408.1 L196.5,408.1 L197.0,408.2 L197.5,408.2 L198.0,408.3 L198.5,408.3 L199.0,408.4 L199.5,408.5 L200.0,408.5 L200.5,408.6 L201.0,408.6 L201.5,408.7 L202.0,408.7 L202.5,408.8 L203.0,408.8 L203.5,408.9 L204.0,408.9 L204.5,408.9 L205.0,409.0 L205.5,409.0 L206.0,409.1 L206.5,409.1 L207.0,409.2 L207.5,409.2 L208.0,409.3 L208.5,409.3 L209.0,409.3 L209.5,409.4 L210.0,409.4 L210.5,409.4 L211.0,409.5 L211.5,409.5 L212.0,409.6 L212.5,409.6 L213.0,409.6 L213.5,409.7 L214.0,409.7 L214.5,409.7 L215.0,409.7 L215.5,409.8 L216.0,409.8 L216.5,409.8 L217.0,409.9 L217.5,409.9 L218.0,409.9 L218.5,409.9 L219.0,409.9 L219.5,409.9 L220.0,410.0 L220.5,410.0 L221.0,410.0 L221.5,410.0 L222.0,410.0 L222.5,410.0 L223.0,410.0 L223.5,410.0 L224.0,410.0 L224.5,410.0 L225.0,410.0 L225.5,410.0 L226.0,410.0 L226.5,409.9 L227.0,409.9 L227.5,409.9 L228.0,409.9 L228.5,409.8 L229.0,409.8 L229.5,409.8 L230.0,409.7 L230.5,409.7 L231.0,409.6 L231.5,409.6 L232.0,409.5 L232.5,409.4 L233.0,409.4 L233.5,409.3 L234.0,409.2 L234.5,409.1 L235.0,409.0 L235.5,408.9 L236.0,408.8 L236.5,408.7 L237.0,408.6 L237.5,408.5 L238.0,408.4 L238.5,408.2 L239.0,408.1 L239.5,408.0 L240.0,407.8 L240.5,407.7 L241.0,407.5 L241.5,407.3 L242.0,407.2 L242.5,407.0 L243.0,406.8 L243.5,406.6 L244.0,406.4 L244.5,406.2 L245.0,406.0 L245.5,405.8 L246.0,405.5 L246.5,405.3 L247.0,405.1 L247.5,404.8 L248.0,404.6 L248.5,404.3 L249.0,404.1 L249.5,403.8 L250.0,403.5 L250.5,403.3 L251.0,403.0 L251.5,402.7 L252.0,402.4 L252.5,402.2 L253.0,401.9 L253.5,401.6 L254.0,401.3 L254.5,401.0 L255.0,400.7 L255.5,400.4 L256.0,400.1 L256.5,399.8 L257.0,399.5 L257.5,399.2 L258.0,398.9 L258.5,398.6 L259.0,398.3 L259.5,398.1 L260.0,397.8 L260.5,397.5 L261.0,397.2 L261.5,396.9 L262.0,396.7 L262.5,396.4 L263.0,396.2 L263.5,395.9 L264.0,395.7 L264.5,395.4 L265.0,395.2 L265.5,395.0 L266.0,394.8 L266.5,394.6 L267.0,394.4 L267.5,394.2 L268.0,394.1 L268.5,393.9 L269.0,393.8 L269.5,393.6 L270.0,393.5 L270.5,393.4 L271.0,393.3 L271.5,393.2 L272.0,393.1 L272.5,393.1 L273.0,393.0 L273.5,393.0 L274.0,393.0 L274.5,393.0 L275.0,393.0 L275.5,393.0 L276.0,393.0 L276.5,393.1 L277.0,393.1 L277.5,393.2 L278.0,393.3 L278.5,393.4 L279.0,393.5 L279.5,393.6 L280.0,393.7 L280.5,393.9 L281.0,394.0 L281.5,394.2 L282.0,394.4 L282.5,394.5 L283.0,394.7 L283.5,394.9 L284.0,395.1 L284.5,395.3 L285.0,395.6 L285.5,395.8 L286.0,396.0 L286.5,396.3 L287.0,396.5 L287.5,396.8 L288.0,397.1 L288.5,397.4 L289.0,397.6 L289.5,397.9 L290.0,398.2 L290.5,398.5 L291.0,398.8 L291.5,399.1 L292.0,399.4 L292.5,399.7 L293.0,400.0 L293.5,400.3 L294.0,400.6 L294.5,400.9 L295.0,401.2 L295.5,401.6 L296.0,401.9 L296.5,402.2 L297.0,402.5 L297.5,402.8 L298.0,403.1 L298.5,403.4 L299.0,403.7 L299.5,404.0 L300.0,404.3 L300.2,404.4 L300.2,415.7 L300.0,415.7 L299.5,415.7 L299.0,415.6 L298.5,415.6 L298.0,415.6 L297.5,415.6 L297.0,415.6 L296.5,415.6 L296.0,415.6 L295.5,415.6 L295.0,415.5 L294.5,415.5 L294.0,415.5 L293.5,415.5 L293.0,415.5 L292.5,415.5 L292.0,415.5 L291.5,415.5 L291.0,415.4 L290.5,415.4 L290.0,415.4 L289.5,415.4 L289.0,415.4 L288.5,415.4 L288.0,415.4 L287.5,415.4 L287.0,415.3 L286.5,415.3 L286.0,415.3 L285.5,415.3 L285.0,415.3 L284.5,415.3 L284.0,415.3 L283.5,415.2 L283.0,415.2 L282.5,415.2 L282.0,415.2 L281.5,415.2 L281.0,415.2 L280.5,415.2 L280.0,415.1 L279.5,415.1 L279.0,415.1 L278.5,415.1 L278.0,415.1 L277.5,415.1 L277.0,415.1 L276.5,415.0 L276.0,415.0 L275.5,415.0 L275.0,415.0 L274.5,415.0 L274.0,415.0 L273.5,414.9 L273.0,414.9 L272.5,414.9 L272.0,414.9 L271.5,414.9 L271.0,414.9 L270.5,414.8 L270.0,414.8 L269.5,414.8 L269.0,414.8 L268.5,414.8 L268.0,414.8 L267.5,414.7 L267.0,414.7 L266.5,414.7 L266.0,414.7 L265.5,414.7 L265.0,414.6 L264.5,414.6 L264.0,414.6 L263.5,414.6 L263.0,414.6 L262.5,414.6 L262.0,414.5 L261.5,414.5 L261.0,414.5 L260.5,414.5 L260.0,414.5 L259.5,414.4 L259.0,414.4 L258.5,414.4 L258.0,414.4 L257.5,414.4 L257.0,414.3 L256.5,414.3 L256.0,414.3 L255.5,414.3 L255.0,414.3 L254.5,414.2 L254.0,414.2 L253.5,414.2 L253.0,414.2 L252.5,414.1 L252.0,414.1 L251.5,414.1 L251.0,414.1 L250.5,414.1 L250.0,414.0 L249.5,414.0 L249.0,414.0 L248.5,414.0 L248.0,413.9 L247.5,413.9 L247.0,413.9 L246.5,413.9 L246.0,413.8 L245.5,413.8 L245.0,413.8 L244.5,413.8 L244.0,413.7 L243.5,413.7 L243.0,413.7 L242.5,413.7 L242.0,413.6 L241.5,413.6 L241.0,413.6 L240.5,413.6 L240.0,413.5 L239.5,413.5 L239.0,413.5 L238.5,413.5 L238.0,413.4 L237.5,413.4 L237.0,413.4 L236.5,413.3 L236.0,413.3 L235.5,413.3 L235.0,413.3 L234.5,413.2 L234.0,413.2 L233.5,413.2 L233.0,413.1 L232.5,413.1 L232.0,413.1 L231.5,413.0 L231.0,413.0 L230.5,413.0 L230.0,413.0 L229.5,412.9 L229.0,412.9 L228.5,412.9 L228.0,412.8 L227.5,412.8 L227.0,412.8 L226.5,412.7 L226.0,412.7 L225.5,412.7 L225.0,412.6 L224.5,412.6 L224.0,412.6 L223.5,412.5 L223.0,412.5 L222.5,412.5 L222.0,412.4 L221.5,412.4 L221.0,412.3 L220.5,412.3 L220.0,412.3 L219.5,412.2 L219.0,412.2 L218.5,412.2 L218.0,412.1 L217.5,412.1 L217.0,412.0 L216.5,412.0 L216.0,412.0 L215.5,411.9 L215.0,411.9 L214.5,411.9 L214.0,411.8 L213.5,411.8 L213.0,411.7 L212.5,411.7 L212.0,411.6 L211.5,411.6 L211.0,411.6 L210.5,411.5 L210.0,411.5 L209.5,411.4 L209.0,411.4 L208.5,411.3 L208.0,411.3 L207.5,411.2 L207.0,411.2 L206.5,411.2 L206.0,411.1 L205.5,411.1 L205.0,411.0 L204.5,411.0 L204.0,410.9 L203.5,410.9 L203.0,410.8 L202.5,410.8 L202.0,410.7 L201.5,410.7 L201.0,410.6 L200.5,410.6 L200.0,410.5 L199.5,410.5 L199.0,410.4 L198.5,410.4 L198.0,410.3 L197.5,410.2 L197.0,410.2 L196.5,410.1 L196.0,410.1 L195.5,410.0 L195.0,410.0 L194.5,409.9 L194.0,409.9 L193.5,409.8 L193.0,409.7 L192.5,409.7 L192.0,409.6 L191.5,409.6 L191.0,409.5 L190.5,409.4 L190.0,409.4 L189.5,409.3 L189.0,409.2 L188.5,409.2 L188.0,409.1 L187.5,409.0 L187.0,409.0 L186.5,408.9 L186.0,408.8 L185.5,408.8 L185.0,408.7 L184.5,408.6 L184.0,408.6 L183.5,408.5 L183.0,408.4 L182.5,408.4 L182.0,408.3 L181.5,408.2 L181.0,408.1 L180.5,408.1 L180.0,408.0 L179.5,407.9 L179.0,407.8 L178.5,407.8 L178.0,407.7 L177.5,407.6 L177.0,407.5 L176.5,407.4 L176.0,407.3 L175.5,407.3 L175.0,407.2 L174.5,407.1 L174.0,407.0 L173.5,406.9 L173.0,406.8 L172.5,406.8 L172.0,406.7 L171.5,406.6 L171.0,406.5 L170.5,406.4 L170.0,406.3 L169.5,406.2 L169.0,406.1 L168.5,406.0 L168.0,405.9 L167.5,405.8 L167.0,405.7 L166.5,405.6 L166.0,405.5 L165.5,405.4 L165.0,405.3 L164.5,405.2 L164.0,405.1 L163.5,405.0 L163.0,404.9 L162.5,404.8 L162.0,404.7 L161.5,404.6 L161.0,404.5 L160.5,404.3 L160.0,404.2 L159.5,404.1 L159.0,404.0 L158.5,403.9 L158.0,403.8 L157.5,403.6 L157.0,403.5 L156.5,403.4 L156.0,403.3Z" fill="#b6ca00" fill-opacity="0.84"/>
<path d="M55.30,20.48 L56.30,23.18 L57.30,25.72 L58.30,28.12 L59.30,30.39 L60.30,32.55 L61.30,34.62 L62.30,36.60 L63.30,38.50 L64.30,40.32 L65.30,42.08 L66.30,43.77 L67.30,45.41 L68.30,47.00 L69.30,48.54 L70.30,50.03 L71.30,51.47 L72.30,52.88 L73.30,54.25 L74.30,55.59 L75.30,56.89 L76.30,58.16 L77.30,59.39 L78.30,60.60 L79.30,61.77 L80.30,62.92 L81.30,64.04 L82.30,65.13 L83.30,66.20 L84.30,67.24 L85.30,68.25 L86.30,69.24 L87.30,70.20 L88.30,71.15 L89.30,72.06 L90.30,72.96 L91.30,73.83 L92.30,74.69 L93.30,75.52 L94.30,76.33 L95.30,77.11 L96.30,77.88 L97.30,78.63 L98.30,79.36 L99.30,80.07 L100.30,80.76 L101.30,81.43 L102.30,82.08 L103.30,82.72 L104.30,83.34 L105.30,83.94 L106.30,84.52 L107.30,85.08 L108.30,85.63 L109.30,86.16 L110.30,86.67 L111.30,87.17 L112.30,87.66 L113.30,88.14 L114.30,88.60 L115.30,89.05 L116.30,89.49 L117.30,89.92 L118.30,90.33 L119.30,90.74 L120.30,91.14 L121.30,91.52 L122.30,91.90 L123.30,92.26 L124.30,92.62 L125.30,92.97 L126.30,93.31 L127.30,93.64 L128.30,93.96 L129.30,94.27 L130.30,94.58 L131.30,94.88 L132.30,95.17 L133.30,95.45 L134.30,95.73 L135.30,96.00 L136.30,96.26 L137.30,96.51 L138.30,96.76 L139.30,97.00 L140.30,97.24 L141.30,97.47 L142.30,97.69 L143.30,97.91 L144.30,98.12 L145.30,98.33 L146.30,98.53 L147.30,98.73 L148.30,98.92 L149.30,99.11 L150.30,99.29 L151.30,99.47 L152.30,99.64 L153.30,99.81 L154.30,99.97 L155.30,100.13 L156.30,100.29 L157.30,100.44 L158.30,100.59 L159.30,100.73 L160.30,100.87 L161.30,101.01 L162.30,101.15 L163.30,101.28 L164.30,101.40 L165.30,101.53 L166.30,101.65 L167.30,101.76 L168.30,101.88 L169.30,101.99 L170.30,102.10 L171.30,102.20 L172.30,102.31 L173.30,102.41 L174.30,102.50 L175.30,102.60 L176.30,102.69 L177.30,102.78 L178.30,102.87 L179.30,102.96 L180.30,103.04 L181.30,103.12 L182.30,103.20 L183.30,103.28 L184.30,103.36 L185.30,103.43 L186.30,103.50 L187.30,103.57 L188.30,103.64 L189.30,103.71 L190.30,103.77 L191.30,103.83 L192.30,103.89 L193.30,103.95 L194.30,104.01 L195.30,104.07 L196.30,104.12 L197.30,104.18 L198.30,104.23 L199.30,104.28 L200.30,104.33 L201.30,104.38 L202.30,104.43 L203.30,104.47 L204.30,104.52 L205.30,104.56 L206.30,104.61 L207.30,104.65 L208.30,104.69 L209.30,104.73 L210.30,104.77 L211.30,104.80 L212.30,104.84 L213.30,104.88 L214.30,104.91 L215.30,104.94 L216.30,104.98 L217.30,105.01 L218.30,105.04 L219.30,105.07 L220.30,105.10 L221.30,105.13 L222.30,105.16 L223.30,105.19 L224.30,105.21 L225.30,105.24 L226.30,105.26 L227.30,105.29 L228.30,105.31 L229.30,105.34 L230.30,105.36 L231.30,105.38 L232.30,105.40 L233.30,105.43 L234.30,105.45 L235.30,105.47 L236.30,105.49 L237.30,105.51 L238.30,105.52 L239.30,105.54 L240.30,105.56 L241.30,105.58 L242.30,105.59 L243.30,105.61 L244.30,105.63 L245.30,105.64 L246.30,105.66 L247.30,105.67 L248.30,105.69 L249.30,105.70 L250.30,105.71 L251.30,105.73 L252.30,105.74 L253.30,105.75 L254.30,105.77 L255.30,105.78 L256.30,105.79 L257.30,105.80 L258.30,105.81 L259.30,105.82 L260.30,105.83 L261.30,105.84 L262.30,105.85 L263.30,105.86 L264.30,105.87 L265.30,105.88 L266.30,105.89 L267.30,105.90 L268.30,105.91 L269.30,105.92 L270.30,105.92 L271.30,105.93 L272.30,105.94 L273.30,105.95 L274.30,105.96 L275.30,105.96 L276.30,105.97 L277.30,105.98 L278.30,105.98 L279.30,105.99 L280.30,106.00 L281.30,106.00 L282.30,106.01 L283.30,106.01 L284.30,106.02 L285.00,106.02" fill="none" stroke="#980010" stroke-width="2.2" stroke-linecap="butt"/>
<path d="M53.70,155.15 L54.70,158.36 L55.70,161.51 L56.70,164.58 L57.70,167.58 L58.70,170.52 L59.70,173.41 L60.70,176.23 L61.70,179.00 L62.70,181.73 L63.70,184.40 L64.70,187.04 L65.70,189.63 L66.70,192.19 L67.70,194.72 L68.70,197.22 L69.70,199.69 L70.70,202.12 L71.70,204.52 L72.70,206.88 L73.70,209.20 L74.70,211.47 L75.70,213.70 L76.70,215.88 L77.70,218.01 L78.70,220.09 L79.70,222.11 L80.70,224.07 L81.70,225.97 L82.70,227.82 L83.70,229.61 L84.70,231.35 L85.70,233.03 L86.70,234.66 L87.70,236.24 L88.70,237.77 L89.70,239.25 L90.70,240.69 L91.70,242.07 L92.70,243.42 L93.70,244.72 L94.70,245.98 L95.70,247.20 L96.70,248.38 L97.70,249.53 L98.70,250.63 L99.70,251.70 L100.70,252.74 L101.70,253.75 L102.70,254.72 L103.70,255.67 L104.70,256.58 L105.70,257.47 L106.70,258.33 L107.70,259.17 L108.70,259.99 L109.70,260.78 L110.70,261.55 L111.70,262.30 L112.70,263.04 L113.70,263.75 L114.70,264.45 L115.70,265.12 L116.70,265.78 L117.70,266.42 L118.70,267.04 L119.70,267.65 L120.70,268.24 L121.70,268.81 L122.70,269.37 L123.70,269.91 L124.70,270.44 L125.70,270.95 L126.70,271.44 L127.70,271.93 L128.70,272.40 L129.70,272.85 L130.70,273.30 L131.70,273.73 L132.70,274.15 L133.70,274.56 L134.70,274.95 L135.70,275.34 L136.70,275.71 L137.70,276.07 L138.70,276.43 L139.70,276.77 L140.70,277.11 L141.70,277.43 L142.70,277.75 L143.70,278.06 L144.70,278.36 L145.70,278.66 L146.70,278.95 L147.70,279.23 L148.70,279.50 L149.70,279.77 L150.70,280.04 L151.70,280.30 L152.70,280.55 L153.70,280.80 L154.70,281.05 L155.70,281.29 L156.70,281.53 L157.70,281.77 L158.70,282.00 L159.70,282.23 L160.70,282.46 L161.70,282.68 L162.70,282.90 L163.70,283.11 L164.70,283.33 L165.70,283.54 L166.70,283.75 L167.70,283.95 L168.70,284.15 L169.70,284.35 L170.70,284.54 L171.70,284.73 L172.70,284.92 L173.70,285.11 L174.70,285.29 L175.70,285.47 L176.70,285.65 L177.70,285.82 L178.70,286.00 L179.70,286.17 L180.70,286.33 L181.70,286.50 L182.70,286.66 L183.70,286.82 L184.70,286.97 L185.70,287.12 L186.70,287.28 L187.70,287.42 L188.70,287.57 L189.70,287.71 L190.70,287.85 L191.70,287.99 L192.70,288.13 L193.70,288.26 L194.70,288.39 L195.70,288.52 L196.70,288.65 L197.70,288.78 L198.70,288.90 L199.70,289.02 L200.70,289.14 L201.70,289.25 L202.70,289.37 L203.70,289.48 L204.70,289.59 L205.70,289.70 L206.70,289.81 L207.70,289.91 L208.70,290.01 L209.70,290.11 L210.70,290.21 L211.70,290.31 L212.70,290.40 L213.70,290.50 L214.70,290.59 L215.70,290.68 L216.70,290.77 L217.70,290.85 L218.70,290.94 L219.70,291.02 L220.70,291.10 L221.70,291.19 L222.70,291.26 L223.70,291.34 L224.70,291.42 L225.70,291.49 L226.70,291.57 L227.70,291.64 L228.70,291.71 L229.70,291.78 L230.70,291.85 L231.70,291.91 L232.70,291.98 L233.70,292.05 L234.70,292.11 L235.70,292.17 L236.70,292.23 L237.70,292.29 L238.70,292.35 L239.70,292.41 L240.70,292.47 L241.70,292.52 L242.70,292.58 L243.70,292.63 L244.70,292.69 L245.70,292.74 L246.70,292.79 L247.70,292.85 L248.70,292.90 L249.70,292.95 L250.70,293.00 L251.70,293.04 L252.70,293.09 L253.70,293.14 L254.70,293.19 L255.70,293.23 L256.70,293.28 L257.70,293.33 L258.70,293.37 L259.70,293.42 L260.70,293.46 L261.70,293.50 L262.70,293.55 L263.70,293.59 L264.70,293.63 L265.70,293.68 L266.70,293.72 L267.70,293.76 L268.70,293.81 L269.70,293.85 L270.70,293.89 L271.70,293.93 L272.70,293.97 L273.70,294.02 L274.70,294.06 L275.70,294.10 L276.70,294.14 L277.70,294.19 L278.70,294.23 L279.70,294.27 L280.70,294.31 L281.70,294.36 L282.70,294.40 L283.70,294.45 L284.70,294.49 L285.70,294.53 L286.70,294.58 L287.70,294.62 L288.70,294.67 L289.70,294.72 L290.70,294.76 L291.70,294.81 L292.70,294.86 L293.70,294.91 L294.70,294.96 L295.70,295.01 L296.70,295.06 L297.70,295.11 L298.70,295.16 L299.70,295.21 L300.70,295.27 L300.80,295.27" fill="none" stroke="#0606c4" stroke-width="2.6" stroke-linecap="butt"/>
<path d="M63.70,317.49 L64.70,319.92 L65.70,322.29 L66.70,324.60 L67.70,326.84 L68.70,329.02 L69.70,331.15 L70.70,333.21 L71.70,335.22 L72.70,337.18 L73.70,339.09 L74.70,340.94 L75.70,342.75 L76.70,344.50 L77.70,346.21 L78.70,347.88 L79.70,349.50 L80.70,351.08 L81.70,352.62 L82.70,354.11 L83.70,355.57 L84.70,356.99 L85.70,358.37 L86.70,359.72 L87.70,361.03 L88.70,362.31 L89.70,363.55 L90.70,364.76 L91.70,365.94 L92.70,367.09 L93.70,368.22 L94.70,369.31 L95.70,370.37 L96.70,371.41 L97.70,372.42 L98.70,373.40 L99.70,374.36 L100.70,375.30 L101.70,376.21 L102.70,377.10 L103.70,377.97 L104.70,378.81 L105.70,379.63 L106.70,380.44 L107.70,381.22 L108.70,381.98 L109.70,382.73 L110.70,383.46 L111.70,384.16 L112.70,384.86 L113.70,385.53 L114.70,386.19 L115.70,386.83 L116.70,387.46 L117.70,388.07 L118.70,388.66 L119.70,389.24 L120.70,389.81 L121.70,390.37 L122.70,390.91 L123.70,391.43 L124.70,391.95 L125.70,392.45 L126.70,392.94 L127.70,393.42 L128.70,393.89 L129.70,394.35 L130.70,394.80 L131.70,395.23 L132.70,395.66 L133.70,396.08 L134.70,396.48 L135.70,396.88 L136.70,397.27 L137.70,397.65 L138.70,398.02 L139.70,398.38 L140.70,398.74 L141.70,399.08 L142.70,399.42 L143.70,399.75 L144.70,400.08 L145.70,400.39 L146.70,400.70 L147.70,401.00 L148.70,401.30 L149.70,401.59 L150.70,401.87 L151.70,402.15 L152.70,402.42 L153.70,402.69 L154.70,402.95 L155.70,403.20 L156.70,403.45 L157.70,403.69 L158.70,403.93 L159.70,404.16 L160.70,404.39 L161.70,404.61 L162.70,404.83 L163.70,405.05 L164.70,405.26 L165.70,405.46 L166.70,405.66 L167.70,405.86 L168.70,406.05 L169.70,406.24 L170.70,406.43 L171.70,406.61 L172.70,406.79 L173.70,406.96 L174.70,407.13 L175.70,407.30 L176.70,407.46 L177.70,407.63 L178.70,407.78 L179.70,407.94 L180.70,408.09 L181.70,408.24 L182.70,408.38 L183.70,408.53 L184.70,408.67 L185.70,408.81 L186.70,408.94 L187.70,409.07 L188.70,409.20 L189.70,409.33 L190.70,409.46 L191.70,409.58 L192.70,409.70 L193.70,409.82 L194.70,409.93 L195.70,410.05 L196.70,410.16 L197.70,410.27 L198.70,410.38 L199.70,410.48 L200.70,410.59 L201.70,410.69 L202.70,410.79 L203.70,410.89 L204.70,410.99 L205.70,411.08 L206.70,411.17 L207.70,411.27 L208.70,411.36 L209.70,411.45 L210.70,411.53 L211.70,411.62 L212.70,411.70 L213.70,411.79 L214.70,411.87 L215.70,411.95 L216.70,412.03 L217.70,412.10 L218.70,412.18 L219.70,412.25 L220.70,412.33 L221.70,412.40 L222.70,412.47 L223.70,412.54 L224.70,412.61 L225.70,412.68 L226.70,412.74 L227.70,412.81 L228.70,412.87 L229.70,412.94 L230.70,413.00 L231.70,413.06 L232.70,413.12 L233.70,413.18 L234.70,413.24 L235.70,413.30 L236.70,413.35 L237.70,413.41 L238.70,413.47 L239.70,413.52 L240.70,413.57 L241.70,413.62 L242.70,413.68 L243.70,413.73 L244.70,413.78 L245.70,413.83 L246.70,413.88 L247.70,413.92 L248.70,413.97 L249.70,414.02 L250.70,414.06 L251.70,414.11 L252.70,414.15 L253.70,414.20 L254.70,414.24 L255.70,414.28 L256.70,414.32 L257.70,414.36 L258.70,414.40 L259.70,414.44 L260.70,414.48 L261.70,414.52 L262.70,414.56 L263.70,414.60 L264.70,414.64 L265.70,414.67 L266.70,414.71 L267.70,414.74 L268.70,414.78 L269.70,414.81 L270.70,414.85 L271.70,414.88 L272.70,414.92 L273.70,414.95 L274.70,414.98 L275.70,415.01 L276.70,415.04 L277.70,415.07 L278.70,415.10 L279.70,415.13 L280.70,415.16 L281.70,415.19 L282.70,415.22 L283.70,415.25 L284.70,415.28 L285.70,415.31 L286.70,415.33 L287.70,415.36 L288.70,415.39 L289.70,415.41 L290.70,415.44 L291.70,415.46 L292.70,415.49 L293.70,415.51 L294.70,415.54 L295.70,415.56 L296.70,415.59 L297.70,415.61 L298.70,415.63 L299.70,415.66 L300.20,415.67" fill="none" stroke="#149414" stroke-width="2.4" stroke-linecap="butt"/>
<line x1="48.2" y1="16.5" x2="48.2" y2="105.5" stroke="#6e6e6e" stroke-width="1.3"/>
<line x1="48.2" y1="151.6" x2="48.2" y2="280" stroke="#6e6e6e" stroke-width="1.3"/>
<line x1="48.2" y1="313" x2="48.2" y2="418" stroke="#6e6e6e" stroke-width="1.3"/>
<line x1="43.6" y1="35.7" x2="48.2" y2="35.7" stroke="#6e6e6e" stroke-width="1.2"/>
<text x="17.24" y="39.5" font-size="11" fill="#000" textLength="23.36" lengthAdjust="spacingAndGlyphs">2830</text>
<line x1="43.6" y1="82" x2="48.2" y2="82" stroke="#6e6e6e" stroke-width="1.2"/>
<text x="17.24" y="85.8" font-size="11" fill="#000" textLength="23.36" lengthAdjust="spacingAndGlyphs">2825</text>
<line x1="43.6" y1="177.8" x2="48.2" y2="177.8" stroke="#6e6e6e" stroke-width="1.2"/>
<text x="23.08" y="181.6" font-size="11" fill="#000" textLength="17.52" lengthAdjust="spacingAndGlyphs">455</text>
<line x1="43.6" y1="225.3" x2="48.2" y2="225.3" stroke="#6e6e6e" stroke-width="1.2"/>
<text x="23.08" y="229.1" font-size="11" fill="#000" textLength="17.52" lengthAdjust="spacingAndGlyphs">450</text>
<line x1="43.6" y1="273" x2="48.2" y2="273" stroke="#6e6e6e" stroke-width="1.2"/>
<text x="23.08" y="276.8" font-size="11" fill="#000" textLength="17.52" lengthAdjust="spacingAndGlyphs">445</text>
<line x1="43.6" y1="316.9" x2="48.2" y2="316.9" stroke="#6e6e6e" stroke-width="1.2"/>
<text x="23.08" y="320.7" font-size="11" fill="#000" textLength="17.52" lengthAdjust="spacingAndGlyphs">250</text>
<line x1="43.6" y1="364.8" x2="48.2" y2="364.8" stroke="#6e6e6e" stroke-width="1.2"/>
<text x="23.08" y="368.6" font-size="11" fill="#000" textLength="17.52" lengthAdjust="spacingAndGlyphs">245</text>
<line x1="43.6" y1="412" x2="48.2" y2="412" stroke="#6e6e6e" stroke-width="1.2"/>
<text x="23.08" y="415.8" font-size="11" fill="#000" textLength="17.52" lengthAdjust="spacingAndGlyphs">240</text>
<line x1="46" y1="478.2" x2="300" y2="478.2" stroke="#6e6e6e" stroke-width="1.3"/>
<line x1="60.0" y1="478.2" x2="60.0" y2="483.5" stroke="#6e6e6e" stroke-width="1.1"/>
<line x1="69.5" y1="478.2" x2="69.5" y2="481.5" stroke="#6e6e6e" stroke-width="1.1"/>
<line x1="79.1" y1="478.2" x2="79.1" y2="481.5" stroke="#6e6e6e" stroke-width="1.1"/>
<line x1="88.7" y1="478.2" x2="88.7" y2="481.5" stroke="#6e6e6e" stroke-width="1.1"/>
<line x1="98.2" y1="478.2" x2="98.2" y2="481.5" stroke="#6e6e6e" stroke-width="1.1"/>
<line x1="107.8" y1="478.2" x2="107.8" y2="483.5" stroke="#6e6e6e" stroke-width="1.1"/>
<line x1="117.3" y1="478.2" x2="117.3" y2="481.5" stroke="#6e6e6e" stroke-width="1.1"/>
<line x1="126.9" y1="478.2" x2="126.9" y2="481.5" stroke="#6e6e6e" stroke-width="1.1"/>
<line x1="136.4" y1="478.2" x2="136.4" y2="481.5" stroke="#6e6e6e" stroke-width="1.1"/>
<line x1="145.9" y1="478.2" x2="145.9" y2="481.5" stroke="#6e6e6e" stroke-width="1.1"/>
<line x1="155.5" y1="478.2" x2="155.5" y2="483.5" stroke="#6e6e6e" stroke-width="1.1"/>
<line x1="165.1" y1="478.2" x2="165.1" y2="481.5" stroke="#6e6e6e" stroke-width="1.1"/>
<line x1="174.6" y1="478.2" x2="174.6" y2="481.5" stroke="#6e6e6e" stroke-width="1.1"/>
<line x1="184.2" y1="478.2" x2="184.2" y2="481.5" stroke="#6e6e6e" stroke-width="1.1"/>
<line x1="193.7" y1="478.2" x2="193.7" y2="481.5" stroke="#6e6e6e" stroke-width="1.1"/>
<line x1="203.2" y1="478.2" x2="203.2" y2="483.5" stroke="#6e6e6e" stroke-width="1.1"/>
<line x1="212.8" y1="478.2" x2="212.8" y2="481.5" stroke="#6e6e6e" stroke-width="1.1"/>
<line x1="222.4" y1="478.2" x2="222.4" y2="481.5" stroke="#6e6e6e" stroke-width="1.1"/>
<line x1="231.9" y1="478.2" x2="231.9" y2="481.5" stroke="#6e6e6e" stroke-width="1.1"/>
<line x1="241.5" y1="478.2" x2="241.5" y2="481.5" stroke="#6e6e6e" stroke-width="1.1"/>
<line x1="251.0" y1="478.2" x2="251.0" y2="483.5" stroke="#6e6e6e" stroke-width="1.1"/>
<line x1="260.6" y1="478.2" x2="260.6" y2="481.5" stroke="#6e6e6e" stroke-width="1.1"/>
<line x1="270.1" y1="478.2" x2="270.1" y2="481.5" stroke="#6e6e6e" stroke-width="1.1"/>
<line x1="279.6" y1="478.2" x2="279.6" y2="481.5" stroke="#6e6e6e" stroke-width="1.1"/>
<line x1="289.2" y1="478.2" x2="289.2" y2="481.5" stroke="#6e6e6e" stroke-width="1.1"/>
<line x1="298.8" y1="478.2" x2="298.8" y2="483.5" stroke="#6e6e6e" stroke-width="1.1"/>
<text x="60.8" y="496.0" font-size="10.3" text-anchor="middle" fill="#000">1.0</text>
<text x="108.5" y="496.0" font-size="10.3" text-anchor="middle" fill="#000">1.5</text>
<text x="156.3" y="496.0" font-size="10.3" text-anchor="middle" fill="#000">2.0</text>
<text x="204.1" y="496.0" font-size="10.3" text-anchor="middle" fill="#000">2.5</text>
<text x="251.8" y="496.0" font-size="10.3" text-anchor="middle" fill="#000">3.0</text>
<line x1="85.3" y1="474.8" x2="85.3" y2="481" stroke="#333" stroke-width="1.2"/>
<text x="80.5" y="471.3" font-size="14" font-style="italic" fill="#000">R<tspan font-size="12" dy="4.5">e</tspan></text>
<path d="M90.7,88.8 L103.1,88.8 L103.1,143.1 L108.8,143.1 Q111.0,143.1 109.8,145.0 L99.3,161.8 Q96.9,165.6 94.5,161.8 L84.0,145.0 Q82.8,143.1 85.0,143.1 L90.7,143.1 Z" fill="#6e4c1e"/><path d="M92.3,87.8 L104.7,87.8 L104.7,142.1 L110.4,142.1 Q112.6,142.1 111.4,144.0 L100.9,160.8 Q98.5,164.6 96.1,160.8 L85.6,144.0 Q84.4,142.1 86.6,142.1 L92.3,142.1 Z" fill="#fa9e34"/>
<path d="M132.8,288.9 L170.8,288.9 L170.8,337.4 L183.6,337.4 Q186.6,337.4 184.3,339.4 L159.3,360.8 Q151.8,367.3 144.2,360.8 L119.2,339.4 Q117.0,337.4 120.0,337.4 L132.8,337.4 Z" fill="#2e8a90"/><path d="M135.6,287.4 L173.6,287.4 L173.6,335.9 L186.4,335.9 Q189.4,335.9 187.1,337.9 L162.1,359.3 Q154.6,365.8 147.0,359.3 L122.0,337.9 Q119.8,335.9 122.8,335.9 L135.6,335.9 Z" fill="#78e2ea"/>
<path d="M159.8,420.8 L196.8,420.8 L196.8,454.8 L208.8,454.8 Q211.8,454.8 209.3,456.4 L189.2,469.5 Q178.2,476.6 167.3,469.5 L147.2,456.4 Q144.7,454.8 147.7,454.8 L159.8,454.8 Z" fill="#12963a"/><path d="M162.8,419.2 L199.8,419.2 L199.8,453.2 L211.8,453.2 Q214.8,453.2 212.3,454.8 L192.2,467.9 Q181.2,475.0 170.3,467.9 L150.2,454.8 Q147.7,453.2 150.7,453.2 L162.8,453.2 Z" fill="#19f05f"/>
<rect x="144" y="35.1" width="128.9" height="30.3" rx="1.2" fill="none" stroke="#c4505e" stroke-width="1.3"/>
<rect x="170.4" y="212.8" width="128" height="29.6" rx="1.2" fill="none" stroke="#4f55ee" stroke-width="1.3"/>
<rect x="191.2" y="342.5" width="159.5" height="30.1" rx="1.2" fill="none" stroke="#4a9866" stroke-width="1.3"/>
<text x="146.6" y="58.6" font-size="16" fill="#000">Cl 1s<tspan font-size="11.8" font-weight="bold" fill="#1414c8" stroke="#1414c8" stroke-width="0.35" dx="0.6" dy="-4.3">-1</tspan></text>
<text x="194.3" y="58.6" font-size="16" fill="#000">σ</text><path d="M207.60,45.50 L207.60,53.50 M211.06,47.50 L204.14,51.50 M211.06,51.50 L204.14,47.50" stroke="#000" stroke-width="0.85" fill="none"/>
<text x="172.4" y="236.2" font-size="16" fill="#000">Cl 2p<tspan font-size="11.8" font-weight="bold" fill="#c8101a" stroke="#c8101a" stroke-width="0.35" dx="0.4" dy="-5.5">-2</tspan></text>
<text x="219.0" y="236.2" font-size="16" fill="#000">σ</text><path d="M234.00,222.90 L234.00,230.90 M237.46,224.90 L230.54,228.90 M237.46,228.90 L230.54,224.90" stroke="#000" stroke-width="0.85" fill="none"/>
<text x="193.2" y="366.2" font-size="16" fill="#000">Cl 2p<tspan font-size="11.8" font-weight="bold" fill="#1414c8" stroke="#1414c8" stroke-width="0.35" dx="0.4" dy="-5.5">-1</tspan><tspan dx="0.4" dy="5.5">(Vσ</tspan><tspan dx="8.4">)</tspan><tspan font-size="11.8" font-weight="bold" stroke="#000" stroke-width="0.35" dx="0.6" dy="-5.5">-2</tspan></text>
<path d="M270.80,354.20 L270.80,362.20 M274.26,356.20 L267.34,360.20 M274.26,360.20 L267.34,356.20" stroke="#000" stroke-width="0.85" fill="none"/>
<text x="219.6" y="58.8" font-size="12.5" fill="#000" textLength="22.6" lengthAdjust="spacingAndGlyphs">(<tspan font-size="15.0" font-family="Liberation Serif">τ</tspan> ~1</text><text x="248.6" y="58.8" font-size="12.5" fill="#000" textLength="17.2" lengthAdjust="spacingAndGlyphs"><tspan font-style="italic">fs</tspan>)</text>
<text x="246.6" y="236.4" font-size="12.5" fill="#000" textLength="25.6" lengthAdjust="spacingAndGlyphs">(<tspan font-size="15.0" font-family="Liberation Serif">τ</tspan> ~3</text><text x="278.8" y="236.4" font-size="12.5" fill="#000" textLength="14.6" lengthAdjust="spacingAndGlyphs"><tspan font-style="italic">fs</tspan>)</text>
<text x="300.4" y="366.6" font-size="12.5" fill="#000" textLength="46.0" lengthAdjust="spacingAndGlyphs">(<tspan font-size="15.0" font-family="Liberation Serif">τ</tspan> ~8 <tspan font-style="italic">fs</tspan>)</text>
<text x="111.5" y="116.8" font-size="11.5" fill="#000">- <tspan font-style="italic">e</tspan><tspan font-size="9.5" dx="0.2" dy="-4.8">-</tspan><tspan font-size="8" font-style="italic" dx="-3.9" dy="9.0">Auger</tspan></text><text x="115.6" y="136.0" font-size="12.6" font-weight="bold" font-style="italic" fill="#000">KLL Auger decay</text>
<text x="180.6" y="304.1" font-size="11.5" fill="#000">- <tspan font-style="italic">e</tspan><tspan font-size="9.5" dx="0.2" dy="-4.8">-</tspan><tspan font-size="8" font-style="italic" dx="-3.9" dy="8.4">Auger</tspan></text><text x="181.0" y="323.4" font-size="12.6" font-weight="bold" font-style="italic" fill="#1616d6">LMM1 Auger decay</text>
<text x="207.8" y="430.5" font-size="11.5" fill="#000">- <tspan font-style="italic">e</tspan><tspan font-size="9.5" dx="0.2" dy="-4.8">-</tspan><tspan font-size="8" font-style="italic" dx="-3.9" dy="8.0">Auger</tspan></text><text x="207.3" y="450.8" font-size="12.6" font-weight="bold" font-style="italic" fill="#127a26">LMM2 Auger decay</text>
<text x="47.0" y="10.1" font-size="14" font-weight="bold" fill="#7010c8" textLength="83.4" lengthAdjust="spacingAndGlyphs">HCl molecule</text>
<text x="202.6" y="10.1" font-size="14" font-weight="bold" fill="#1a3894" textLength="95.2" lengthAdjust="spacingAndGlyphs">H and Cl atoms</text>
<text transform="translate(10.4,168.5) rotate(-90)" x="0" y="0" font-size="13.3" text-anchor="middle" fill="#000">Binding Energy, eV</text>
<text x="91.4" y="509.2" font-size="14.2" fill="#000" textLength="176.2" lengthAdjust="spacingAndGlyphs">H—Cl Interatomic distance, Å</text>
</svg>
</body></html>
